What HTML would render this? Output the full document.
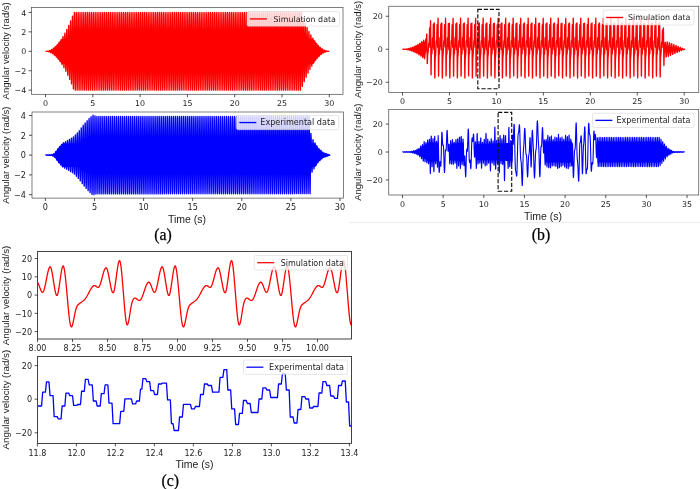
<!DOCTYPE html>
<html><head><meta charset="utf-8"><title>Figure</title>
<style>html,body{margin:0;padding:0;background:#fff}body{width:700px;height:489px;overflow:hidden}</style></head>
<body>
<svg width="700" height="489" viewBox="0 0 700 489" style="display:block">
<rect width="700" height="489" fill="#fff"/>
<line x1="349.5" x2="700" y1="222.6" y2="222.6" stroke="#ececec" stroke-width="1"/>
<defs>
<clipPath id="cp0"><rect x="31.6" y="7.4" width="311.4" height="86.89999999999999"/></clipPath>
<clipPath id="cp1"><rect x="32" y="112.0" width="311.5" height="86.1"/></clipPath>
<clipPath id="cp2"><rect x="388.75" y="6.25" width="310.0" height="86.25"/></clipPath>
<clipPath id="cp3"><rect x="388.75" y="109.5" width="310.0" height="85.5"/></clipPath>
<clipPath id="cp4"><rect x="37.6" y="251.4" width="313.9" height="87.6"/></clipPath>
<clipPath id="cp5"><rect x="37.6" y="356.5" width="313.9" height="86.89999999999998"/></clipPath>
</defs>
<path clip-path="url(#cp0)" d="M45.5,51.3L46.45,51.26L47.39,51.13L48.34,50.91L49.28,50.61L50.23,50.22L51.18,49.74L52.12,49.18L53.07,48.54L54.01,47.8L54.96,46.98L55.91,46.07L56.85,45.08L57.8,44L58.74,42.83L59.69,41.58L60.64,40.24L61.58,38.82L62.53,38.66L63.47,38.66L64.42,38.66L65.37,38.66L66.31,38.66L67.26,38.66L68.2,38.66L69.15,38.66L70.1,38.66L71.04,38.66L71.99,38.66L72.93,38.66L73.88,38.66L74.83,38.66L75.77,38.66L76.72,38.66L77.66,38.66L78.61,38.66L79.56,38.66L80.5,38.66L81.45,38.66L82.39,38.66L83.34,38.66L84.29,38.66L85.23,38.66L86.18,38.66L87.12,38.66L88.07,38.66L89.02,38.66L89.96,38.66L90.91,38.66L91.85,38.66L92.8,38.66L93.75,38.66L94.69,38.66L95.64,38.66L96.58,38.66L97.53,38.66L98.48,38.66L99.42,38.66L100.37,38.66L101.31,38.66L102.26,38.66L103.21,38.66L104.15,38.66L105.1,38.66L106.04,38.66L106.99,38.66L107.94,38.66L108.88,38.66L109.83,38.66L110.77,38.66L111.72,38.66L112.67,38.66L113.61,38.66L114.56,38.66L115.5,38.66L116.45,38.66L117.4,38.66L118.34,38.66L119.29,38.66L120.23,38.66L121.18,38.66L122.13,38.66L123.07,38.66L124.02,38.66L124.96,38.66L125.91,38.66L126.86,38.66L127.8,38.66L128.75,38.66L129.69,38.66L130.64,38.66L131.59,38.66L132.53,38.66L133.48,38.66L134.42,38.66L135.37,38.66L136.32,38.66L137.26,38.66L138.21,38.66L139.15,38.66L140.1,38.66L141.05,38.66L141.99,38.66L142.94,38.66L143.88,38.66L144.83,38.66L145.78,38.66L146.72,38.66L147.67,38.66L148.61,38.66L149.56,38.66L150.51,38.66L151.45,38.66L152.4,38.66L153.34,38.66L154.29,38.66L155.24,38.66L156.18,38.66L157.13,38.66L158.07,38.66L159.02,38.66L159.97,38.66L160.91,38.66L161.86,38.66L162.8,38.66L163.75,38.66L164.7,38.66L165.64,38.66L166.59,38.66L167.53,38.66L168.48,38.66L169.43,38.66L170.37,38.66L171.32,38.66L172.26,38.66L173.21,38.66L174.16,38.66L175.1,38.66L176.05,38.66L176.99,38.66L177.94,38.66L178.89,38.66L179.83,38.66L180.78,38.66L181.72,38.66L182.67,38.66L183.62,38.66L184.56,38.66L185.51,38.66L186.45,38.66L187.4,38.66L188.35,38.66L189.29,38.66L190.24,38.66L191.18,38.66L192.13,38.66L193.08,38.66L194.02,38.66L194.97,38.66L195.91,38.66L196.86,38.66L197.81,38.66L198.75,38.66L199.7,38.66L200.64,38.66L201.59,38.66L202.54,38.66L203.48,38.66L204.43,38.66L205.37,38.66L206.32,38.66L207.27,38.66L208.21,38.66L209.16,38.66L210.1,38.66L211.05,38.66L212,38.66L212.94,38.66L213.89,38.66L214.83,38.66L215.78,38.66L216.73,38.66L217.67,38.66L218.62,38.66L219.56,38.66L220.51,38.66L221.46,38.66L222.4,38.66L223.35,38.66L224.29,38.66L225.24,38.66L226.19,38.66L227.13,38.66L228.08,38.66L229.02,38.66L229.97,38.66L230.92,38.66L231.86,38.66L232.81,38.66L233.75,38.66L234.7,38.66L235.65,38.66L236.59,38.66L237.54,38.66L238.48,38.66L239.43,38.66L240.38,38.66L241.32,38.66L242.27,38.66L243.21,38.66L244.16,38.66L245.11,38.66L246.05,38.66L247,38.66L247.94,38.66L248.89,38.66L249.84,38.66L250.78,38.66L251.73,38.66L252.67,38.66L253.62,38.66L254.57,38.66L255.51,38.66L256.46,38.66L257.4,38.66L258.35,38.66L259.3,38.66L260.24,38.66L261.19,38.66L262.13,38.66L263.08,38.66L264.03,38.66L264.97,38.66L265.92,38.66L266.86,38.66L267.81,38.66L268.76,38.66L269.7,38.66L270.65,38.66L271.59,38.66L272.54,38.66L273.49,38.66L274.43,38.66L275.38,38.66L276.32,38.66L277.27,38.66L278.22,38.66L279.16,38.66L280.11,38.66L281.05,38.66L282,38.66L282.95,38.66L283.89,38.66L284.84,38.66L285.78,38.66L286.73,38.66L287.68,38.66L288.62,38.66L289.57,38.66L290.51,38.66L291.46,38.66L292.41,38.66L293.35,38.66L294.3,38.66L295.24,38.66L296.19,38.66L297.14,38.66L298.08,38.66L299.03,38.66L299.97,38.66L300.92,38.66L301.87,38.66L302.81,38.66L303.76,38.66L304.7,38.66L305.65,38.66L306.6,38.66L307.54,38.66L308.49,38.66L309.43,38.66L310.38,38.66L311.33,38.66L312.27,38.66L313.22,38.82L314.16,40.24L315.11,41.58L316.06,42.83L317,44L317.95,45.08L318.89,46.07L319.84,46.98L320.79,47.8L321.73,48.54L322.68,49.18L323.62,49.74L324.57,50.22L325.52,50.61L326.46,50.91L327.41,51.13L328.35,51.26L329.3,51.3L329.3,51.3L328.35,51.34L327.41,51.47L326.46,51.69L325.52,51.99L324.57,52.38L323.62,52.86L322.68,53.42L321.73,54.06L320.79,54.8L319.84,55.62L318.89,56.53L317.95,57.52L317,58.6L316.06,59.77L315.11,61.02L314.16,62.36L313.22,63.78L312.27,63.94L311.33,63.94L310.38,63.94L309.43,63.94L308.49,63.94L307.54,63.94L306.6,63.94L305.65,63.94L304.7,63.94L303.76,63.94L302.81,63.94L301.87,63.94L300.92,63.94L299.97,63.94L299.03,63.94L298.08,63.94L297.14,63.94L296.19,63.94L295.24,63.94L294.3,63.94L293.35,63.94L292.41,63.94L291.46,63.94L290.51,63.94L289.57,63.94L288.62,63.94L287.68,63.94L286.73,63.94L285.78,63.94L284.84,63.94L283.89,63.94L282.95,63.94L282,63.94L281.05,63.94L280.11,63.94L279.16,63.94L278.22,63.94L277.27,63.94L276.32,63.94L275.38,63.94L274.43,63.94L273.49,63.94L272.54,63.94L271.59,63.94L270.65,63.94L269.7,63.94L268.76,63.94L267.81,63.94L266.86,63.94L265.92,63.94L264.97,63.94L264.03,63.94L263.08,63.94L262.13,63.94L261.19,63.94L260.24,63.94L259.3,63.94L258.35,63.94L257.4,63.94L256.46,63.94L255.51,63.94L254.57,63.94L253.62,63.94L252.67,63.94L251.73,63.94L250.78,63.94L249.84,63.94L248.89,63.94L247.94,63.94L247,63.94L246.05,63.94L245.11,63.94L244.16,63.94L243.21,63.94L242.27,63.94L241.32,63.94L240.38,63.94L239.43,63.94L238.48,63.94L237.54,63.94L236.59,63.94L235.65,63.94L234.7,63.94L233.75,63.94L232.81,63.94L231.86,63.94L230.92,63.94L229.97,63.94L229.02,63.94L228.08,63.94L227.13,63.94L226.19,63.94L225.24,63.94L224.29,63.94L223.35,63.94L222.4,63.94L221.46,63.94L220.51,63.94L219.56,63.94L218.62,63.94L217.67,63.94L216.73,63.94L215.78,63.94L214.83,63.94L213.89,63.94L212.94,63.94L212,63.94L211.05,63.94L210.1,63.94L209.16,63.94L208.21,63.94L207.27,63.94L206.32,63.94L205.37,63.94L204.43,63.94L203.48,63.94L202.54,63.94L201.59,63.94L200.64,63.94L199.7,63.94L198.75,63.94L197.81,63.94L196.86,63.94L195.91,63.94L194.97,63.94L194.02,63.94L193.08,63.94L192.13,63.94L191.18,63.94L190.24,63.94L189.29,63.94L188.35,63.94L187.4,63.94L186.45,63.94L185.51,63.94L184.56,63.94L183.62,63.94L182.67,63.94L181.72,63.94L180.78,63.94L179.83,63.94L178.89,63.94L177.94,63.94L176.99,63.94L176.05,63.94L175.1,63.94L174.16,63.94L173.21,63.94L172.26,63.94L171.32,63.94L170.37,63.94L169.43,63.94L168.48,63.94L167.53,63.94L166.59,63.94L165.64,63.94L164.7,63.94L163.75,63.94L162.8,63.94L161.86,63.94L160.91,63.94L159.97,63.94L159.02,63.94L158.07,63.94L157.13,63.94L156.18,63.94L155.24,63.94L154.29,63.94L153.34,63.94L152.4,63.94L151.45,63.94L150.51,63.94L149.56,63.94L148.61,63.94L147.67,63.94L146.72,63.94L145.78,63.94L144.83,63.94L143.88,63.94L142.94,63.94L141.99,63.94L141.05,63.94L140.1,63.94L139.15,63.94L138.21,63.94L137.26,63.94L136.32,63.94L135.37,63.94L134.42,63.94L133.48,63.94L132.53,63.94L131.59,63.94L130.64,63.94L129.69,63.94L128.75,63.94L127.8,63.94L126.86,63.94L125.91,63.94L124.96,63.94L124.02,63.94L123.07,63.94L122.13,63.94L121.18,63.94L120.23,63.94L119.29,63.94L118.34,63.94L117.4,63.94L116.45,63.94L115.5,63.94L114.56,63.94L113.61,63.94L112.67,63.94L111.72,63.94L110.77,63.94L109.83,63.94L108.88,63.94L107.94,63.94L106.99,63.94L106.04,63.94L105.1,63.94L104.15,63.94L103.21,63.94L102.26,63.94L101.31,63.94L100.37,63.94L99.42,63.94L98.48,63.94L97.53,63.94L96.58,63.94L95.64,63.94L94.69,63.94L93.75,63.94L92.8,63.94L91.85,63.94L90.91,63.94L89.96,63.94L89.02,63.94L88.07,63.94L87.12,63.94L86.18,63.94L85.23,63.94L84.29,63.94L83.34,63.94L82.39,63.94L81.45,63.94L80.5,63.94L79.56,63.94L78.61,63.94L77.66,63.94L76.72,63.94L75.77,63.94L74.83,63.94L73.88,63.94L72.93,63.94L71.99,63.94L71.04,63.94L70.1,63.94L69.15,63.94L68.2,63.94L67.26,63.94L66.31,63.94L65.37,63.94L64.42,63.94L63.47,63.94L62.53,63.94L61.58,63.78L60.64,62.36L59.69,61.02L58.74,59.77L57.8,58.6L56.85,57.52L55.91,56.53L54.96,55.62L54.01,54.8L53.07,54.06L52.12,53.42L51.18,52.86L50.23,52.38L49.28,51.99L48.34,51.69L47.39,51.47L46.45,51.34L45.5,51.3Z" fill="#ff0000" fill-opacity="1" stroke="none"/>
<path clip-path="url(#cp0)" d="M45.5,51.3L45.59,51.3L45.69,51.3L45.78,51.3L45.88,51.29L45.97,51.29L46.07,51.29L46.16,51.28L46.26,51.28L46.35,51.29L46.45,51.3L46.54,51.32L46.64,51.34L46.73,51.36L46.82,51.38L46.92,51.4L47.01,51.41L47.11,51.4L47.2,51.38L47.3,51.35L47.39,51.3L47.49,51.24L47.58,51.18L47.68,51.12L47.77,51.06L47.87,51.03L47.96,51.02L48.05,51.05L48.15,51.1L48.24,51.19L48.34,51.3L48.43,51.43L48.53,51.56L48.62,51.68L48.72,51.77L48.81,51.83L48.91,51.83L49,51.78L49.09,51.67L49.19,51.5L49.28,51.3L49.38,51.08L49.47,50.85L49.57,50.65L49.66,50.5L49.76,50.43L49.85,50.43L49.95,50.53L50.04,50.71L50.14,50.98L50.23,51.3L50.32,51.65L50.42,51.99L50.51,52.28L50.61,52.5L50.7,52.61L50.8,52.59L50.89,52.44L50.99,52.15L51.08,51.76L51.18,51.3L51.27,50.8L51.37,50.32L51.46,49.91L51.55,49.62L51.65,49.47L51.74,49.51L51.84,49.73L51.93,50.13L52.03,50.66L52.12,51.3L52.22,51.97L52.31,52.62L52.41,53.16L52.5,53.55L52.59,53.73L52.69,53.67L52.78,53.37L52.88,52.84L52.97,52.13L53.07,51.3L53.16,50.42L53.26,49.59L53.35,48.89L53.45,48.4L53.54,48.18L53.64,48.26L53.73,48.65L53.82,49.33L53.92,50.24L54.01,51.3L54.11,52.41L54.2,53.45L54.3,54.32L54.39,54.93L54.49,55.2L54.58,55.09L54.68,54.59L54.77,53.74L54.87,52.61L54.96,51.3L55.05,49.94L55.15,48.66L55.24,47.59L55.34,46.86L55.43,46.54L55.53,46.68L55.62,47.3L55.72,48.34L55.81,49.71L55.91,51.3L56,52.94L56.1,54.49L56.19,55.76L56.28,56.64L56.38,57.01L56.47,56.83L56.57,56.08L56.66,54.84L56.76,53.19L56.85,51.3L56.95,49.35L57.04,47.52L57.14,46.01L57.23,44.98L57.33,44.55L57.42,44.78L57.51,45.66L57.61,47.14L57.7,49.08L57.8,51.3L57.89,53.59L57.99,55.72L58.08,57.48L58.18,58.68L58.27,59.17L58.37,58.9L58.46,57.86L58.55,56.14L58.65,53.88L58.74,51.3L58.84,48.65L58.93,46.18L59.03,44.15L59.12,42.78L59.22,42.22L59.31,42.54L59.41,43.75L59.5,45.74L59.6,48.34L59.69,51.3L59.78,54.34L59.88,57.17L59.97,59.48L60.07,61.04L60.16,61.68L60.26,61.3L60.35,59.91L60.45,57.64L60.54,54.67L60.64,51.3L60.73,47.84L60.83,44.64L60.92,42.01L61.01,40.25L61.11,39.54L61.2,39.98L61.3,41.55L61.39,44.13L61.49,47.49L61.58,51.3L61.68,55.2L61.77,58.81L61.87,61.76L61.96,63.74L62.05,64.53L62.15,64.03L62.24,62.25L62.34,59.35L62.43,55.58L62.53,51.3L62.62,46.93L62.72,42.89L62.81,39.6L62.91,37.39L63,36.51L63.1,37.09L63.19,39.08L63.28,42.33L63.38,46.53L63.47,51.3L63.57,56.17L63.66,60.66L63.76,64.32L63.85,66.76L63.95,67.73L64.04,67.08L64.14,64.86L64.23,61.25L64.33,56.59L64.42,51.3L64.51,45.91L64.61,40.94L64.7,36.9L64.8,34.2L64.89,33.15L64.99,33.86L65.08,36.32L65.18,40.31L65.27,45.47L65.37,51.3L65.46,57.24L65.56,62.71L65.65,67.16L65.74,70.12L65.84,71.27L65.93,70.47L66.03,67.76L66.12,63.37L66.22,57.7L66.31,51.3L66.41,44.78L66.5,38.79L66.6,33.92L66.69,30.68L66.78,29.43L66.88,30.32L66.97,33.29L67.07,38.1L67.16,44.3L67.26,51.3L67.35,58.42L67.45,64.97L67.54,70.27L67.64,73.8L67.73,75.16L67.83,74.18L67.92,70.93L68.01,65.68L68.11,58.93L68.2,51.3L68.3,43.55L68.39,36.43L68.49,30.66L68.58,26.84L68.68,25.37L68.77,26.44L68.87,29.98L68.96,35.68L69.06,43.02L69.15,51.3L69.24,59.71L69.34,67.43L69.43,73.67L69.53,77.81L69.62,79.39L69.72,78.23L69.81,74.38L69.91,68.2L70,60.26L70.1,51.3L70.19,42.21L70.29,33.87L70.38,27.13L70.47,22.66L70.57,20.96L70.66,22.23L70.76,26.38L70.85,33.06L70.95,41.64L71.04,51.3L71.14,61.1L71.23,70.09L71.33,77.35L71.42,82.15L71.52,83.97L71.61,82.6L71.7,78.12L71.8,70.92L71.89,61.69L71.99,51.3L72.08,40.76L72.18,31.11L72.27,23.31L72.37,18.16L72.46,16.21L72.56,17.69L72.65,22.51L72.74,30.24L72.84,40.15L72.93,51.3L73.03,62.6L73.12,72.95L73.22,81.3L73.31,86.81L73.41,88.89L73.5,87.3L73.6,82.13L73.69,73.85L73.79,63.23L73.88,51.3L73.97,39.29L74.07,28.45L74.16,19.85L74.26,14.32L74.35,12.42L74.45,14.32L74.54,19.85L74.64,28.45L74.73,39.29L74.83,51.3L74.92,63.31L75.02,74.15L75.11,82.75L75.2,88.28L75.3,90.18L75.39,88.28L75.49,82.75L75.58,74.15L75.68,63.31L75.77,51.3L75.87,39.29L75.96,28.45L76.06,19.85L76.15,14.32L76.25,12.42L76.34,14.32L76.43,19.85L76.53,28.45L76.62,39.29L76.72,51.3L76.81,63.31L76.91,74.15L77,82.75L77.1,88.28L77.19,90.18L77.29,88.28L77.38,82.75L77.47,74.15L77.57,63.31L77.66,51.3L77.76,39.29L77.85,28.45L77.95,19.85L78.04,14.32L78.14,12.42L78.23,14.32L78.33,19.85L78.42,28.45L78.52,39.29L78.61,51.3L78.7,63.31L78.8,74.15L78.89,82.75L78.99,88.28L79.08,90.18L79.18,88.28L79.27,82.75L79.37,74.15L79.46,63.31L79.56,51.3L79.65,39.29L79.75,28.45L79.84,19.85L79.93,14.32L80.03,12.42L80.12,14.32L80.22,19.85L80.31,28.45L80.41,39.29L80.5,51.3L80.6,63.31L80.69,74.15L80.79,82.75L80.88,88.28L80.97,90.18L81.07,88.28L81.16,82.75L81.26,74.15L81.35,63.31L81.45,51.3L81.54,39.29L81.64,28.45L81.73,19.85L81.83,14.32L81.92,12.42L82.02,14.32L82.11,19.85L82.2,28.45L82.3,39.29L82.39,51.3L82.49,63.31L82.58,74.15L82.68,82.75L82.77,88.28L82.87,90.18L82.96,88.28L83.06,82.75L83.15,74.15L83.25,63.31L83.34,51.3L83.43,39.29L83.53,28.45L83.62,19.85L83.72,14.32L83.81,12.42L83.91,14.32L84,19.85L84.1,28.45L84.19,39.29L84.29,51.3L84.38,63.31L84.48,74.15L84.57,82.75L84.66,88.28L84.76,90.18L84.85,88.28L84.95,82.75L85.04,74.15L85.14,63.31L85.23,51.3L85.33,39.29L85.42,28.45L85.52,19.85L85.61,14.32L85.71,12.42L85.8,14.32L85.89,19.85L85.99,28.45L86.08,39.29L86.18,51.3L86.27,63.31L86.37,74.15L86.46,82.75L86.56,88.28L86.65,90.18L86.75,88.28L86.84,82.75L86.93,74.15L87.03,63.31L87.12,51.3L87.22,39.29L87.31,28.45L87.41,19.85L87.5,14.32L87.6,12.42L87.69,14.32L87.79,19.85L87.88,28.45L87.98,39.29L88.07,51.3L88.16,63.31L88.26,74.15L88.35,82.75L88.45,88.28L88.54,90.18L88.64,88.28L88.73,82.75L88.83,74.15L88.92,63.31L89.02,51.3L89.11,39.29L89.21,28.45L89.3,19.85L89.39,14.32L89.49,12.42L89.58,14.32L89.68,19.85L89.77,28.45L89.87,39.29L89.96,51.3L90.06,63.31L90.15,74.15L90.25,82.75L90.34,88.28L90.44,90.18L90.53,88.28L90.62,82.75L90.72,74.15L90.81,63.31L90.91,51.3L91,39.29L91.1,28.45L91.19,19.85L91.29,14.32L91.38,12.42L91.48,14.32L91.57,19.85L91.66,28.45L91.76,39.29L91.85,51.3L91.95,63.31L92.04,74.15L92.14,82.75L92.23,88.28L92.33,90.18L92.42,88.28L92.52,82.75L92.61,74.15L92.71,63.31L92.8,51.3L92.89,39.29L92.99,28.45L93.08,19.85L93.18,14.32L93.27,12.42L93.37,14.32L93.46,19.85L93.56,28.45L93.65,39.29L93.75,51.3L93.84,63.31L93.94,74.15L94.03,82.75L94.12,88.28L94.22,90.18L94.31,88.28L94.41,82.75L94.5,74.15L94.6,63.31L94.69,51.3L94.79,39.29L94.88,28.45L94.98,19.85L95.07,14.32L95.17,12.42L95.26,14.32L95.35,19.85L95.45,28.45L95.54,39.29L95.64,51.3L95.73,63.31L95.83,74.15L95.92,82.75L96.02,88.28L96.11,90.18L96.21,88.28L96.3,82.75L96.39,74.15L96.49,63.31L96.58,51.3L96.68,39.29L96.77,28.45L96.87,19.85L96.96,14.32L97.06,12.42L97.15,14.32L97.25,19.85L97.34,28.45L97.44,39.29L97.53,51.3L97.62,63.31L97.72,74.15L97.81,82.75L97.91,88.28L98,90.18L98.1,88.28L98.19,82.75L98.29,74.15L98.38,63.31L98.48,51.3L98.57,39.29L98.67,28.45L98.76,19.85L98.85,14.32L98.95,12.42L99.04,14.32L99.14,19.85L99.23,28.45L99.33,39.29L99.42,51.3L99.52,63.31L99.61,74.15L99.71,82.75L99.8,88.28L99.9,90.18L99.99,88.28L100.08,82.75L100.18,74.15L100.27,63.31L100.37,51.3L100.46,39.29L100.56,28.45L100.65,19.85L100.75,14.32L100.84,12.42L100.94,14.32L101.03,19.85L101.12,28.45L101.22,39.29L101.31,51.3L101.41,63.31L101.5,74.15L101.6,82.75L101.69,88.28L101.79,90.18L101.88,88.28L101.98,82.75L102.07,74.15L102.17,63.31L102.26,51.3L102.35,39.29L102.45,28.45L102.54,19.85L102.64,14.32L102.73,12.42L102.83,14.32L102.92,19.85L103.02,28.45L103.11,39.29L103.21,51.3L103.3,63.31L103.4,74.15L103.49,82.75L103.58,88.28L103.68,90.18L103.77,88.28L103.87,82.75L103.96,74.15L104.06,63.31L104.15,51.3L104.25,39.29L104.34,28.45L104.44,19.85L104.53,14.32L104.62,12.42L104.72,14.32L104.81,19.85L104.91,28.45L105,39.29L105.1,51.3L105.19,63.31L105.29,74.15L105.38,82.75L105.48,88.28L105.57,90.18L105.67,88.28L105.76,82.75L105.85,74.15L105.95,63.31L106.04,51.3L106.14,39.29L106.23,28.45L106.33,19.85L106.42,14.32L106.52,12.42L106.61,14.32L106.71,19.85L106.8,28.45L106.9,39.29L106.99,51.3L107.08,63.31L107.18,74.15L107.27,82.75L107.37,88.28L107.46,90.18L107.56,88.28L107.65,82.75L107.75,74.15L107.84,63.31L107.94,51.3L108.03,39.29L108.13,28.45L108.22,19.85L108.31,14.32L108.41,12.42L108.5,14.32L108.6,19.85L108.69,28.45L108.79,39.29L108.88,51.3L108.98,63.31L109.07,74.15L109.17,82.75L109.26,88.28L109.36,90.18L109.45,88.28L109.54,82.75L109.64,74.15L109.73,63.31L109.83,51.3L109.92,39.29L110.02,28.45L110.11,19.85L110.21,14.32L110.3,12.42L110.4,14.32L110.49,19.85L110.58,28.45L110.68,39.29L110.77,51.3L110.87,63.31L110.96,74.15L111.06,82.75L111.15,88.28L111.25,90.18L111.34,88.28L111.44,82.75L111.53,74.15L111.63,63.31L111.72,51.3L111.81,39.29L111.91,28.45L112,19.85L112.1,14.32L112.19,12.42L112.29,14.32L112.38,19.85L112.48,28.45L112.57,39.29L112.67,51.3L112.76,63.31L112.86,74.15L112.95,82.75L113.04,88.28L113.14,90.18L113.23,88.28L113.33,82.75L113.42,74.15L113.52,63.31L113.61,51.3L113.71,39.29L113.8,28.45L113.9,19.85L113.99,14.32L114.09,12.42L114.18,14.32L114.27,19.85L114.37,28.45L114.46,39.29L114.56,51.3L114.65,63.31L114.75,74.15L114.84,82.75L114.94,88.28L115.03,90.18L115.13,88.28L115.22,82.75L115.31,74.15L115.41,63.31L115.5,51.3L115.6,39.29L115.69,28.45L115.79,19.85L115.88,14.32L115.98,12.42L116.07,14.32L116.17,19.85L116.26,28.45L116.36,39.29L116.45,51.3L116.54,63.31L116.64,74.15L116.73,82.75L116.83,88.28L116.92,90.18L117.02,88.28L117.11,82.75L117.21,74.15L117.3,63.31L117.4,51.3L117.49,39.29L117.59,28.45L117.68,19.85L117.77,14.32L117.87,12.42L117.96,14.32L118.06,19.85L118.15,28.45L118.25,39.29L118.34,51.3L118.44,63.31L118.53,74.15L118.63,82.75L118.72,88.28L118.82,90.18L118.91,88.28L119,82.75L119.1,74.15L119.19,63.31L119.29,51.3L119.38,39.29L119.48,28.45L119.57,19.85L119.67,14.32L119.76,12.42L119.86,14.32L119.95,19.85L120.04,28.45L120.14,39.29L120.23,51.3L120.33,63.31L120.42,74.15L120.52,82.75L120.61,88.28L120.71,90.18L120.8,88.28L120.9,82.75L120.99,74.15L121.09,63.31L121.18,51.3L121.27,39.29L121.37,28.45L121.46,19.85L121.56,14.32L121.65,12.42L121.75,14.32L121.84,19.85L121.94,28.45L122.03,39.29L122.13,51.3L122.22,63.31L122.32,74.15L122.41,82.75L122.5,88.28L122.6,90.18L122.69,88.28L122.79,82.75L122.88,74.15L122.98,63.31L123.07,51.3L123.17,39.29L123.26,28.45L123.36,19.85L123.45,14.32L123.55,12.42L123.64,14.32L123.73,19.85L123.83,28.45L123.92,39.29L124.02,51.3L124.11,63.31L124.21,74.15L124.3,82.75L124.4,88.28L124.49,90.18L124.59,88.28L124.68,82.75L124.77,74.15L124.87,63.31L124.96,51.3L125.06,39.29L125.15,28.45L125.25,19.85L125.34,14.32L125.44,12.42L125.53,14.32L125.63,19.85L125.72,28.45L125.82,39.29L125.91,51.3L126,63.31L126.1,74.15L126.19,82.75L126.29,88.28L126.38,90.18L126.48,88.28L126.57,82.75L126.67,74.15L126.76,63.31L126.86,51.3L126.95,39.29L127.05,28.45L127.14,19.85L127.23,14.32L127.33,12.42L127.42,14.32L127.52,19.85L127.61,28.45L127.71,39.29L127.8,51.3L127.9,63.31L127.99,74.15L128.09,82.75L128.18,88.28L128.28,90.18L128.37,88.28L128.46,82.75L128.56,74.15L128.65,63.31L128.75,51.3L128.84,39.29L128.94,28.45L129.03,19.85L129.13,14.32L129.22,12.42L129.32,14.32L129.41,19.85L129.5,28.45L129.6,39.29L129.69,51.3L129.79,63.31L129.88,74.15L129.98,82.75L130.07,88.28L130.17,90.18L130.26,88.28L130.36,82.75L130.45,74.15L130.55,63.31L130.64,51.3L130.73,39.29L130.83,28.45L130.92,19.85L131.02,14.32L131.11,12.42L131.21,14.32L131.3,19.85L131.4,28.45L131.49,39.29L131.59,51.3L131.68,63.31L131.78,74.15L131.87,82.75L131.96,88.28L132.06,90.18L132.15,88.28L132.25,82.75L132.34,74.15L132.44,63.31L132.53,51.3L132.63,39.29L132.72,28.45L132.82,19.85L132.91,14.32L133,12.42L133.1,14.32L133.19,19.85L133.29,28.45L133.38,39.29L133.48,51.3L133.57,63.31L133.67,74.15L133.76,82.75L133.86,88.28L133.95,90.18L134.05,88.28L134.14,82.75L134.23,74.15L134.33,63.31L134.42,51.3L134.52,39.29L134.61,28.45L134.71,19.85L134.8,14.32L134.9,12.42L134.99,14.32L135.09,19.85L135.18,28.45L135.28,39.29L135.37,51.3L135.46,63.31L135.56,74.15L135.65,82.75L135.75,88.28L135.84,90.18L135.94,88.28L136.03,82.75L136.13,74.15L136.22,63.31L136.32,51.3L136.41,39.29L136.51,28.45L136.6,19.85L136.69,14.32L136.79,12.42L136.88,14.32L136.98,19.85L137.07,28.45L137.17,39.29L137.26,51.3L137.36,63.31L137.45,74.15L137.55,82.75L137.64,88.28L137.74,90.18L137.83,88.28L137.92,82.75L138.02,74.15L138.11,63.31L138.21,51.3L138.3,39.29L138.4,28.45L138.49,19.85L138.59,14.32L138.68,12.42L138.78,14.32L138.87,19.85L138.96,28.45L139.06,39.29L139.15,51.3L139.25,63.31L139.34,74.15L139.44,82.75L139.53,88.28L139.63,90.18L139.72,88.28L139.82,82.75L139.91,74.15L140.01,63.31L140.1,51.3L140.19,39.29L140.29,28.45L140.38,19.85L140.48,14.32L140.57,12.42L140.67,14.32L140.76,19.85L140.86,28.45L140.95,39.29L141.05,51.3L141.14,63.31L141.24,74.15L141.33,82.75L141.42,88.28L141.52,90.18L141.61,88.28L141.71,82.75L141.8,74.15L141.9,63.31L141.99,51.3L142.09,39.29L142.18,28.45L142.28,19.85L142.37,14.32L142.47,12.42L142.56,14.32L142.65,19.85L142.75,28.45L142.84,39.29L142.94,51.3L143.03,63.31L143.13,74.15L143.22,82.75L143.32,88.28L143.41,90.18L143.51,88.28L143.6,82.75L143.69,74.15L143.79,63.31L143.88,51.3L143.98,39.29L144.07,28.45L144.17,19.85L144.26,14.32L144.36,12.42L144.45,14.32L144.55,19.85L144.64,28.45L144.74,39.29L144.83,51.3L144.92,63.31L145.02,74.15L145.11,82.75L145.21,88.28L145.3,90.18L145.4,88.28L145.49,82.75L145.59,74.15L145.68,63.31L145.78,51.3L145.87,39.29L145.97,28.45L146.06,19.85L146.15,14.32L146.25,12.42L146.34,14.32L146.44,19.85L146.53,28.45L146.63,39.29L146.72,51.3L146.82,63.31L146.91,74.15L147.01,82.75L147.1,88.28L147.19,90.18L147.29,88.28L147.38,82.75L147.48,74.15L147.57,63.31L147.67,51.3L147.76,39.29L147.86,28.45L147.95,19.85L148.05,14.32L148.14,12.42L148.24,14.32L148.33,19.85L148.42,28.45L148.52,39.29L148.61,51.3L148.71,63.31L148.8,74.15L148.9,82.75L148.99,88.28L149.09,90.18L149.18,88.28L149.28,82.75L149.37,74.15L149.47,63.31L149.56,51.3L149.65,39.29L149.75,28.45L149.84,19.85L149.94,14.32L150.03,12.42L150.13,14.32L150.22,19.85L150.32,28.45L150.41,39.29L150.51,51.3L150.6,63.31L150.7,74.15L150.79,82.75L150.88,88.28L150.98,90.18L151.07,88.28L151.17,82.75L151.26,74.15L151.36,63.31L151.45,51.3L151.55,39.29L151.64,28.45L151.74,19.85L151.83,14.32L151.93,12.42L152.02,14.32L152.11,19.85L152.21,28.45L152.3,39.29L152.4,51.3L152.49,63.31L152.59,74.15L152.68,82.75L152.78,88.28L152.87,90.18L152.97,88.28L153.06,82.75L153.15,74.15L153.25,63.31L153.34,51.3L153.44,39.29L153.53,28.45L153.63,19.85L153.72,14.32L153.82,12.42L153.91,14.32L154.01,19.85L154.1,28.45L154.2,39.29L154.29,51.3L154.38,63.31L154.48,74.15L154.57,82.75L154.67,88.28L154.76,90.18L154.86,88.28L154.95,82.75L155.05,74.15L155.14,63.31L155.24,51.3L155.33,39.29L155.43,28.45L155.52,19.85L155.61,14.32L155.71,12.42L155.8,14.32L155.9,19.85L155.99,28.45L156.09,39.29L156.18,51.3L156.28,63.31L156.37,74.15L156.47,82.75L156.56,88.28L156.66,90.18L156.75,88.28L156.84,82.75L156.94,74.15L157.03,63.31L157.13,51.3L157.22,39.29L157.32,28.45L157.41,19.85L157.51,14.32L157.6,12.42L157.7,14.32L157.79,19.85L157.88,28.45L157.98,39.29L158.07,51.3L158.17,63.31L158.26,74.15L158.36,82.75L158.45,88.28L158.55,90.18L158.64,88.28L158.74,82.75L158.83,74.15L158.93,63.31L159.02,51.3L159.11,39.29L159.21,28.45L159.3,19.85L159.4,14.32L159.49,12.42L159.59,14.32L159.68,19.85L159.78,28.45L159.87,39.29L159.97,51.3L160.06,63.31L160.16,74.15L160.25,82.75L160.34,88.28L160.44,90.18L160.53,88.28L160.63,82.75L160.72,74.15L160.82,63.31L160.91,51.3L161.01,39.29L161.1,28.45L161.2,19.85L161.29,14.32L161.38,12.42L161.48,14.32L161.57,19.85L161.67,28.45L161.76,39.29L161.86,51.3L161.95,63.31L162.05,74.15L162.14,82.75L162.24,88.28L162.33,90.18L162.43,88.28L162.52,82.75L162.61,74.15L162.71,63.31L162.8,51.3L162.9,39.29L162.99,28.45L163.09,19.85L163.18,14.32L163.28,12.42L163.37,14.32L163.47,19.85L163.56,28.45L163.66,39.29L163.75,51.3L163.84,63.31L163.94,74.15L164.03,82.75L164.13,88.28L164.22,90.18L164.32,88.28L164.41,82.75L164.51,74.15L164.6,63.31L164.7,51.3L164.79,39.29L164.89,28.45L164.98,19.85L165.07,14.32L165.17,12.42L165.26,14.32L165.36,19.85L165.45,28.45L165.55,39.29L165.64,51.3L165.74,63.31L165.83,74.15L165.93,82.75L166.02,88.28L166.12,90.18L166.21,88.28L166.3,82.75L166.4,74.15L166.49,63.31L166.59,51.3L166.68,39.29L166.78,28.45L166.87,19.85L166.97,14.32L167.06,12.42L167.16,14.32L167.25,19.85L167.34,28.45L167.44,39.29L167.53,51.3L167.63,63.31L167.72,74.15L167.82,82.75L167.91,88.28L168.01,90.18L168.1,88.28L168.2,82.75L168.29,74.15L168.39,63.31L168.48,51.3L168.57,39.29L168.67,28.45L168.76,19.85L168.86,14.32L168.95,12.42L169.05,14.32L169.14,19.85L169.24,28.45L169.33,39.29L169.43,51.3L169.52,63.31L169.62,74.15L169.71,82.75L169.8,88.28L169.9,90.18L169.99,88.28L170.09,82.75L170.18,74.15L170.28,63.31L170.37,51.3L170.47,39.29L170.56,28.45L170.66,19.85L170.75,14.32L170.85,12.42L170.94,14.32L171.03,19.85L171.13,28.45L171.22,39.29L171.32,51.3L171.41,63.31L171.51,74.15L171.6,82.75L171.7,88.28L171.79,90.18L171.89,88.28L171.98,82.75L172.07,74.15L172.17,63.31L172.26,51.3L172.36,39.29L172.45,28.45L172.55,19.85L172.64,14.32L172.74,12.42L172.83,14.32L172.93,19.85L173.02,28.45L173.12,39.29L173.21,51.3L173.3,63.31L173.4,74.15L173.49,82.75L173.59,88.28L173.68,90.18L173.78,88.28L173.87,82.75L173.97,74.15L174.06,63.31L174.16,51.3L174.25,39.29L174.35,28.45L174.44,19.85L174.53,14.32L174.63,12.42L174.72,14.32L174.82,19.85L174.91,28.45L175.01,39.29L175.1,51.3L175.2,63.31L175.29,74.15L175.39,82.75L175.48,88.28L175.58,90.18L175.67,88.28L175.76,82.75L175.86,74.15L175.95,63.31L176.05,51.3L176.14,39.29L176.24,28.45L176.33,19.85L176.43,14.32L176.52,12.42L176.62,14.32L176.71,19.85L176.8,28.45L176.9,39.29L176.99,51.3L177.09,63.31L177.18,74.15L177.28,82.75L177.37,88.28L177.47,90.18L177.56,88.28L177.66,82.75L177.75,74.15L177.85,63.31L177.94,51.3L178.03,39.29L178.13,28.45L178.22,19.85L178.32,14.32L178.41,12.42L178.51,14.32L178.6,19.85L178.7,28.45L178.79,39.29L178.89,51.3L178.98,63.31L179.08,74.15L179.17,82.75L179.26,88.28L179.36,90.18L179.45,88.28L179.55,82.75L179.64,74.15L179.74,63.31L179.83,51.3L179.93,39.29L180.02,28.45L180.12,19.85L180.21,14.32L180.31,12.42L180.4,14.32L180.49,19.85L180.59,28.45L180.68,39.29L180.78,51.3L180.87,63.31L180.97,74.15L181.06,82.75L181.16,88.28L181.25,90.18L181.35,88.28L181.44,82.75L181.53,74.15L181.63,63.31L181.72,51.3L181.82,39.29L181.91,28.45L182.01,19.85L182.1,14.32L182.2,12.42L182.29,14.32L182.39,19.85L182.48,28.45L182.58,39.29L182.67,51.3L182.76,63.31L182.86,74.15L182.95,82.75L183.05,88.28L183.14,90.18L183.24,88.28L183.33,82.75L183.43,74.15L183.52,63.31L183.62,51.3L183.71,39.29L183.81,28.45L183.9,19.85L183.99,14.32L184.09,12.42L184.18,14.32L184.28,19.85L184.37,28.45L184.47,39.29L184.56,51.3L184.66,63.31L184.75,74.15L184.85,82.75L184.94,88.28L185.04,90.18L185.13,88.28L185.22,82.75L185.32,74.15L185.41,63.31L185.51,51.3L185.6,39.29L185.7,28.45L185.79,19.85L185.89,14.32L185.98,12.42L186.08,14.32L186.17,19.85L186.26,28.45L186.36,39.29L186.45,51.3L186.55,63.31L186.64,74.15L186.74,82.75L186.83,88.28L186.93,90.18L187.02,88.28L187.12,82.75L187.21,74.15L187.31,63.31L187.4,51.3L187.49,39.29L187.59,28.45L187.68,19.85L187.78,14.32L187.87,12.42L187.97,14.32L188.06,19.85L188.16,28.45L188.25,39.29L188.35,51.3L188.44,63.31L188.54,74.15L188.63,82.75L188.72,88.28L188.82,90.18L188.91,88.28L189.01,82.75L189.1,74.15L189.2,63.31L189.29,51.3L189.39,39.29L189.48,28.45L189.58,19.85L189.67,14.32L189.77,12.42L189.86,14.32L189.95,19.85L190.05,28.45L190.14,39.29L190.24,51.3L190.33,63.31L190.43,74.15L190.52,82.75L190.62,88.28L190.71,90.18L190.81,88.28L190.9,82.75L190.99,74.15L191.09,63.31L191.18,51.3L191.28,39.29L191.37,28.45L191.47,19.85L191.56,14.32L191.66,12.42L191.75,14.32L191.85,19.85L191.94,28.45L192.04,39.29L192.13,51.3L192.22,63.31L192.32,74.15L192.41,82.75L192.51,88.28L192.6,90.18L192.7,88.28L192.79,82.75L192.89,74.15L192.98,63.31L193.08,51.3L193.17,39.29L193.27,28.45L193.36,19.85L193.45,14.32L193.55,12.42L193.64,14.32L193.74,19.85L193.83,28.45L193.93,39.29L194.02,51.3L194.12,63.31L194.21,74.15L194.31,82.75L194.4,88.28L194.5,90.18L194.59,88.28L194.68,82.75L194.78,74.15L194.87,63.31L194.97,51.3L195.06,39.29L195.16,28.45L195.25,19.85L195.35,14.32L195.44,12.42L195.54,14.32L195.63,19.85L195.72,28.45L195.82,39.29L195.91,51.3L196.01,63.31L196.1,74.15L196.2,82.75L196.29,88.28L196.39,90.18L196.48,88.28L196.58,82.75L196.67,74.15L196.77,63.31L196.86,51.3L196.95,39.29L197.05,28.45L197.14,19.85L197.24,14.32L197.33,12.42L197.43,14.32L197.52,19.85L197.62,28.45L197.71,39.29L197.81,51.3L197.9,63.31L198,74.15L198.09,82.75L198.18,88.28L198.28,90.18L198.37,88.28L198.47,82.75L198.56,74.15L198.66,63.31L198.75,51.3L198.85,39.29L198.94,28.45L199.04,19.85L199.13,14.32L199.23,12.42L199.32,14.32L199.41,19.85L199.51,28.45L199.6,39.29L199.7,51.3L199.79,63.31L199.89,74.15L199.98,82.75L200.08,88.28L200.17,90.18L200.27,88.28L200.36,82.75L200.45,74.15L200.55,63.31L200.64,51.3L200.74,39.29L200.83,28.45L200.93,19.85L201.02,14.32L201.12,12.42L201.21,14.32L201.31,19.85L201.4,28.45L201.5,39.29L201.59,51.3L201.68,63.31L201.78,74.15L201.87,82.75L201.97,88.28L202.06,90.18L202.16,88.28L202.25,82.75L202.35,74.15L202.44,63.31L202.54,51.3L202.63,39.29L202.73,28.45L202.82,19.85L202.91,14.32L203.01,12.42L203.1,14.32L203.2,19.85L203.29,28.45L203.39,39.29L203.48,51.3L203.58,63.31L203.67,74.15L203.77,82.75L203.86,88.28L203.96,90.18L204.05,88.28L204.14,82.75L204.24,74.15L204.33,63.31L204.43,51.3L204.52,39.29L204.62,28.45L204.71,19.85L204.81,14.32L204.9,12.42L205,14.32L205.09,19.85L205.18,28.45L205.28,39.29L205.37,51.3L205.47,63.31L205.56,74.15L205.66,82.75L205.75,88.28L205.85,90.18L205.94,88.28L206.04,82.75L206.13,74.15L206.23,63.31L206.32,51.3L206.41,39.29L206.51,28.45L206.6,19.85L206.7,14.32L206.79,12.42L206.89,14.32L206.98,19.85L207.08,28.45L207.17,39.29L207.27,51.3L207.36,63.31L207.46,74.15L207.55,82.75L207.64,88.28L207.74,90.18L207.83,88.28L207.93,82.75L208.02,74.15L208.12,63.31L208.21,51.3L208.31,39.29L208.4,28.45L208.5,19.85L208.59,14.32L208.69,12.42L208.78,14.32L208.87,19.85L208.97,28.45L209.06,39.29L209.16,51.3L209.25,63.31L209.35,74.15L209.44,82.75L209.54,88.28L209.63,90.18L209.73,88.28L209.82,82.75L209.91,74.15L210.01,63.31L210.1,51.3L210.2,39.29L210.29,28.45L210.39,19.85L210.48,14.32L210.58,12.42L210.67,14.32L210.77,19.85L210.86,28.45L210.96,39.29L211.05,51.3L211.14,63.31L211.24,74.15L211.33,82.75L211.43,88.28L211.52,90.18L211.62,88.28L211.71,82.75L211.81,74.15L211.9,63.31L212,51.3L212.09,39.29L212.19,28.45L212.28,19.85L212.37,14.32L212.47,12.42L212.56,14.32L212.66,19.85L212.75,28.45L212.85,39.29L212.94,51.3L213.04,63.31L213.13,74.15L213.23,82.75L213.32,88.28L213.42,90.18L213.51,88.28L213.6,82.75L213.7,74.15L213.79,63.31L213.89,51.3L213.98,39.29L214.08,28.45L214.17,19.85L214.27,14.32L214.36,12.42L214.46,14.32L214.55,19.85L214.64,28.45L214.74,39.29L214.83,51.3L214.93,63.31L215.02,74.15L215.12,82.75L215.21,88.28L215.31,90.18L215.4,88.28L215.5,82.75L215.59,74.15L215.69,63.31L215.78,51.3L215.87,39.29L215.97,28.45L216.06,19.85L216.16,14.32L216.25,12.42L216.35,14.32L216.44,19.85L216.54,28.45L216.63,39.29L216.73,51.3L216.82,63.31L216.92,74.15L217.01,82.75L217.1,88.28L217.2,90.18L217.29,88.28L217.39,82.75L217.48,74.15L217.58,63.31L217.67,51.3L217.77,39.29L217.86,28.45L217.96,19.85L218.05,14.32L218.15,12.42L218.24,14.32L218.33,19.85L218.43,28.45L218.52,39.29L218.62,51.3L218.71,63.31L218.81,74.15L218.9,82.75L219,88.28L219.09,90.18L219.19,88.28L219.28,82.75L219.37,74.15L219.47,63.31L219.56,51.3L219.66,39.29L219.75,28.45L219.85,19.85L219.94,14.32L220.04,12.42L220.13,14.32L220.23,19.85L220.32,28.45L220.42,39.29L220.51,51.3L220.6,63.31L220.7,74.15L220.79,82.75L220.89,88.28L220.98,90.18L221.08,88.28L221.17,82.75L221.27,74.15L221.36,63.31L221.46,51.3L221.55,39.29L221.65,28.45L221.74,19.85L221.83,14.32L221.93,12.42L222.02,14.32L222.12,19.85L222.21,28.45L222.31,39.29L222.4,51.3L222.5,63.31L222.59,74.15L222.69,82.75L222.78,88.28L222.88,90.18L222.97,88.28L223.06,82.75L223.16,74.15L223.25,63.31L223.35,51.3L223.44,39.29L223.54,28.45L223.63,19.85L223.73,14.32L223.82,12.42L223.92,14.32L224.01,19.85L224.1,28.45L224.2,39.29L224.29,51.3L224.39,63.31L224.48,74.15L224.58,82.75L224.67,88.28L224.77,90.18L224.86,88.28L224.96,82.75L225.05,74.15L225.15,63.31L225.24,51.3L225.33,39.29L225.43,28.45L225.52,19.85L225.62,14.32L225.71,12.42L225.81,14.32L225.9,19.85L226,28.45L226.09,39.29L226.19,51.3L226.28,63.31L226.38,74.15L226.47,82.75L226.56,88.28L226.66,90.18L226.75,88.28L226.85,82.75L226.94,74.15L227.04,63.31L227.13,51.3L227.23,39.29L227.32,28.45L227.42,19.85L227.51,14.32L227.61,12.42L227.7,14.32L227.79,19.85L227.89,28.45L227.98,39.29L228.08,51.3L228.17,63.31L228.27,74.15L228.36,82.75L228.46,88.28L228.55,90.18L228.65,88.28L228.74,82.75L228.83,74.15L228.93,63.31L229.02,51.3L229.12,39.29L229.21,28.45L229.31,19.85L229.4,14.32L229.5,12.42L229.59,14.32L229.69,19.85L229.78,28.45L229.88,39.29L229.97,51.3L230.06,63.31L230.16,74.15L230.25,82.75L230.35,88.28L230.44,90.18L230.54,88.28L230.63,82.75L230.73,74.15L230.82,63.31L230.92,51.3L231.01,39.29L231.11,28.45L231.2,19.85L231.29,14.32L231.39,12.42L231.48,14.32L231.58,19.85L231.67,28.45L231.77,39.29L231.86,51.3L231.96,63.31L232.05,74.15L232.15,82.75L232.24,88.28L232.34,90.18L232.43,88.28L232.52,82.75L232.62,74.15L232.71,63.31L232.81,51.3L232.9,39.29L233,28.45L233.09,19.85L233.19,14.32L233.28,12.42L233.38,14.32L233.47,19.85L233.56,28.45L233.66,39.29L233.75,51.3L233.85,63.31L233.94,74.15L234.04,82.75L234.13,88.28L234.23,90.18L234.32,88.28L234.42,82.75L234.51,74.15L234.61,63.31L234.7,51.3L234.79,39.29L234.89,28.45L234.98,19.85L235.08,14.32L235.17,12.42L235.27,14.32L235.36,19.85L235.46,28.45L235.55,39.29L235.65,51.3L235.74,63.31L235.84,74.15L235.93,82.75L236.02,88.28L236.12,90.18L236.21,88.28L236.31,82.75L236.4,74.15L236.5,63.31L236.59,51.3L236.69,39.29L236.78,28.45L236.88,19.85L236.97,14.32L237.07,12.42L237.16,14.32L237.25,19.85L237.35,28.45L237.44,39.29L237.54,51.3L237.63,63.31L237.73,74.15L237.82,82.75L237.92,88.28L238.01,90.18L238.11,88.28L238.2,82.75L238.29,74.15L238.39,63.31L238.48,51.3L238.58,39.29L238.67,28.45L238.77,19.85L238.86,14.32L238.96,12.42L239.05,14.32L239.15,19.85L239.24,28.45L239.34,39.29L239.43,51.3L239.52,63.31L239.62,74.15L239.71,82.75L239.81,88.28L239.9,90.18L240,88.28L240.09,82.75L240.19,74.15L240.28,63.31L240.38,51.3L240.47,39.29L240.57,28.45L240.66,19.85L240.75,14.32L240.85,12.42L240.94,14.32L241.04,19.85L241.13,28.45L241.23,39.29L241.32,51.3L241.42,63.31L241.51,74.15L241.61,82.75L241.7,88.28L241.8,90.18L241.89,88.28L241.98,82.75L242.08,74.15L242.17,63.31L242.27,51.3L242.36,39.29L242.46,28.45L242.55,19.85L242.65,14.32L242.74,12.42L242.84,14.32L242.93,19.85L243.02,28.45L243.12,39.29L243.21,51.3L243.31,63.31L243.4,74.15L243.5,82.75L243.59,88.28L243.69,90.18L243.78,88.28L243.88,82.75L243.97,74.15L244.07,63.31L244.16,51.3L244.25,39.29L244.35,28.45L244.44,19.85L244.54,14.32L244.63,12.42L244.73,14.32L244.82,19.85L244.92,28.45L245.01,39.29L245.11,51.3L245.2,63.31L245.3,74.15L245.39,82.75L245.48,88.28L245.58,90.18L245.67,88.28L245.77,82.75L245.86,74.15L245.96,63.31L246.05,51.3L246.15,39.29L246.24,28.45L246.34,19.85L246.43,14.32L246.53,12.42L246.62,14.32L246.71,19.85L246.81,28.45L246.9,39.29L247,51.3L247.09,63.31L247.19,74.15L247.28,82.75L247.38,88.28L247.47,90.18L247.57,88.28L247.66,82.75L247.75,74.15L247.85,63.31L247.94,51.3L248.04,39.29L248.13,28.45L248.23,19.85L248.32,14.32L248.42,12.42L248.51,14.32L248.61,19.85L248.7,28.45L248.8,39.29L248.89,51.3L248.98,63.31L249.08,74.15L249.17,82.75L249.27,88.28L249.36,90.18L249.46,88.28L249.55,82.75L249.65,74.15L249.74,63.31L249.84,51.3L249.93,39.29L250.03,28.45L250.12,19.85L250.21,14.32L250.31,12.42L250.4,14.32L250.5,19.85L250.59,28.45L250.69,39.29L250.78,51.3L250.88,63.31L250.97,74.15L251.07,82.75L251.16,88.28L251.26,90.18L251.35,88.28L251.44,82.75L251.54,74.15L251.63,63.31L251.73,51.3L251.82,39.29L251.92,28.45L252.01,19.85L252.11,14.32L252.2,12.42L252.3,14.32L252.39,19.85L252.48,28.45L252.58,39.29L252.67,51.3L252.77,63.31L252.86,74.15L252.96,82.75L253.05,88.28L253.15,90.18L253.24,88.28L253.34,82.75L253.43,74.15L253.53,63.31L253.62,51.3L253.71,39.29L253.81,28.45L253.9,19.85L254,14.32L254.09,12.42L254.19,14.32L254.28,19.85L254.38,28.45L254.47,39.29L254.57,51.3L254.66,63.31L254.76,74.15L254.85,82.75L254.94,88.28L255.04,90.18L255.13,88.28L255.23,82.75L255.32,74.15L255.42,63.31L255.51,51.3L255.61,39.29L255.7,28.45L255.8,19.85L255.89,14.32L255.99,12.42L256.08,14.32L256.17,19.85L256.27,28.45L256.36,39.29L256.46,51.3L256.55,63.31L256.65,74.15L256.74,82.75L256.84,88.28L256.93,90.18L257.03,88.28L257.12,82.75L257.21,74.15L257.31,63.31L257.4,51.3L257.5,39.29L257.59,28.45L257.69,19.85L257.78,14.32L257.88,12.42L257.97,14.32L258.07,19.85L258.16,28.45L258.26,39.29L258.35,51.3L258.44,63.31L258.54,74.15L258.63,82.75L258.73,88.28L258.82,90.18L258.92,88.28L259.01,82.75L259.11,74.15L259.2,63.31L259.3,51.3L259.39,39.29L259.49,28.45L259.58,19.85L259.67,14.32L259.77,12.42L259.86,14.32L259.96,19.85L260.05,28.45L260.15,39.29L260.24,51.3L260.34,63.31L260.43,74.15L260.53,82.75L260.62,88.28L260.72,90.18L260.81,88.28L260.9,82.75L261,74.15L261.09,63.31L261.19,51.3L261.28,39.29L261.38,28.45L261.47,19.85L261.57,14.32L261.66,12.42L261.76,14.32L261.85,19.85L261.94,28.45L262.04,39.29L262.13,51.3L262.23,63.31L262.32,74.15L262.42,82.75L262.51,88.28L262.61,90.18L262.7,88.28L262.8,82.75L262.89,74.15L262.99,63.31L263.08,51.3L263.17,39.29L263.27,28.45L263.36,19.85L263.46,14.32L263.55,12.42L263.65,14.32L263.74,19.85L263.84,28.45L263.93,39.29L264.03,51.3L264.12,63.31L264.22,74.15L264.31,82.75L264.4,88.28L264.5,90.18L264.59,88.28L264.69,82.75L264.78,74.15L264.88,63.31L264.97,51.3L265.07,39.29L265.16,28.45L265.26,19.85L265.35,14.32L265.45,12.42L265.54,14.32L265.63,19.85L265.73,28.45L265.82,39.29L265.92,51.3L266.01,63.31L266.11,74.15L266.2,82.75L266.3,88.28L266.39,90.18L266.49,88.28L266.58,82.75L266.67,74.15L266.77,63.31L266.86,51.3L266.96,39.29L267.05,28.45L267.15,19.85L267.24,14.32L267.34,12.42L267.43,14.32L267.53,19.85L267.62,28.45L267.72,39.29L267.81,51.3L267.9,63.31L268,74.15L268.09,82.75L268.19,88.28L268.28,90.18L268.38,88.28L268.47,82.75L268.57,74.15L268.66,63.31L268.76,51.3L268.85,39.29L268.95,28.45L269.04,19.85L269.13,14.32L269.23,12.42L269.32,14.32L269.42,19.85L269.51,28.45L269.61,39.29L269.7,51.3L269.8,63.31L269.89,74.15L269.99,82.75L270.08,88.28L270.18,90.18L270.27,88.28L270.36,82.75L270.46,74.15L270.55,63.31L270.65,51.3L270.74,39.29L270.84,28.45L270.93,19.85L271.03,14.32L271.12,12.42L271.22,14.32L271.31,19.85L271.4,28.45L271.5,39.29L271.59,51.3L271.69,63.31L271.78,74.15L271.88,82.75L271.97,88.28L272.07,90.18L272.16,88.28L272.26,82.75L272.35,74.15L272.45,63.31L272.54,51.3L272.63,39.29L272.73,28.45L272.82,19.85L272.92,14.32L273.01,12.42L273.11,14.32L273.2,19.85L273.3,28.45L273.39,39.29L273.49,51.3L273.58,63.31L273.68,74.15L273.77,82.75L273.86,88.28L273.96,90.18L274.05,88.28L274.15,82.75L274.24,74.15L274.34,63.31L274.43,51.3L274.53,39.29L274.62,28.45L274.72,19.85L274.81,14.32L274.91,12.42L275,14.32L275.09,19.85L275.19,28.45L275.28,39.29L275.38,51.3L275.47,63.31L275.57,74.15L275.66,82.75L275.76,88.28L275.85,90.18L275.95,88.28L276.04,82.75L276.13,74.15L276.23,63.31L276.32,51.3L276.42,39.29L276.51,28.45L276.61,19.85L276.7,14.32L276.8,12.42L276.89,14.32L276.99,19.85L277.08,28.45L277.18,39.29L277.27,51.3L277.36,63.31L277.46,74.15L277.55,82.75L277.65,88.28L277.74,90.18L277.84,88.28L277.93,82.75L278.03,74.15L278.12,63.31L278.22,51.3L278.31,39.29L278.41,28.45L278.5,19.85L278.59,14.32L278.69,12.42L278.78,14.32L278.88,19.85L278.97,28.45L279.07,39.29L279.16,51.3L279.26,63.31L279.35,74.15L279.45,82.75L279.54,88.28L279.63,90.18L279.73,88.28L279.82,82.75L279.92,74.15L280.01,63.31L280.11,51.3L280.2,39.29L280.3,28.45L280.39,19.85L280.49,14.32L280.58,12.42L280.68,14.32L280.77,19.85L280.86,28.45L280.96,39.29L281.05,51.3L281.15,63.31L281.24,74.15L281.34,82.75L281.43,88.28L281.53,90.18L281.62,88.28L281.72,82.75L281.81,74.15L281.91,63.31L282,51.3L282.09,39.29L282.19,28.45L282.28,19.85L282.38,14.32L282.47,12.42L282.57,14.32L282.66,19.85L282.76,28.45L282.85,39.29L282.95,51.3L283.04,63.31L283.14,74.15L283.23,82.75L283.32,88.28L283.42,90.18L283.51,88.28L283.61,82.75L283.7,74.15L283.8,63.31L283.89,51.3L283.99,39.29L284.08,28.45L284.18,19.85L284.27,14.32L284.37,12.42L284.46,14.32L284.55,19.85L284.65,28.45L284.74,39.29L284.84,51.3L284.93,63.31L285.03,74.15L285.12,82.75L285.22,88.28L285.31,90.18L285.41,88.28L285.5,82.75L285.59,74.15L285.69,63.31L285.78,51.3L285.88,39.29L285.97,28.45L286.07,19.85L286.16,14.32L286.26,12.42L286.35,14.32L286.45,19.85L286.54,28.45L286.64,39.29L286.73,51.3L286.82,63.31L286.92,74.15L287.01,82.75L287.11,88.28L287.2,90.18L287.3,88.28L287.39,82.75L287.49,74.15L287.58,63.31L287.68,51.3L287.77,39.29L287.87,28.45L287.96,19.85L288.05,14.32L288.15,12.42L288.24,14.32L288.34,19.85L288.43,28.45L288.53,39.29L288.62,51.3L288.72,63.31L288.81,74.15L288.91,82.75L289,88.28L289.1,90.18L289.19,88.28L289.28,82.75L289.38,74.15L289.47,63.31L289.57,51.3L289.66,39.29L289.76,28.45L289.85,19.85L289.95,14.32L290.04,12.42L290.14,14.32L290.23,19.85L290.32,28.45L290.42,39.29L290.51,51.3L290.61,63.31L290.7,74.15L290.8,82.75L290.89,88.28L290.99,90.18L291.08,88.28L291.18,82.75L291.27,74.15L291.37,63.31L291.46,51.3L291.55,39.29L291.65,28.45L291.74,19.85L291.84,14.32L291.93,12.42L292.03,14.32L292.12,19.85L292.22,28.45L292.31,39.29L292.41,51.3L292.5,63.31L292.6,74.15L292.69,82.75L292.78,88.28L292.88,90.18L292.97,88.28L293.07,82.75L293.16,74.15L293.26,63.31L293.35,51.3L293.45,39.29L293.54,28.45L293.64,19.85L293.73,14.32L293.83,12.42L293.92,14.32L294.01,19.85L294.11,28.45L294.2,39.29L294.3,51.3L294.39,63.31L294.49,74.15L294.58,82.75L294.68,88.28L294.77,90.18L294.87,88.28L294.96,82.75L295.05,74.15L295.15,63.31L295.24,51.3L295.34,39.29L295.43,28.45L295.53,19.85L295.62,14.32L295.72,12.42L295.81,14.32L295.91,19.85L296,28.45L296.1,39.29L296.19,51.3L296.28,63.31L296.38,74.15L296.47,82.75L296.57,88.28L296.66,90.18L296.76,88.28L296.85,82.75L296.95,74.15L297.04,63.31L297.14,51.3L297.23,39.29L297.33,28.45L297.42,19.85L297.51,14.32L297.61,12.42L297.7,14.32L297.8,19.85L297.89,28.45L297.99,39.29L298.08,51.3L298.18,63.31L298.27,74.15L298.37,82.75L298.46,88.28L298.56,90.18L298.65,88.28L298.74,82.75L298.84,74.15L298.93,63.31L299.03,51.3L299.12,39.29L299.22,28.45L299.31,19.85L299.41,14.32L299.5,12.42L299.6,14.32L299.69,19.85L299.78,28.45L299.88,39.29L299.97,51.3L300.07,63.31L300.16,74.15L300.26,82.75L300.35,88.28L300.45,90.18L300.54,88.28L300.64,82.75L300.73,74.15L300.83,63.31L300.92,51.3L301.01,39.29L301.11,28.45L301.2,19.85L301.3,14.32L301.39,12.42L301.49,14.32L301.58,19.85L301.68,28.45L301.77,39.29L301.87,51.3L301.96,62.45L302.06,72.36L302.15,80.09L302.24,84.91L302.34,86.39L302.43,84.44L302.53,79.29L302.62,71.49L302.72,61.84L302.81,51.3L302.91,40.91L303,31.68L303.1,24.48L303.19,20L303.29,18.63L303.38,20.45L303.47,25.25L303.57,32.51L303.66,41.5L303.76,51.3L303.85,60.96L303.95,69.54L304.04,76.22L304.14,80.37L304.23,81.64L304.33,79.94L304.42,75.47L304.51,68.73L304.61,60.39L304.7,51.3L304.8,42.34L304.89,34.4L304.99,28.22L305.08,24.37L305.18,23.21L305.27,24.79L305.37,28.93L305.46,35.17L305.56,42.89L305.65,51.3L305.74,59.58L305.84,66.92L305.93,72.62L306.03,76.16L306.12,77.23L306.22,75.76L306.31,71.94L306.41,66.17L306.5,59.05L306.6,51.3L306.69,43.67L306.79,36.92L306.88,31.67L306.97,28.42L307.07,27.44L307.16,28.8L307.26,32.33L307.35,37.63L307.45,44.18L307.54,51.3L307.64,58.3L307.73,64.5L307.83,69.31L307.92,72.28L308.02,73.17L308.11,71.92L308.2,68.68L308.3,63.81L308.39,57.82L308.49,51.3L308.58,44.9L308.68,39.23L308.77,34.84L308.87,32.13L308.96,31.33L309.06,32.48L309.15,35.44L309.24,39.89L309.34,45.36L309.43,51.3L309.53,57.13L309.62,62.29L309.72,66.28L309.81,68.74L309.91,69.45L310,68.4L310.1,65.7L310.19,61.66L310.29,56.69L310.38,51.3L310.47,46.01L310.57,41.35L310.66,37.74L310.76,35.52L310.85,34.87L310.95,35.84L311.04,38.28L311.14,41.94L311.23,46.43L311.33,51.3L311.42,56.07L311.52,60.27L311.61,63.52L311.7,65.51L311.8,66.09L311.89,65.21L311.99,63L312.08,59.71L312.18,55.67L312.27,51.3L312.37,47.02L312.46,43.25L312.56,40.35L312.65,38.57L312.75,38.07L312.84,38.86L312.93,40.84L313.03,43.79L313.12,47.4L313.22,51.3L313.31,55.11L313.41,58.47L313.5,61.05L313.6,62.62L313.69,63.06L313.79,62.35L313.88,60.59L313.97,57.96L314.07,54.76L314.16,51.3L314.26,47.93L314.35,44.96L314.45,42.69L314.54,41.3L314.64,40.92L314.73,41.56L314.83,43.12L314.92,45.43L315.02,48.26L315.11,51.3L315.2,54.26L315.3,56.86L315.39,58.85L315.49,60.06L315.58,60.38L315.68,59.82L315.77,58.45L315.87,56.42L315.96,53.95L316.06,51.3L316.15,48.72L316.25,46.46L316.34,44.74L316.43,43.7L316.53,43.43L316.62,43.92L316.72,45.12L316.81,46.88L316.91,49.01L317,51.3L317.1,53.52L317.19,55.46L317.29,56.94L317.38,57.82L317.48,58.05L317.57,57.62L317.66,56.59L317.76,55.08L317.85,53.25L317.95,51.3L318.04,49.41L318.14,47.76L318.23,46.52L318.33,45.77L318.42,45.59L318.52,45.96L318.61,46.84L318.7,48.11L318.8,49.66L318.89,51.3L318.99,52.89L319.08,54.26L319.18,55.3L319.27,55.92L319.37,56.06L319.46,55.74L319.56,55.01L319.65,53.94L319.75,52.66L319.84,51.3L319.93,49.99L320.03,48.86L320.12,48.01L320.22,47.51L320.31,47.4L320.41,47.67L320.5,48.28L320.6,49.15L320.69,50.19L320.79,51.3L320.88,52.36L320.98,53.27L321.07,53.95L321.16,54.34L321.26,54.42L321.35,54.2L321.45,53.71L321.54,53.01L321.64,52.18L321.73,51.3L321.83,50.47L321.92,49.76L322.02,49.23L322.11,48.93L322.21,48.87L322.3,49.05L322.39,49.44L322.49,49.98L322.58,50.63L322.68,51.3L322.77,51.94L322.87,52.47L322.96,52.87L323.06,53.09L323.15,53.13L323.25,52.98L323.34,52.69L323.43,52.28L323.53,51.8L323.62,51.3L323.72,50.84L323.81,50.45L323.91,50.16L324,50.01L324.1,49.99L324.19,50.1L324.29,50.32L324.38,50.61L324.48,50.95L324.57,51.3L324.66,51.62L324.76,51.89L324.85,52.07L324.95,52.17L325.04,52.17L325.14,52.1L325.23,51.95L325.33,51.75L325.42,51.52L325.52,51.3L325.61,51.1L325.71,50.93L325.8,50.82L325.89,50.77L325.99,50.77L326.08,50.83L326.18,50.92L326.27,51.04L326.37,51.17L326.46,51.3L326.56,51.41L326.65,51.5L326.75,51.55L326.84,51.58L326.94,51.57L327.03,51.54L327.12,51.48L327.22,51.42L327.31,51.36L327.41,51.3L327.5,51.25L327.6,51.22L327.69,51.2L327.79,51.19L327.88,51.2L327.98,51.22L328.07,51.24L328.16,51.26L328.26,51.28L328.35,51.3L328.45,51.31L328.54,51.32L328.64,51.32L328.73,51.31L328.83,51.31L328.92,51.31L329.02,51.3L329.11,51.3L329.21,51.3L329.3,51.3" fill="none" stroke="#ff0000" stroke-width="1.3" stroke-linejoin="round" stroke-linecap="butt"/>
<rect x="31.6" y="7.4" width="311.4" height="86.89999999999999" fill="none" stroke="#4a4a4a" stroke-width="0.7"/>
<line x1="45.50" x2="45.50" y1="94.3" y2="97.3" stroke="#2a2a2a" stroke-width="0.8"/>
<text x="45.50" y="106.20" text-anchor="middle" font-size="7.9" font-family="DejaVu Sans, Liberation Sans, sans-serif" fill="#1c1c1c">0</text>
<line x1="92.80" x2="92.80" y1="94.3" y2="97.3" stroke="#2a2a2a" stroke-width="0.8"/>
<text x="92.80" y="106.20" text-anchor="middle" font-size="7.9" font-family="DejaVu Sans, Liberation Sans, sans-serif" fill="#1c1c1c">5</text>
<line x1="140.10" x2="140.10" y1="94.3" y2="97.3" stroke="#2a2a2a" stroke-width="0.8"/>
<text x="140.10" y="106.20" text-anchor="middle" font-size="7.9" font-family="DejaVu Sans, Liberation Sans, sans-serif" fill="#1c1c1c">10</text>
<line x1="187.40" x2="187.40" y1="94.3" y2="97.3" stroke="#2a2a2a" stroke-width="0.8"/>
<text x="187.40" y="106.20" text-anchor="middle" font-size="7.9" font-family="DejaVu Sans, Liberation Sans, sans-serif" fill="#1c1c1c">15</text>
<line x1="234.70" x2="234.70" y1="94.3" y2="97.3" stroke="#2a2a2a" stroke-width="0.8"/>
<text x="234.70" y="106.20" text-anchor="middle" font-size="7.9" font-family="DejaVu Sans, Liberation Sans, sans-serif" fill="#1c1c1c">20</text>
<line x1="282.00" x2="282.00" y1="94.3" y2="97.3" stroke="#2a2a2a" stroke-width="0.8"/>
<text x="282.00" y="106.20" text-anchor="middle" font-size="7.9" font-family="DejaVu Sans, Liberation Sans, sans-serif" fill="#1c1c1c">25</text>
<line x1="329.30" x2="329.30" y1="94.3" y2="97.3" stroke="#2a2a2a" stroke-width="0.8"/>
<text x="329.30" y="106.20" text-anchor="middle" font-size="7.9" font-family="DejaVu Sans, Liberation Sans, sans-serif" fill="#1c1c1c">30</text>
<line x1="28.6" x2="31.6" y1="12.42" y2="12.42" stroke="#2a2a2a" stroke-width="0.8"/>
<text x="26.20" y="15.56" text-anchor="end" font-size="7.9" font-family="DejaVu Sans, Liberation Sans, sans-serif" fill="#1c1c1c">4</text>
<line x1="28.6" x2="31.6" y1="31.86" y2="31.86" stroke="#2a2a2a" stroke-width="0.8"/>
<text x="26.20" y="35.00" text-anchor="end" font-size="7.9" font-family="DejaVu Sans, Liberation Sans, sans-serif" fill="#1c1c1c">2</text>
<line x1="28.6" x2="31.6" y1="51.30" y2="51.30" stroke="#2a2a2a" stroke-width="0.8"/>
<text x="26.20" y="54.44" text-anchor="end" font-size="7.9" font-family="DejaVu Sans, Liberation Sans, sans-serif" fill="#1c1c1c">0</text>
<line x1="28.6" x2="31.6" y1="70.74" y2="70.74" stroke="#2a2a2a" stroke-width="0.8"/>
<text x="26.20" y="73.88" text-anchor="end" font-size="7.9" font-family="DejaVu Sans, Liberation Sans, sans-serif" fill="#1c1c1c">−2</text>
<line x1="28.6" x2="31.6" y1="90.18" y2="90.18" stroke="#2a2a2a" stroke-width="0.8"/>
<text x="26.20" y="93.32" text-anchor="end" font-size="7.9" font-family="DejaVu Sans, Liberation Sans, sans-serif" fill="#1c1c1c">−4</text>
<text transform="translate(8.6,50.85) rotate(-90)" text-anchor="middle" font-size="9.5" font-family="Liberation Sans, sans-serif" fill="#1c1c1c">Angular velocity (rad/s)</text>
<rect x="247" y="11.6" width="92.5" height="14.6" rx="1.6" fill="#fff" fill-opacity="0.8" stroke="#ccc" stroke-opacity="0.8" stroke-width="0.6"/>
<line x1="249.90" x2="266.90" y1="18.90" y2="18.90" stroke="#ff0000" stroke-width="1.35"/>
<text x="335.9" y="21.74" text-anchor="end" font-size="7.9" font-family="DejaVu Sans, Liberation Sans, sans-serif" fill="#1c1c1c">Simulation data</text>
<path clip-path="url(#cp1)" d="M45.4,154.9L46.38,154.87L47.36,154.84L48.35,154.8L49.33,154.77L50.31,154.74L51.29,154.7L52.27,154.34L53.26,153.98L54.24,153.61L55.22,152.25L56.2,150.89L57.18,149.53L58.17,148.17L59.15,147.07L60.13,145.97L61.11,144.87L62.09,143.77L63.08,143.22L64.06,143.22L65.04,143.22L66.02,143.22L67,143.22L67.99,143.22L68.97,143.22L69.95,143.22L70.93,143.22L71.91,143.22L72.9,143.22L73.88,143.22L74.86,143.22L75.84,143.22L76.82,143.22L77.81,143.22L78.79,143.22L79.77,143.22L80.75,143.22L81.73,143.22L82.72,143.22L83.7,143.22L84.68,143.22L85.66,143.22L86.64,143.22L87.63,143.22L88.61,143.22L89.59,143.22L90.57,143.22L91.55,143.22L92.54,143.22L93.52,143.22L94.5,143.22L95.48,143.22L96.46,143.22L97.45,143.22L98.43,143.22L99.41,143.22L100.39,143.22L101.37,143.22L102.36,143.22L103.34,143.22L104.32,143.22L105.3,143.22L106.28,143.22L107.27,143.22L108.25,143.22L109.23,143.22L110.21,143.22L111.19,143.22L112.18,143.22L113.16,143.22L114.14,143.22L115.12,143.22L116.1,143.22L117.09,143.22L118.07,143.22L119.05,143.22L120.03,143.22L121.01,143.22L122,143.22L122.98,143.22L123.96,143.22L124.94,143.22L125.92,143.22L126.91,143.22L127.89,143.22L128.87,143.22L129.85,143.22L130.83,143.22L131.82,143.22L132.8,143.22L133.78,143.22L134.76,143.22L135.74,143.22L136.73,143.22L137.71,143.22L138.69,143.22L139.67,143.22L140.65,143.22L141.64,143.22L142.62,143.22L143.6,143.22L144.58,143.22L145.56,143.22L146.55,143.22L147.53,143.22L148.51,143.22L149.49,143.22L150.47,143.22L151.46,143.22L152.44,143.22L153.42,143.22L154.4,143.22L155.38,143.22L156.37,143.22L157.35,143.22L158.33,143.22L159.31,143.22L160.29,143.22L161.28,143.22L162.26,143.22L163.24,143.22L164.22,143.22L165.2,143.22L166.19,143.22L167.17,143.22L168.15,143.22L169.13,143.22L170.11,143.22L171.1,143.22L172.08,143.22L173.06,143.22L174.04,143.22L175.02,143.22L176.01,143.22L176.99,143.22L177.97,143.22L178.95,143.22L179.93,143.22L180.92,143.22L181.9,143.22L182.88,143.22L183.86,143.22L184.84,143.22L185.83,143.22L186.81,143.22L187.79,143.22L188.77,143.22L189.75,143.22L190.74,143.22L191.72,143.22L192.7,143.22L193.68,143.22L194.66,143.22L195.65,143.22L196.63,143.22L197.61,143.22L198.59,143.22L199.57,143.22L200.56,143.22L201.54,143.22L202.52,143.22L203.5,143.22L204.48,143.22L205.47,143.22L206.45,143.22L207.43,143.22L208.41,143.22L209.39,143.22L210.38,143.22L211.36,143.22L212.34,143.22L213.32,143.22L214.3,143.22L215.29,143.22L216.27,143.22L217.25,143.22L218.23,143.22L219.21,143.22L220.2,143.22L221.18,143.22L222.16,143.22L223.14,143.22L224.12,143.22L225.11,143.22L226.09,143.22L227.07,143.22L228.05,143.22L229.03,143.22L230.02,143.22L231,143.22L231.98,143.22L232.96,143.22L233.94,143.22L234.93,143.22L235.91,143.22L236.89,143.22L237.87,143.22L238.85,143.22L239.84,143.22L240.82,143.22L241.8,143.22L242.78,143.22L243.76,143.22L244.75,143.22L245.73,143.22L246.71,143.22L247.69,143.22L248.67,143.22L249.66,143.22L250.64,143.22L251.62,143.22L252.6,143.22L253.58,143.22L254.57,143.22L255.55,143.22L256.53,143.22L257.51,143.22L258.49,143.22L259.48,143.22L260.46,143.22L261.44,143.22L262.42,143.22L263.4,143.22L264.39,143.22L265.37,143.22L266.35,143.22L267.33,143.22L268.31,143.22L269.3,143.22L270.28,143.22L271.26,143.22L272.24,143.22L273.22,143.22L274.21,143.22L275.19,143.22L276.17,143.22L277.15,143.22L278.13,143.22L279.12,143.22L280.1,143.22L281.08,143.22L282.06,143.22L283.04,143.22L284.03,143.22L285.01,143.22L285.99,143.22L286.97,143.22L287.95,143.22L288.94,143.22L289.92,143.22L290.9,143.22L291.88,143.22L292.86,143.22L293.85,143.22L294.83,143.22L295.81,143.22L296.79,143.22L297.77,143.22L298.76,143.22L299.74,143.22L300.72,143.22L301.7,143.22L302.68,143.22L303.67,143.22L304.65,143.22L305.63,143.22L306.61,143.22L307.59,143.22L308.58,143.22L309.56,143.22L310.54,143.22L311.52,143.22L312.5,143.22L313.49,143.22L314.47,143.22L315.45,143.72L316.43,145.2L317.41,146.68L318.4,148.17L319.38,149.06L320.36,149.95L321.34,150.84L322.32,151.73L323.31,152.62L324.29,152.95L325.27,153.28L326.25,153.6L327.23,153.93L328.22,154.25L329.2,154.58L330.18,154.9L330.18,155.3L329.2,155.62L328.22,155.95L327.23,156.27L326.25,156.6L325.27,156.92L324.29,157.25L323.31,157.57L322.32,158.47L321.34,159.36L320.36,160.25L319.38,161.14L318.4,162.03L317.41,163.52L316.43,165L315.45,166.48L314.47,166.98L313.49,166.98L312.5,166.98L311.52,166.98L310.54,166.98L309.56,166.98L308.58,166.98L307.59,166.98L306.61,166.98L305.63,166.98L304.65,166.98L303.67,166.98L302.68,166.98L301.7,166.98L300.72,166.98L299.74,166.98L298.76,166.98L297.77,166.98L296.79,166.98L295.81,166.98L294.83,166.98L293.85,166.98L292.86,166.98L291.88,166.98L290.9,166.98L289.92,166.98L288.94,166.98L287.95,166.98L286.97,166.98L285.99,166.98L285.01,166.98L284.03,166.98L283.04,166.98L282.06,166.98L281.08,166.98L280.1,166.98L279.12,166.98L278.13,166.98L277.15,166.98L276.17,166.98L275.19,166.98L274.21,166.98L273.22,166.98L272.24,166.98L271.26,166.98L270.28,166.98L269.3,166.98L268.31,166.98L267.33,166.98L266.35,166.98L265.37,166.98L264.39,166.98L263.4,166.98L262.42,166.98L261.44,166.98L260.46,166.98L259.48,166.98L258.49,166.98L257.51,166.98L256.53,166.98L255.55,166.98L254.57,166.98L253.58,166.98L252.6,166.98L251.62,166.98L250.64,166.98L249.66,166.98L248.67,166.98L247.69,166.98L246.71,166.98L245.73,166.98L244.75,166.98L243.76,166.98L242.78,166.98L241.8,166.98L240.82,166.98L239.84,166.98L238.85,166.98L237.87,166.98L236.89,166.98L235.91,166.98L234.93,166.98L233.94,166.98L232.96,166.98L231.98,166.98L231,166.98L230.02,166.98L229.03,166.98L228.05,166.98L227.07,166.98L226.09,166.98L225.11,166.98L224.12,166.98L223.14,166.98L222.16,166.98L221.18,166.98L220.2,166.98L219.21,166.98L218.23,166.98L217.25,166.98L216.27,166.98L215.29,166.98L214.3,166.98L213.32,166.98L212.34,166.98L211.36,166.98L210.38,166.98L209.39,166.98L208.41,166.98L207.43,166.98L206.45,166.98L205.47,166.98L204.48,166.98L203.5,166.98L202.52,166.98L201.54,166.98L200.56,166.98L199.57,166.98L198.59,166.98L197.61,166.98L196.63,166.98L195.65,166.98L194.66,166.98L193.68,166.98L192.7,166.98L191.72,166.98L190.74,166.98L189.75,166.98L188.77,166.98L187.79,166.98L186.81,166.98L185.83,166.98L184.84,166.98L183.86,166.98L182.88,166.98L181.9,166.98L180.92,166.98L179.93,166.98L178.95,166.98L177.97,166.98L176.99,166.98L176.01,166.98L175.02,166.98L174.04,166.98L173.06,166.98L172.08,166.98L171.1,166.98L170.11,166.98L169.13,166.98L168.15,166.98L167.17,166.98L166.19,166.98L165.2,166.98L164.22,166.98L163.24,166.98L162.26,166.98L161.28,166.98L160.29,166.98L159.31,166.98L158.33,166.98L157.35,166.98L156.37,166.98L155.38,166.98L154.4,166.98L153.42,166.98L152.44,166.98L151.46,166.98L150.47,166.98L149.49,166.98L148.51,166.98L147.53,166.98L146.55,166.98L145.56,166.98L144.58,166.98L143.6,166.98L142.62,166.98L141.64,166.98L140.65,166.98L139.67,166.98L138.69,166.98L137.71,166.98L136.73,166.98L135.74,166.98L134.76,166.98L133.78,166.98L132.8,166.98L131.82,166.98L130.83,166.98L129.85,166.98L128.87,166.98L127.89,166.98L126.91,166.98L125.92,166.98L124.94,166.98L123.96,166.98L122.98,166.98L122,166.98L121.01,166.98L120.03,166.98L119.05,166.98L118.07,166.98L117.09,166.98L116.1,166.98L115.12,166.98L114.14,166.98L113.16,166.98L112.18,166.98L111.19,166.98L110.21,166.98L109.23,166.98L108.25,166.98L107.27,166.98L106.28,166.98L105.3,166.98L104.32,166.98L103.34,166.98L102.36,166.98L101.37,166.98L100.39,166.98L99.41,166.98L98.43,166.98L97.45,166.98L96.46,166.98L95.48,166.98L94.5,166.98L93.52,166.98L92.54,166.98L91.55,166.98L90.57,166.98L89.59,166.98L88.61,166.98L87.63,166.98L86.64,166.98L85.66,166.98L84.68,166.98L83.7,166.98L82.72,166.98L81.73,166.98L80.75,166.98L79.77,166.98L78.79,166.98L77.81,166.98L76.82,166.98L75.84,166.98L74.86,166.98L73.88,166.98L72.9,166.98L71.91,166.98L70.93,166.98L69.95,166.98L68.97,166.98L67.99,166.98L67,166.98L66.02,166.98L65.04,166.98L64.06,166.98L63.08,166.98L62.09,166.43L61.11,165.33L60.13,164.23L59.15,163.13L58.17,162.03L57.18,160.67L56.2,159.31L55.22,157.95L54.24,156.59L53.26,156.22L52.27,155.86L51.29,155.5L50.31,155.46L49.33,155.43L48.35,155.4L47.36,155.36L46.38,155.33L45.4,155.3Z" fill="#0000ff" fill-opacity="1" stroke="none"/>
<path clip-path="url(#cp1)" d="M45.4,155.1L45.5,155.04L45.6,154.98L45.69,154.93L45.79,154.9L45.89,154.89L45.99,154.89L46.09,154.92L46.19,154.97L46.28,155.03L46.38,155.1L46.48,155.17L46.58,155.24L46.68,155.29L46.77,155.33L46.87,155.35L46.97,155.34L47.07,155.31L47.17,155.25L47.27,155.18L47.36,155.1L47.46,155.02L47.56,154.94L47.66,154.88L47.76,154.84L47.85,154.82L47.95,154.83L48.05,154.87L48.15,154.93L48.25,155.01L48.35,155.1L48.44,155.19L48.54,155.28L48.64,155.35L48.74,155.4L48.84,155.41L48.94,155.4L49.03,155.36L49.13,155.29L49.23,155.2L49.33,155.1L49.43,155L49.52,154.9L49.62,154.83L49.72,154.77L49.82,154.75L49.92,154.77L50.02,154.81L50.11,154.89L50.21,154.99L50.31,155.1L50.41,155.21L50.51,155.32L50.6,155.4L50.7,155.46L50.8,155.48L50.9,155.46L51,155.41L51.1,155.33L51.19,155.22L51.29,155.1L51.39,154.97L51.49,154.82L51.59,154.69L51.68,154.59L51.78,154.52L51.88,154.52L51.98,154.57L52.08,154.7L52.18,154.88L52.27,155.1L52.37,155.35L52.47,155.59L52.57,155.8L52.67,155.96L52.77,156.04L52.86,156.03L52.96,155.92L53.06,155.72L53.16,155.44L53.26,155.1L53.35,154.74L53.45,154.4L53.55,154.1L53.65,153.89L53.75,153.8L53.85,153.83L53.94,153.99L54.04,154.27L54.14,154.65L54.24,155.1L54.34,155.6L54.43,156.13L54.53,156.63L54.63,157.03L54.73,157.27L54.83,157.29L54.93,157.07L55.02,156.61L55.12,155.94L55.22,155.1L55.32,154.18L55.42,153.27L55.51,152.47L55.61,151.88L55.71,151.57L55.81,151.62L55.91,152.03L56.01,152.79L56.1,153.84L56.2,155.1L56.3,156.44L56.4,157.73L56.5,158.83L56.59,159.62L56.69,159.99L56.79,159.88L56.89,159.27L56.99,158.21L57.09,156.78L57.18,155.1L57.28,153.34L57.38,151.67L57.48,150.26L57.58,149.29L57.67,148.85L57.77,149.03L57.87,149.82L57.97,151.19L58.07,153L58.17,155.1L58.26,157.28L58.36,159.3L58.46,160.97L58.56,162.11L58.66,162.58L58.76,162.32L58.85,161.33L58.95,159.69L59.05,157.55L59.15,155.1L59.25,152.58L59.34,150.25L59.44,148.34L59.54,147.04L59.64,146.52L59.74,146.84L59.84,147.98L59.93,149.86L60.03,152.31L60.13,155.1L60.23,157.96L60.33,160.6L60.42,162.75L60.52,164.2L60.62,164.78L60.72,164.41L60.82,163.11L60.92,160.98L61.01,158.23L61.11,155.1L61.21,151.9L61.31,148.96L61.41,146.56L61.5,144.95L61.6,144.32L61.7,144.74L61.8,146.2L61.9,148.57L62,151.63L62.09,155.1L62.19,158.64L62.29,161.89L62.39,164.53L62.49,166.29L62.59,166.98L62.68,166.45L62.78,164.8L62.88,162.18L62.98,158.84L63.08,155.1L63.17,151.33L63.27,147.89L63.37,145.14L63.47,143.34L63.57,142.68L63.67,143.24L63.76,144.96L63.86,147.7L63.96,151.2L64.06,155.1L64.16,159.04L64.25,162.62L64.35,165.5L64.45,167.37L64.55,168.06L64.65,167.48L64.75,165.67L64.84,162.81L64.94,159.17L65.04,155.1L65.14,151L65.24,147.26L65.33,144.27L65.43,142.31L65.53,141.6L65.63,142.21L65.73,144.09L65.83,147.07L65.92,150.86L66.02,155.1L66.12,159.37L66.22,163.26L66.32,166.37L66.41,168.4L66.51,169.14L66.61,168.5L66.71,166.55L66.81,163.45L66.91,159.51L67,155.1L67.1,150.66L67.2,146.63L67.3,143.39L67.4,141.28L67.5,140.52L67.59,141.18L67.69,143.22L67.79,146.43L67.89,150.53L67.99,155.1L68.08,159.71L68.18,163.9L68.28,167.26L68.38,169.46L68.48,170.26L68.58,169.57L68.67,167.46L68.77,164.12L68.87,159.86L68.97,155.1L69.07,150.3L69.16,145.94L69.26,142.44L69.36,140.16L69.46,139.33L69.56,140.05L69.66,142.25L69.75,145.73L69.85,150.15L69.95,155.1L70.05,160.09L70.15,164.62L70.24,168.25L70.34,170.62L70.44,171.48L70.54,170.73L70.64,168.45L70.74,164.83L70.83,160.24L70.93,155.1L71.03,149.93L71.13,145.22L71.23,141.46L71.32,139L71.42,138.11L71.52,138.89L71.62,141.26L71.72,145.01L71.82,149.78L71.91,155.1L72.01,160.46L72.11,165.34L72.21,169.24L72.31,171.78L72.41,172.7L72.5,171.89L72.6,169.44L72.7,165.55L72.8,160.61L72.9,155.1L72.99,149.55L73.09,144.51L73.19,140.47L73.29,137.84L73.39,136.89L73.49,137.73L73.58,140.27L73.68,144.29L73.78,149.4L73.88,155.1L73.98,160.85L74.07,166.11L74.17,170.33L74.27,173.11L74.37,174.14L74.47,173.31L74.57,170.67L74.66,166.48L74.76,161.11L74.86,155.1L74.96,149.02L75.06,143.48L75.15,139.02L75.25,136.1L75.35,135.01L75.45,135.9L75.55,138.68L75.65,143.11L75.74,148.76L75.84,155.1L75.94,161.5L76.04,167.34L76.14,172.03L76.23,175.1L76.33,176.24L76.43,175.3L76.53,172.37L76.63,167.71L76.73,161.76L76.82,155.1L76.92,148.37L77.02,142.24L77.12,137.32L77.22,134.1L77.31,132.91L77.41,133.9L77.51,136.98L77.61,141.87L77.71,148.11L77.81,155.1L77.9,162.15L78,168.57L78.1,173.73L78.2,177.1L78.3,178.34L78.4,177.3L78.49,174.07L78.59,168.94L78.69,162.41L78.79,155.1L78.89,147.72L78.98,140.97L79.08,135.55L79.18,131.99L79.28,130.66L79.38,131.73L79.48,135.11L79.57,140.5L79.67,147.38L79.77,155.1L79.87,162.9L79.97,170.02L80.06,175.75L80.16,179.5L80.26,180.89L80.36,179.76L80.46,176.19L80.56,170.5L80.65,163.24L80.75,155.1L80.85,146.88L80.95,139.38L81.05,133.35L81.14,129.41L81.24,127.95L81.34,129.15L81.44,132.92L81.54,138.9L81.64,146.54L81.73,155.1L81.83,163.74L81.93,171.62L82.03,177.94L82.13,182.08L82.22,183.61L82.32,182.34L82.42,178.38L82.52,172.09L82.62,164.08L82.72,155.1L82.81,146.04L82.91,137.79L83.01,131.16L83.11,126.83L83.21,125.24L83.31,126.57L83.4,130.74L83.5,137.33L83.6,145.73L83.7,155.1L83.8,164.55L83.89,173.13L83.99,180.01L84.09,184.49L84.19,186.12L84.29,184.71L84.39,180.38L84.48,173.53L84.58,164.83L84.68,155.1L84.78,145.3L84.88,136.4L84.97,129.27L85.07,124.63L85.17,122.94L85.27,124.41L85.37,128.9L85.47,136L85.56,145.02L85.66,155.1L85.76,165.25L85.86,174.47L85.96,181.85L86.05,186.66L86.15,188.39L86.25,186.87L86.35,182.22L86.45,174.87L86.55,165.53L86.64,155.1L86.74,144.6L86.84,135.06L86.94,127.43L87.04,122.46L87.13,120.67L87.23,122.25L87.33,127.06L87.43,134.66L87.53,144.32L87.63,155.1L87.72,165.95L87.82,175.81L87.92,183.69L88.02,188.82L88.12,190.67L88.22,189.03L88.31,184.06L88.41,176.21L88.51,166.23L88.61,155.1L88.71,143.91L88.8,133.75L88.9,125.64L89,120.38L89.1,118.51L89.2,120.21L89.3,125.35L89.39,133.43L89.49,143.68L89.59,155.1L89.69,166.58L89.79,176.99L89.88,185.3L89.98,190.69L90.08,192.61L90.18,190.87L90.28,185.6L90.38,177.31L90.47,166.81L90.57,155.1L90.67,143.34L90.77,132.67L90.87,124.16L90.96,118.64L91.06,116.67L91.16,118.46L91.26,123.86L91.36,132.35L91.46,143.11L91.55,155.1L91.65,167.15L91.75,178.07L91.85,186.79L91.95,192.44L92.05,194.45L92.14,192.61L92.24,187.09L92.34,178.39L92.44,167.37L92.54,155.1L92.63,142.77L92.73,131.59L92.83,122.77L92.93,117.12L93.03,115.2L93.13,117.18L93.22,122.87L93.32,131.7L93.42,142.81L93.52,155.1L93.62,167.37L93.71,178.43L93.81,187.18L93.91,192.78L94.01,194.69L94.11,192.72L94.21,187.08L94.3,178.32L94.4,167.3L94.5,155.1L94.6,142.92L94.7,131.96L94.79,123.27L94.89,117.72L94.99,115.82L95.09,117.78L95.19,123.37L95.29,132.07L95.38,143L95.48,155.1L95.58,167.18L95.68,178.06L95.78,186.67L95.87,192.19L95.97,194.06L96.07,192.13L96.17,186.57L96.27,177.95L96.37,167.1L96.46,155.1L96.56,143.11L96.66,132.29L96.76,123.7L96.86,118.19L96.95,116.29L97.05,118.19L97.15,123.7L97.25,132.29L97.35,143.11L97.45,155.1L97.54,167.09L97.64,177.91L97.74,186.5L97.84,192.01L97.94,193.91L98.04,192.01L98.13,186.5L98.23,177.91L98.33,167.09L98.43,155.1L98.53,143.11L98.62,132.29L98.72,123.71L98.82,118.19L98.92,116.29L99.02,118.19L99.12,123.71L99.21,132.29L99.31,143.11L99.41,155.1L99.51,167.09L99.61,177.91L99.7,186.49L99.8,192.01L99.9,193.9L100,192.01L100.1,186.49L100.2,177.91L100.29,167.09L100.39,155.1L100.49,143.11L100.59,132.29L100.69,123.71L100.78,118.2L100.88,116.3L100.98,118.2L101.08,123.71L101.18,132.29L101.28,143.11L101.37,155.1L101.47,167.09L101.57,177.91L101.67,186.49L101.77,192L101.87,193.9L101.96,192L102.06,186.49L102.16,177.91L102.26,167.09L102.36,155.1L102.45,143.11L102.55,132.29L102.65,123.71L102.75,118.2L102.85,116.3L102.95,118.2L103.04,123.71L103.14,132.29L103.24,143.11L103.34,155.1L103.44,167.09L103.53,177.91L103.63,186.49L103.73,192L103.83,193.9L103.93,192L104.03,186.49L104.12,177.91L104.22,167.09L104.32,155.1L104.42,143.11L104.52,132.29L104.61,123.71L104.71,118.2L104.81,116.3L104.91,118.2L105.01,123.71L105.11,132.29L105.2,143.11L105.3,155.1L105.4,167.09L105.5,177.91L105.6,186.49L105.69,192L105.79,193.9L105.89,192L105.99,186.49L106.09,177.91L106.19,167.09L106.28,155.1L106.38,143.11L106.48,132.29L106.58,123.71L106.68,118.2L106.78,116.3L106.87,118.2L106.97,123.71L107.07,132.29L107.17,143.11L107.27,155.1L107.36,167.09L107.46,177.9L107.56,186.49L107.66,192L107.76,193.9L107.86,192L107.95,186.49L108.05,177.9L108.15,167.09L108.25,155.1L108.35,143.11L108.44,132.3L108.54,123.71L108.64,118.2L108.74,116.3L108.84,118.2L108.94,123.71L109.03,132.3L109.13,143.11L109.23,155.1L109.33,167.09L109.43,177.9L109.52,186.49L109.62,192L109.72,193.9L109.82,192L109.92,186.49L110.02,177.9L110.11,167.09L110.21,155.1L110.31,143.11L110.41,132.3L110.51,123.71L110.6,118.2L110.7,116.31L110.8,118.2L110.9,123.71L111,132.3L111.1,143.11L111.19,155.1L111.29,167.09L111.39,177.9L111.49,186.49L111.59,192L111.69,193.89L111.78,192L111.88,186.48L111.98,177.9L112.08,167.09L112.18,155.1L112.27,143.11L112.37,132.3L112.47,123.72L112.57,118.21L112.67,116.31L112.77,118.21L112.86,123.72L112.96,132.3L113.06,143.11L113.16,155.1L113.26,167.09L113.35,177.9L113.45,186.48L113.55,191.99L113.65,193.89L113.75,191.99L113.85,186.48L113.94,177.9L114.04,167.09L114.14,155.1L114.24,143.11L114.34,132.3L114.43,123.72L114.53,118.21L114.63,116.31L114.73,118.21L114.83,123.72L114.93,132.3L115.02,143.11L115.12,155.1L115.22,167.09L115.32,177.9L115.42,186.48L115.51,191.99L115.61,193.89L115.71,191.99L115.81,186.48L115.91,177.9L116.01,167.09L116.1,155.1L116.2,143.11L116.3,132.3L116.4,123.72L116.5,118.21L116.59,116.31L116.69,118.21L116.79,123.72L116.89,132.3L116.99,143.11L117.09,155.1L117.18,167.09L117.28,177.9L117.38,186.48L117.48,191.99L117.58,193.89L117.68,191.99L117.77,186.48L117.87,177.9L117.97,167.09L118.07,155.1L118.17,143.11L118.26,132.3L118.36,123.72L118.46,118.21L118.56,116.31L118.66,118.21L118.76,123.72L118.85,132.3L118.95,143.11L119.05,155.1L119.15,167.09L119.25,177.9L119.34,186.48L119.44,191.99L119.54,193.89L119.64,191.99L119.74,186.48L119.84,177.9L119.93,167.09L120.03,155.1L120.13,143.11L120.23,132.3L120.33,123.72L120.42,118.21L120.52,116.31L120.62,118.21L120.72,123.72L120.82,132.3L120.92,143.11L121.01,155.1L121.11,167.09L121.21,177.9L121.31,186.48L121.41,191.99L121.5,193.88L121.6,191.99L121.7,186.48L121.8,177.9L121.9,167.09L122,155.1L122.09,143.11L122.19,132.3L122.29,123.72L122.39,118.21L122.49,116.32L122.59,118.21L122.68,123.72L122.78,132.3L122.88,143.12L122.98,155.1L123.08,167.08L123.17,177.9L123.27,186.48L123.37,191.98L123.47,193.88L123.57,191.98L123.67,186.48L123.76,177.9L123.86,167.08L123.96,155.1L124.06,143.12L124.16,132.3L124.25,123.72L124.35,118.22L124.45,116.32L124.55,118.22L124.65,123.72L124.75,132.3L124.84,143.12L124.94,155.1L125.04,167.08L125.14,177.9L125.24,186.47L125.33,191.98L125.43,193.88L125.53,191.98L125.63,186.47L125.73,177.89L125.83,167.08L125.92,155.1L126.02,143.12L126.12,132.31L126.22,123.73L126.32,118.22L126.41,116.32L126.51,118.22L126.61,123.73L126.71,132.31L126.81,143.12L126.91,155.1L127,167.08L127.1,177.89L127.2,186.47L127.3,191.98L127.4,193.88L127.5,191.98L127.59,186.47L127.69,177.89L127.79,167.08L127.89,155.1L127.99,143.12L128.08,132.31L128.18,123.73L128.28,118.22L128.38,116.32L128.48,118.22L128.58,123.73L128.67,132.31L128.77,143.12L128.87,155.1L128.97,167.08L129.07,177.89L129.16,186.47L129.26,191.98L129.36,193.88L129.46,191.98L129.56,186.47L129.66,177.89L129.75,167.08L129.85,155.1L129.95,143.12L130.05,132.31L130.15,123.73L130.24,118.22L130.34,116.32L130.44,118.22L130.54,123.73L130.64,132.31L130.74,143.12L130.83,155.1L130.93,167.08L131.03,177.89L131.13,186.47L131.23,191.98L131.32,193.88L131.42,191.98L131.52,186.47L131.62,177.89L131.72,167.08L131.82,155.1L131.91,143.12L132.01,132.31L132.11,123.73L132.21,118.22L132.31,116.33L132.41,118.22L132.5,123.73L132.6,132.31L132.7,143.12L132.8,155.1L132.9,167.08L132.99,177.89L133.09,186.47L133.19,191.98L133.29,193.87L133.39,191.98L133.49,186.47L133.58,177.89L133.68,167.08L133.78,155.1L133.88,143.12L133.98,132.31L134.07,123.73L134.17,118.22L134.27,116.33L134.37,118.22L134.47,123.73L134.57,132.31L134.66,143.12L134.76,155.1L134.86,167.08L134.96,177.89L135.06,186.47L135.15,191.97L135.25,193.87L135.35,191.97L135.45,186.47L135.55,177.89L135.65,167.08L135.74,155.1L135.84,143.12L135.94,132.31L136.04,123.73L136.14,118.23L136.24,116.33L136.33,118.23L136.43,123.73L136.53,132.31L136.63,143.12L136.73,155.1L136.82,167.08L136.92,177.89L137.02,186.47L137.12,191.97L137.22,193.87L137.32,191.97L137.41,186.47L137.51,177.89L137.61,167.08L137.71,155.1L137.81,143.12L137.9,132.31L138,123.73L138.1,118.23L138.2,116.33L138.3,118.23L138.4,123.74L138.49,132.31L138.59,143.12L138.69,155.1L138.79,167.08L138.89,177.89L138.98,186.46L139.08,191.97L139.18,193.87L139.28,191.97L139.38,186.46L139.48,177.89L139.57,167.08L139.67,155.1L139.77,143.12L139.87,132.31L139.97,123.74L140.06,118.23L140.16,116.33L140.26,118.23L140.36,123.74L140.46,132.31L140.56,143.12L140.65,155.1L140.75,167.08L140.85,177.89L140.95,186.46L141.05,191.97L141.15,193.87L141.24,191.97L141.34,186.46L141.44,177.89L141.54,167.08L141.64,155.1L141.73,143.12L141.83,132.31L141.93,123.74L142.03,118.23L142.13,116.33L142.23,118.23L142.32,123.74L142.42,132.31L142.52,143.12L142.62,155.1L142.72,167.08L142.81,177.89L142.91,186.46L143.01,191.97L143.11,193.86L143.21,191.97L143.31,186.46L143.4,177.89L143.5,167.08L143.6,155.1L143.7,143.12L143.8,132.31L143.89,123.74L143.99,118.23L144.09,116.34L144.19,118.23L144.29,123.74L144.39,132.32L144.48,143.12L144.58,155.1L144.68,167.08L144.78,177.88L144.88,186.46L144.97,191.97L145.07,193.86L145.17,191.97L145.27,186.46L145.37,177.88L145.47,167.08L145.56,155.1L145.66,143.12L145.76,132.32L145.86,123.74L145.96,118.23L146.06,116.34L146.15,118.24L146.25,123.74L146.35,132.32L146.45,143.12L146.55,155.1L146.64,167.08L146.74,177.88L146.84,186.46L146.94,191.96L147.04,193.86L147.14,191.96L147.23,186.46L147.33,177.88L147.43,167.08L147.53,155.1L147.63,143.12L147.72,132.32L147.82,123.74L147.92,118.24L148.02,116.34L148.12,118.24L148.22,123.74L148.31,132.32L148.41,143.12L148.51,155.1L148.61,167.08L148.71,177.88L148.8,186.46L148.9,191.96L149,193.86L149.1,191.96L149.2,186.46L149.3,177.88L149.39,167.08L149.49,155.1L149.59,143.12L149.69,132.32L149.79,123.74L149.88,118.24L149.98,116.34L150.08,118.24L150.18,123.74L150.28,132.32L150.38,143.12L150.47,155.1L150.57,167.08L150.67,177.88L150.77,186.46L150.87,191.96L150.97,193.86L151.06,191.96L151.16,186.46L151.26,177.88L151.36,167.08L151.46,155.1L151.55,143.12L151.65,132.32L151.75,123.75L151.85,118.24L151.95,116.34L152.05,118.24L152.14,123.75L152.24,132.32L152.34,143.12L152.44,155.1L152.54,167.08L152.63,177.88L152.73,186.45L152.83,191.96L152.93,193.86L153.03,191.96L153.13,186.45L153.22,177.88L153.32,167.08L153.42,155.1L153.52,143.12L153.62,132.32L153.71,123.75L153.81,118.24L153.91,116.35L154.01,118.24L154.11,123.75L154.21,132.32L154.3,143.12L154.4,155.1L154.5,167.08L154.6,177.88L154.7,186.45L154.79,191.96L154.89,193.85L154.99,191.96L155.09,186.45L155.19,177.88L155.29,167.08L155.38,155.1L155.48,143.12L155.58,132.32L155.68,123.75L155.78,118.24L155.88,116.35L155.97,118.24L156.07,123.75L156.17,132.32L156.27,143.12L156.37,155.1L156.46,167.08L156.56,177.88L156.66,186.45L156.76,191.96L156.86,193.85L156.96,191.96L157.05,186.45L157.15,177.88L157.25,167.07L157.35,155.1L157.45,143.13L157.54,132.32L157.64,123.75L157.74,118.25L157.84,116.35L157.94,118.25L158.04,123.75L158.13,132.32L158.23,143.13L158.33,155.1L158.43,167.07L158.53,177.88L158.62,186.45L158.72,191.95L158.82,193.85L158.92,191.95L159.02,186.45L159.12,177.88L159.21,167.07L159.31,155.1L159.41,143.13L159.51,132.32L159.61,123.75L159.7,118.25L159.8,116.35L159.9,118.25L160,123.75L160.1,132.32L160.2,143.13L160.29,155.1L160.39,167.07L160.49,177.88L160.59,186.45L160.69,191.95L160.78,193.85L160.88,191.95L160.98,186.45L161.08,177.88L161.18,167.07L161.28,155.1L161.37,143.13L161.47,132.32L161.57,123.75L161.67,118.25L161.77,116.35L161.87,118.25L161.96,123.75L162.06,132.32L162.16,143.13L162.26,155.1L162.36,167.07L162.45,177.87L162.55,186.45L162.65,191.95L162.75,193.85L162.85,191.95L162.95,186.45L163.04,177.87L163.14,167.07L163.24,155.1L163.34,143.13L163.44,132.33L163.53,123.75L163.63,118.25L163.73,116.35L163.83,118.25L163.93,123.75L164.03,132.33L164.12,143.13L164.22,155.1L164.32,167.07L164.42,177.87L164.52,186.45L164.61,191.95L164.71,193.84L164.81,191.95L164.91,186.45L165.01,177.87L165.11,167.07L165.2,155.1L165.3,143.13L165.4,132.33L165.5,123.76L165.6,118.25L165.69,116.36L165.79,118.25L165.89,123.76L165.99,132.33L166.09,143.13L166.19,155.1L166.28,167.07L166.38,177.87L166.48,186.44L166.58,191.95L166.68,193.84L166.78,191.95L166.87,186.44L166.97,177.87L167.07,167.07L167.17,155.1L167.27,143.13L167.36,132.33L167.46,123.76L167.56,118.25L167.66,116.36L167.76,118.25L167.86,123.76L167.95,132.33L168.05,143.13L168.15,155.1L168.25,167.07L168.35,177.87L168.44,186.44L168.54,191.95L168.64,193.84L168.74,191.95L168.84,186.44L168.94,177.87L169.03,167.07L169.13,155.1L169.23,143.13L169.33,132.33L169.43,123.76L169.52,118.26L169.62,116.36L169.72,118.26L169.82,123.76L169.92,132.33L170.02,143.13L170.11,155.1L170.21,167.07L170.31,177.87L170.41,186.44L170.51,191.94L170.6,193.84L170.7,191.94L170.8,186.44L170.9,177.87L171,167.07L171.1,155.1L171.19,143.13L171.29,132.33L171.39,123.76L171.49,118.26L171.59,116.36L171.69,118.26L171.78,123.76L171.88,132.33L171.98,143.13L172.08,155.1L172.18,167.07L172.27,177.87L172.37,186.44L172.47,191.94L172.57,193.84L172.67,191.94L172.77,186.44L172.86,177.87L172.96,167.07L173.06,155.1L173.16,143.13L173.26,132.33L173.35,123.76L173.45,118.26L173.55,116.36L173.65,118.26L173.75,123.76L173.85,132.33L173.94,143.13L174.04,155.1L174.14,167.07L174.24,177.87L174.34,186.44L174.43,191.94L174.53,193.84L174.63,191.94L174.73,186.44L174.83,177.87L174.93,167.07L175.02,155.1L175.12,143.13L175.22,132.33L175.32,123.76L175.42,118.26L175.52,116.37L175.61,118.26L175.71,123.76L175.81,132.33L175.91,143.13L176.01,155.1L176.1,167.07L176.2,177.87L176.3,186.44L176.4,191.94L176.5,193.83L176.6,191.94L176.69,186.44L176.79,177.87L176.89,167.07L176.99,155.1L177.09,143.13L177.18,132.33L177.28,123.76L177.38,118.26L177.48,116.37L177.58,118.26L177.68,123.76L177.77,132.33L177.87,143.13L177.97,155.1L178.07,167.07L178.17,177.87L178.26,186.44L178.36,191.94L178.46,193.83L178.56,191.94L178.66,186.43L178.76,177.87L178.85,167.07L178.95,155.1L179.05,143.13L179.15,132.33L179.25,123.77L179.34,118.26L179.44,116.37L179.54,118.26L179.64,123.77L179.74,132.33L179.84,143.13L179.93,155.1L180.03,167.07L180.13,177.87L180.23,186.43L180.33,191.93L180.43,193.83L180.52,191.93L180.62,186.43L180.72,177.86L180.82,167.07L180.92,155.1L181.01,143.13L181.11,132.34L181.21,123.77L181.31,118.27L181.41,116.37L181.51,118.27L181.6,123.77L181.7,132.34L181.8,143.13L181.9,155.1L182,167.07L182.09,177.86L182.19,186.43L182.29,191.93L182.39,193.83L182.49,191.93L182.59,186.43L182.68,177.86L182.78,167.07L182.88,155.1L182.98,143.13L183.08,132.34L183.17,123.77L183.27,118.27L183.37,116.37L183.47,118.27L183.57,123.77L183.67,132.34L183.76,143.13L183.86,155.1L183.96,167.07L184.06,177.86L184.16,186.43L184.25,191.93L184.35,193.83L184.45,191.93L184.55,186.43L184.65,177.86L184.75,167.07L184.84,155.1L184.94,143.13L185.04,132.34L185.14,123.77L185.24,118.27L185.34,116.37L185.43,118.27L185.53,123.77L185.63,132.34L185.73,143.13L185.83,155.1L185.92,167.07L186.02,177.86L186.12,186.43L186.22,191.93L186.32,193.82L186.42,191.93L186.51,186.43L186.61,177.86L186.71,167.07L186.81,155.1L186.91,143.13L187,132.34L187.1,123.77L187.2,118.27L187.3,116.38L187.4,118.27L187.5,123.77L187.59,132.34L187.69,143.13L187.79,155.1L187.89,167.07L187.99,177.86L188.08,186.43L188.18,191.93L188.28,193.82L188.38,191.93L188.48,186.43L188.58,177.86L188.67,167.07L188.77,155.1L188.87,143.13L188.97,132.34L189.07,123.77L189.16,118.27L189.26,116.38L189.36,118.27L189.46,123.77L189.56,132.34L189.66,143.13L189.75,155.1L189.85,167.07L189.95,177.86L190.05,186.43L190.15,191.93L190.25,193.82L190.34,191.93L190.44,186.43L190.54,177.86L190.64,167.07L190.74,155.1L190.83,143.13L190.93,132.34L191.03,123.77L191.13,118.27L191.23,116.38L191.33,118.27L191.42,123.77L191.52,132.34L191.62,143.13L191.72,155.1L191.82,167.07L191.91,177.86L192.01,186.42L192.11,191.92L192.21,193.82L192.31,191.92L192.41,186.42L192.5,177.86L192.6,167.06L192.7,155.1L192.8,143.14L192.9,132.34L192.99,123.78L193.09,118.28L193.19,116.38L193.29,118.28L193.39,123.78L193.49,132.34L193.58,143.14L193.68,155.1L193.78,167.06L193.88,177.86L193.98,186.42L194.07,191.92L194.17,193.82L194.27,191.92L194.37,186.42L194.47,177.86L194.57,167.06L194.66,155.1L194.76,143.14L194.86,132.34L194.96,123.78L195.06,118.28L195.16,116.38L195.25,118.28L195.35,123.78L195.45,132.34L195.55,143.14L195.65,155.1L195.74,167.06L195.84,177.86L195.94,186.42L196.04,191.92L196.14,193.82L196.24,191.92L196.33,186.42L196.43,177.86L196.53,167.06L196.63,155.1L196.73,143.14L196.82,132.34L196.92,123.78L197.02,118.28L197.12,116.39L197.22,118.28L197.32,123.78L197.41,132.34L197.51,143.14L197.61,155.1L197.71,167.06L197.81,177.86L197.9,186.42L198,191.92L198.1,193.81L198.2,191.92L198.3,186.42L198.4,177.86L198.49,167.06L198.59,155.1L198.69,143.14L198.79,132.34L198.89,123.78L198.98,118.28L199.08,116.39L199.18,118.28L199.28,123.78L199.38,132.35L199.48,143.14L199.57,155.1L199.67,167.06L199.77,177.85L199.87,186.42L199.97,191.92L200.06,193.81L200.16,191.92L200.26,186.42L200.36,177.85L200.46,167.06L200.56,155.1L200.65,143.14L200.75,132.35L200.85,123.78L200.95,118.28L201.05,116.39L201.15,118.28L201.24,123.78L201.34,132.35L201.44,143.14L201.54,155.1L201.64,167.06L201.73,177.85L201.83,186.42L201.93,191.92L202.03,193.81L202.13,191.92L202.23,186.42L202.32,177.85L202.42,167.06L202.52,155.1L202.62,143.14L202.72,132.35L202.81,123.78L202.91,118.29L203.01,116.39L203.11,118.29L203.21,123.78L203.31,132.35L203.4,143.14L203.5,155.1L203.6,167.06L203.7,177.85L203.8,186.42L203.89,191.91L203.99,193.81L204.09,191.91L204.19,186.42L204.29,177.85L204.39,167.06L204.48,155.1L204.58,143.14L204.68,132.35L204.78,123.78L204.88,118.29L204.98,116.39L205.07,118.29L205.17,123.79L205.27,132.35L205.37,143.14L205.47,155.1L205.56,167.06L205.66,177.85L205.76,186.41L205.86,191.91L205.96,193.81L206.06,191.91L206.15,186.41L206.25,177.85L206.35,167.06L206.45,155.1L206.55,143.14L206.64,132.35L206.74,123.79L206.84,118.29L206.94,116.39L207.04,118.29L207.14,123.79L207.23,132.35L207.33,143.14L207.43,155.1L207.53,167.06L207.63,177.85L207.72,186.41L207.82,191.91L207.92,193.8L208.02,191.91L208.12,186.41L208.22,177.85L208.31,167.06L208.41,155.1L208.51,143.14L208.61,132.35L208.71,123.79L208.8,118.29L208.9,116.4L209,118.29L209.1,123.79L209.2,132.35L209.3,143.14L209.39,155.1L209.49,167.06L209.59,177.85L209.69,186.41L209.79,191.91L209.89,193.8L209.98,191.91L210.08,186.41L210.18,177.85L210.28,167.06L210.38,155.1L210.47,143.14L210.57,132.35L210.67,123.79L210.77,118.29L210.87,116.4L210.97,118.29L211.06,123.79L211.16,132.35L211.26,143.14L211.36,155.1L211.46,167.06L211.55,177.85L211.65,186.41L211.75,191.91L211.85,193.8L211.95,191.91L212.05,186.41L212.14,177.85L212.24,167.06L212.34,155.1L212.44,143.14L212.54,132.35L212.63,123.79L212.73,118.29L212.83,116.4L212.93,118.29L213.03,123.79L213.13,132.35L213.22,143.14L213.32,155.1L213.42,167.06L213.52,177.85L213.62,186.41L213.71,191.91L213.81,193.8L213.91,191.91L214.01,186.41L214.11,177.85L214.21,167.06L214.3,155.1L214.4,143.14L214.5,132.35L214.6,123.79L214.7,118.3L214.8,116.4L214.89,118.3L214.99,123.79L215.09,132.35L215.19,143.14L215.29,155.1L215.38,167.06L215.48,177.85L215.58,186.41L215.68,191.9L215.78,193.8L215.88,191.9L215.97,186.41L216.07,177.85L216.17,167.06L216.27,155.1L216.37,143.14L216.46,132.35L216.56,123.79L216.66,118.3L216.76,116.4L216.86,118.3L216.96,123.79L217.05,132.35L217.15,143.14L217.25,155.1L217.35,167.06L217.45,177.84L217.54,186.41L217.64,191.9L217.74,193.8L217.84,191.9L217.94,186.41L218.04,177.84L218.13,167.06L218.23,155.1L218.33,143.14L218.43,132.36L218.53,123.8L218.62,118.3L218.72,116.41L218.82,118.3L218.92,123.8L219.02,132.36L219.12,143.14L219.21,155.1L219.31,167.06L219.41,177.84L219.51,186.4L219.61,191.9L219.71,193.79L219.8,191.9L219.9,186.4L220,177.84L220.1,167.06L220.2,155.1L220.29,143.14L220.39,132.36L220.49,123.8L220.59,118.3L220.69,116.41L220.79,118.3L220.88,123.8L220.98,132.36L221.08,143.14L221.18,155.1L221.28,167.06L221.37,177.84L221.47,186.4L221.57,191.9L221.67,193.79L221.77,191.9L221.87,186.4L221.96,177.84L222.06,167.06L222.16,155.1L222.26,143.14L222.36,132.36L222.45,123.8L222.55,118.3L222.65,116.41L222.75,118.3L222.85,123.8L222.95,132.36L223.04,143.14L223.14,155.1L223.24,167.06L223.34,177.84L223.44,186.4L223.53,191.9L223.63,193.79L223.73,191.9L223.83,186.4L223.93,177.84L224.03,167.06L224.12,155.1L224.22,143.14L224.32,132.36L224.42,123.8L224.52,118.3L224.62,116.41L224.71,118.3L224.81,123.8L224.91,132.36L225.01,143.14L225.11,155.1L225.2,167.06L225.3,177.84L225.4,186.4L225.5,191.9L225.6,193.79L225.7,191.89L225.79,186.4L225.89,177.84L225.99,167.06L226.09,155.1L226.19,143.14L226.28,132.36L226.38,123.8L226.48,118.31L226.58,116.41L226.68,118.31L226.78,123.8L226.87,132.36L226.97,143.14L227.07,155.1L227.17,167.05L227.27,177.84L227.36,186.4L227.46,191.89L227.56,193.79L227.66,191.89L227.76,186.4L227.86,177.84L227.95,167.05L228.05,155.1L228.15,143.15L228.25,132.36L228.35,123.8L228.44,118.31L228.54,116.41L228.64,118.31L228.74,123.8L228.84,132.36L228.94,143.15L229.03,155.1L229.13,167.05L229.23,177.84L229.33,186.4L229.43,191.89L229.53,193.78L229.62,191.89L229.72,186.4L229.82,177.84L229.92,167.05L230.02,155.1L230.11,143.15L230.21,132.36L230.31,123.8L230.41,118.31L230.51,116.42L230.61,118.31L230.7,123.8L230.8,132.36L230.9,143.15L231,155.1L231.1,167.05L231.19,177.84L231.29,186.4L231.39,191.89L231.49,193.78L231.59,191.89L231.69,186.4L231.78,177.84L231.88,167.05L231.98,155.1L232.08,143.15L232.18,132.36L232.27,123.81L232.37,118.31L232.47,116.42L232.57,118.31L232.67,123.81L232.77,132.36L232.86,143.15L232.96,155.1L233.06,167.05L233.16,177.84L233.26,186.39L233.35,191.89L233.45,193.78L233.55,191.89L233.65,186.39L233.75,177.84L233.85,167.05L233.94,155.1L234.04,143.15L234.14,132.36L234.24,123.81L234.34,118.31L234.44,116.42L234.53,118.31L234.63,123.81L234.73,132.36L234.83,143.15L234.93,155.1L235.02,167.05L235.12,177.84L235.22,186.39L235.32,191.89L235.42,193.78L235.52,191.89L235.61,186.39L235.71,177.84L235.81,167.05L235.91,155.1L236.01,143.15L236.1,132.37L236.2,123.81L236.3,118.31L236.4,116.42L236.5,118.31L236.6,123.81L236.69,132.37L236.79,143.15L236.89,155.1L236.99,167.05L237.09,177.83L237.18,186.39L237.28,191.88L237.38,193.78L237.48,191.88L237.58,186.39L237.68,177.83L237.77,167.05L237.87,155.1L237.97,143.15L238.07,132.37L238.17,123.81L238.26,118.32L238.36,116.42L238.46,118.32L238.56,123.81L238.66,132.37L238.76,143.15L238.85,155.1L238.95,167.05L239.05,177.83L239.15,186.39L239.25,191.88L239.34,193.78L239.44,191.88L239.54,186.39L239.64,177.83L239.74,167.05L239.84,155.1L239.93,143.15L240.03,132.37L240.13,123.81L240.23,118.32L240.33,116.43L240.43,118.32L240.52,123.81L240.62,132.37L240.72,143.15L240.82,155.1L240.92,167.05L241.01,177.83L241.11,186.39L241.21,191.88L241.31,193.77L241.41,191.88L241.51,186.39L241.6,177.83L241.7,167.05L241.8,155.1L241.9,143.15L242,132.37L242.09,123.81L242.19,118.32L242.29,116.43L242.39,118.32L242.49,123.81L242.59,132.37L242.68,143.15L242.78,155.1L242.88,167.05L242.98,177.83L243.08,186.39L243.17,191.88L243.27,193.77L243.37,191.88L243.47,186.39L243.57,177.83L243.67,167.05L243.76,155.1L243.86,143.15L243.96,132.37L244.06,123.81L244.16,118.32L244.26,116.43L244.35,118.32L244.45,123.81L244.55,132.37L244.65,143.15L244.75,155.1L244.84,167.05L244.94,177.83L245.04,186.39L245.14,191.88L245.24,193.77L245.34,191.88L245.43,186.38L245.53,177.83L245.63,167.05L245.73,155.1L245.83,143.15L245.92,132.37L246.02,123.82L246.12,118.32L246.22,116.43L246.32,118.32L246.42,123.82L246.51,132.37L246.61,143.15L246.71,155.1L246.81,167.05L246.91,177.83L247,186.38L247.1,191.88L247.2,193.77L247.3,191.88L247.4,186.38L247.5,177.83L247.59,167.05L247.69,155.1L247.79,143.15L247.89,132.37L247.99,123.82L248.08,118.32L248.18,116.43L248.28,118.32L248.38,123.82L248.48,132.37L248.58,143.15L248.67,155.1L248.77,167.05L248.87,177.83L248.97,186.38L249.07,191.87L249.17,193.77L249.26,191.87L249.36,186.38L249.46,177.83L249.56,167.05L249.66,155.1L249.75,143.15L249.85,132.37L249.95,123.82L250.05,118.33L250.15,116.43L250.25,118.33L250.34,123.82L250.44,132.37L250.54,143.15L250.64,155.1L250.74,167.05L250.83,177.83L250.93,186.38L251.03,191.87L251.13,193.76L251.23,191.87L251.33,186.38L251.42,177.83L251.52,167.05L251.62,155.1L251.72,143.15L251.82,132.37L251.91,123.82L252.01,118.33L252.11,116.44L252.21,118.33L252.31,123.82L252.41,132.37L252.5,143.15L252.6,155.1L252.7,167.05L252.8,177.83L252.9,186.38L252.99,191.87L253.09,193.76L253.19,191.87L253.29,186.38L253.39,177.83L253.49,167.05L253.58,155.1L253.68,143.15L253.78,132.37L253.88,123.82L253.98,118.33L254.08,116.44L254.17,118.33L254.27,123.82L254.37,132.38L254.47,143.15L254.57,155.1L254.66,167.05L254.76,177.82L254.86,186.38L254.96,191.87L255.06,193.76L255.16,191.87L255.25,186.38L255.35,177.82L255.45,167.05L255.55,155.1L255.65,143.15L255.74,132.38L255.84,123.82L255.94,118.33L256.04,116.44L256.14,118.33L256.24,123.82L256.33,132.38L256.43,143.15L256.53,155.1L256.63,167.05L256.73,177.82L256.82,186.38L256.92,191.87L257.02,193.76L257.12,191.87L257.22,186.38L257.32,177.82L257.41,167.05L257.51,155.1L257.61,143.15L257.71,132.38L257.81,123.82L257.9,118.33L258,116.44L258.1,118.33L258.2,123.82L258.3,132.38L258.4,143.15L258.49,155.1L258.59,167.05L258.69,177.82L258.79,186.37L258.89,191.87L258.99,193.76L259.08,191.87L259.18,186.37L259.28,177.82L259.38,167.05L259.48,155.1L259.57,143.15L259.67,132.38L259.77,123.83L259.87,118.34L259.97,116.44L260.07,118.34L260.16,123.83L260.26,132.38L260.36,143.15L260.46,155.1L260.56,167.05L260.65,177.82L260.75,186.37L260.85,191.86L260.95,193.76L261.05,191.86L261.15,186.37L261.24,177.82L261.34,167.05L261.44,155.1L261.54,143.15L261.64,132.38L261.73,123.83L261.83,118.34L261.93,116.45L262.03,118.34L262.13,123.83L262.23,132.38L262.32,143.16L262.42,155.1L262.52,167.04L262.62,177.82L262.72,186.37L262.81,191.86L262.91,193.75L263.01,191.86L263.11,186.37L263.21,177.82L263.31,167.04L263.4,155.1L263.5,143.16L263.6,132.38L263.7,123.83L263.8,118.34L263.89,116.45L263.99,118.34L264.09,123.83L264.19,132.38L264.29,143.16L264.39,155.1L264.48,167.04L264.58,177.82L264.68,186.37L264.78,191.86L264.88,193.75L264.98,191.86L265.07,186.37L265.17,177.82L265.27,167.04L265.37,155.1L265.47,143.16L265.56,132.38L265.66,123.83L265.76,118.34L265.86,116.45L265.96,118.34L266.06,123.83L266.15,132.38L266.25,143.16L266.35,155.1L266.45,167.04L266.55,177.82L266.64,186.37L266.74,191.86L266.84,193.75L266.94,191.86L267.04,186.37L267.14,177.82L267.23,167.04L267.33,155.1L267.43,143.16L267.53,132.38L267.63,123.83L267.72,118.34L267.82,116.45L267.92,118.34L268.02,123.83L268.12,132.38L268.22,143.16L268.31,155.1L268.41,167.04L268.51,177.82L268.61,186.37L268.71,191.86L268.81,193.75L268.9,191.86L269,186.37L269.1,177.82L269.2,167.04L269.3,155.1L269.39,143.16L269.49,132.38L269.59,123.83L269.69,118.34L269.79,116.45L269.89,118.34L269.98,123.83L270.08,132.38L270.18,143.16L270.28,155.1L270.38,167.04L270.47,177.82L270.57,186.37L270.67,191.86L270.77,193.75L270.87,191.86L270.97,186.37L271.06,177.82L271.16,167.04L271.26,155.1L271.36,143.16L271.46,132.38L271.55,123.83L271.65,118.35L271.75,116.45L271.85,118.35L271.95,123.83L272.05,132.38L272.14,143.16L272.24,155.1L272.34,167.04L272.44,177.82L272.54,186.36L272.63,191.85L272.73,193.74L272.83,191.85L272.93,186.36L273.03,177.81L273.13,167.04L273.22,155.1L273.32,143.16L273.42,132.39L273.52,123.84L273.62,118.35L273.71,116.46L273.81,118.35L273.91,123.84L274.01,132.39L274.11,143.16L274.21,155.1L274.3,167.04L274.4,177.81L274.5,186.36L274.6,191.85L274.7,193.74L274.8,191.85L274.89,186.36L274.99,177.81L275.09,167.04L275.19,155.1L275.29,143.16L275.38,132.39L275.48,123.84L275.58,118.35L275.68,116.46L275.78,118.35L275.88,123.84L275.97,132.39L276.07,143.16L276.17,155.1L276.27,167.04L276.37,177.81L276.46,186.36L276.56,191.85L276.66,193.74L276.76,191.85L276.86,186.36L276.96,177.81L277.05,167.04L277.15,155.1L277.25,143.16L277.35,132.39L277.45,123.84L277.54,118.35L277.64,116.46L277.74,118.35L277.84,123.84L277.94,132.39L278.04,143.16L278.13,155.1L278.23,167.04L278.33,177.81L278.43,186.36L278.53,191.85L278.62,193.74L278.72,191.85L278.82,186.36L278.92,177.81L279.02,167.04L279.12,155.1L279.21,143.16L279.31,132.39L279.41,123.84L279.51,118.35L279.61,116.46L279.71,118.35L279.8,123.84L279.9,132.39L280,143.16L280.1,155.1L280.2,167.04L280.29,177.81L280.39,186.36L280.49,191.85L280.59,193.74L280.69,191.85L280.79,186.36L280.88,177.81L280.98,167.04L281.08,155.1L281.18,143.16L281.28,132.39L281.37,123.84L281.47,118.35L281.57,116.46L281.67,118.35L281.77,123.84L281.87,132.39L281.96,143.16L282.06,155.1L282.16,167.04L282.26,177.81L282.36,186.36L282.45,191.84L282.55,193.74L282.65,191.84L282.75,186.36L282.85,177.81L282.95,167.04L283.04,155.1L283.14,143.16L283.24,132.39L283.34,123.84L283.44,118.36L283.54,116.47L283.63,118.36L283.73,123.84L283.83,132.39L283.93,143.16L284.03,155.1L284.12,167.04L284.22,177.81L284.32,186.36L284.42,191.84L284.52,193.73L284.62,191.84L284.71,186.36L284.81,177.81L284.91,167.04L285.01,155.1L285.11,143.16L285.2,132.39L285.3,123.84L285.4,118.36L285.5,116.47L285.6,118.36L285.7,123.85L285.79,132.39L285.89,143.16L285.99,155.1L286.09,167.04L286.19,177.81L286.28,186.35L286.38,191.84L286.48,193.73L286.58,191.84L286.68,186.35L286.78,177.81L286.87,167.04L286.97,155.1L287.07,143.16L287.17,132.39L287.27,123.85L287.36,118.36L287.46,116.47L287.56,118.36L287.66,123.85L287.76,132.39L287.86,143.16L287.95,155.1L288.05,167.04L288.15,177.81L288.25,186.35L288.35,191.84L288.44,193.73L288.54,191.84L288.64,186.35L288.74,177.81L288.84,167.04L288.94,155.1L289.03,143.16L289.13,132.39L289.23,123.85L289.33,118.36L289.43,116.47L289.53,118.36L289.62,123.85L289.72,132.39L289.82,143.16L289.92,155.1L290.02,167.04L290.11,177.81L290.21,186.35L290.31,191.84L290.41,193.73L290.51,191.84L290.61,186.35L290.7,177.81L290.8,167.04L290.9,155.1L291,143.16L291.1,132.4L291.19,123.85L291.29,118.36L291.39,116.47L291.49,118.36L291.59,123.85L291.69,132.4L291.78,143.16L291.88,155.1L291.98,167.04L292.08,177.8L292.18,186.35L292.27,191.84L292.37,193.73L292.47,191.84L292.57,186.35L292.67,177.8L292.77,167.04L292.86,155.1L292.96,143.16L293.06,132.4L293.16,123.85L293.26,118.36L293.36,116.47L293.45,118.36L293.55,123.85L293.65,132.4L293.75,143.16L293.85,155.1L293.94,167.04L294.04,177.8L294.14,186.35L294.24,191.83L294.34,193.72L294.44,191.83L294.53,186.35L294.63,177.8L294.73,167.04L294.83,155.1L294.93,143.16L295.02,132.4L295.12,123.85L295.22,118.37L295.32,116.48L295.42,118.37L295.52,123.85L295.61,132.4L295.71,143.16L295.81,155.1L295.91,167.04L296.01,177.8L296.1,186.35L296.2,191.83L296.3,193.72L296.4,191.83L296.5,186.35L296.6,177.8L296.69,167.04L296.79,155.1L296.89,143.16L296.99,132.4L297.09,123.85L297.18,118.37L297.28,116.48L297.38,118.37L297.48,123.85L297.58,132.4L297.68,143.17L297.77,155.1L297.87,167.03L297.97,177.8L298.07,186.35L298.17,191.83L298.26,193.72L298.36,191.83L298.46,186.35L298.56,177.8L298.66,167.03L298.76,155.1L298.85,143.17L298.95,132.4L299.05,123.86L299.15,118.37L299.25,116.48L299.35,118.37L299.44,123.86L299.54,132.4L299.64,143.17L299.74,155.1L299.84,167.03L299.93,177.8L300.03,186.34L300.13,191.83L300.23,193.72L300.33,191.83L300.43,186.34L300.52,177.8L300.62,167.03L300.72,155.1L300.82,143.17L300.92,132.4L301.01,123.86L301.11,118.37L301.21,116.48L301.31,118.37L301.41,123.86L301.51,132.4L301.6,143.17L301.7,155.1L301.8,167.03L301.9,177.8L302,186.34L302.09,191.83L302.19,193.72L302.29,191.83L302.39,186.34L302.49,177.8L302.59,167.03L302.68,155.1L302.78,143.17L302.88,132.4L302.98,123.86L303.08,118.37L303.18,116.48L303.27,118.37L303.37,123.86L303.47,132.4L303.57,143.17L303.67,155.1L303.76,167.03L303.86,177.8L303.96,186.34L304.06,191.83L304.16,193.72L304.26,191.83L304.35,186.34L304.45,177.8L304.55,167.03L304.65,155.1L304.75,143.17L304.84,132.4L304.94,123.86L305.04,118.37L305.14,116.49L305.24,118.38L305.34,123.86L305.43,132.4L305.53,143.17L305.63,155.1L305.73,167.03L305.83,177.8L305.92,186.34L306.02,191.82L306.12,193.71L306.22,191.82L306.32,186.34L306.42,177.8L306.51,167.03L306.61,155.1L306.71,143.17L306.81,132.4L306.91,123.86L307,118.38L307.1,116.49L307.2,118.38L307.3,123.86L307.4,132.4L307.5,143.17L307.59,155.1L307.69,167.03L307.79,177.8L307.89,186.34L307.99,191.82L308.08,193.71L308.18,191.82L308.28,186.34L308.38,177.8L308.48,167.03L308.58,155.1L308.67,143.17L308.77,132.4L308.87,123.86L308.97,118.38L309.07,116.49L309.17,118.38L309.26,123.86L309.36,132.4L309.46,143.17L309.56,155.1L309.66,167.03L309.75,177.79L309.85,186.34L309.95,191.82L310.05,193.71L310.15,191.82L310.25,186.34L310.34,177.79L310.44,167.03L310.54,155.1L310.64,144.39L310.74,137.06L310.83,133.47L310.93,133.44L311.03,136.29L311.13,137.37L311.23,140.16L311.33,144.34L311.42,149.5L311.52,155.1L311.62,160.6L311.72,165.46L311.82,169.22L311.91,171.54L312.01,172.21L312.11,171.21L312.21,168.67L312.31,164.86L312.41,160.18L312.5,155.1L312.6,150.13L312.7,145.74L312.8,142.35L312.9,140.28L313,139.68L313.09,140.6L313.19,142.9L313.29,146.34L313.39,150.55L313.49,155.1L313.58,159.55L313.68,163.46L313.78,166.47L313.88,168.31L313.98,168.82L314.08,167.99L314.17,165.92L314.27,162.86L314.37,159.13L314.47,155.1L314.57,151.17L314.66,147.71L314.76,145.05L314.86,143.42L314.96,142.97L315.06,143.71L315.16,145.53L315.25,148.23L315.35,151.54L315.45,155.1L315.55,158.57L315.65,161.62L315.74,163.95L315.84,165.36L315.94,165.74L316.04,165.08L316.14,163.47L316.24,161.09L316.33,158.21L316.43,155.1L316.53,152.09L316.63,149.46L316.73,147.45L316.82,146.25L316.92,145.94L317.02,146.53L317.12,147.93L317.22,149.98L317.32,152.45L317.41,155.1L317.51,157.65L317.61,159.87L317.71,161.55L317.81,162.54L317.9,162.77L318,162.26L318.1,161.07L318.2,159.35L318.3,157.29L318.4,155.1L318.49,152.99L318.59,151.13L318.69,149.71L318.79,148.85L318.89,148.62L318.99,149.02L319.08,150L319.18,151.45L319.28,153.21L319.38,155.1L319.48,156.94L319.57,158.54L319.67,159.77L319.77,160.5L319.87,160.69L319.97,160.33L320.07,159.48L320.16,158.23L320.26,156.72L320.36,155.1L320.46,153.54L320.56,152.18L320.65,151.15L320.75,150.54L320.85,150.4L320.95,150.71L321.05,151.44L321.15,152.49L321.24,153.76L321.34,155.1L321.44,156.39L321.54,157.5L321.64,158.33L321.73,158.81L321.83,158.91L321.93,158.64L322.03,158.04L322.13,157.18L322.23,156.17L322.32,155.1L322.42,154.09L322.52,153.23L322.62,152.59L322.72,152.24L322.81,152.18L322.91,152.41L323.01,152.88L323.11,153.54L323.21,154.31L323.31,155.1L323.4,155.85L323.5,156.52L323.6,157.02L323.7,157.33L323.8,157.41L323.9,157.27L323.99,156.92L324.09,156.4L324.19,155.77L324.29,155.1L324.39,154.45L324.48,153.87L324.58,153.44L324.68,153.18L324.78,153.11L324.88,153.24L324.98,153.55L325.07,153.99L325.17,154.53L325.27,155.1L325.37,155.65L325.47,156.13L325.56,156.5L325.66,156.71L325.76,156.76L325.86,156.65L325.96,156.39L326.06,156.02L326.15,155.57L326.25,155.1L326.35,154.65L326.45,154.26L326.55,153.97L326.64,153.8L326.74,153.76L326.84,153.86L326.94,154.07L327.04,154.37L327.14,154.73L327.23,155.1L327.33,155.45L327.43,155.75L327.53,155.97L327.63,156.09L327.72,156.11L327.82,156.03L327.92,155.87L328.02,155.64L328.12,155.37L328.22,155.1L328.31,154.85L328.41,154.64L328.51,154.49L328.61,154.42L328.71,154.41L328.81,154.48L328.9,154.6L329,154.75L329.1,154.93L329.2,155.1L329.3,155.25L329.39,155.37L329.49,155.44L329.59,155.47L329.69,155.46L329.79,155.41L329.89,155.34L329.98,155.25L330.08,155.17L330.18,155.1" fill="none" stroke="#0000ff" stroke-width="1.3" stroke-linejoin="round" stroke-linecap="butt"/>
<rect x="32" y="112.0" width="311.5" height="86.1" fill="none" stroke="#4a4a4a" stroke-width="0.7"/>
<line x1="45.40" x2="45.40" y1="198.1" y2="201.1" stroke="#2a2a2a" stroke-width="0.8"/>
<text x="45.40" y="210.00" text-anchor="middle" font-size="8.1" font-family="DejaVu Sans, Liberation Sans, sans-serif" fill="#1c1c1c">0</text>
<line x1="94.50" x2="94.50" y1="198.1" y2="201.1" stroke="#2a2a2a" stroke-width="0.8"/>
<text x="94.50" y="210.00" text-anchor="middle" font-size="8.1" font-family="DejaVu Sans, Liberation Sans, sans-serif" fill="#1c1c1c">5</text>
<line x1="143.60" x2="143.60" y1="198.1" y2="201.1" stroke="#2a2a2a" stroke-width="0.8"/>
<text x="143.60" y="210.00" text-anchor="middle" font-size="8.1" font-family="DejaVu Sans, Liberation Sans, sans-serif" fill="#1c1c1c">10</text>
<line x1="192.70" x2="192.70" y1="198.1" y2="201.1" stroke="#2a2a2a" stroke-width="0.8"/>
<text x="192.70" y="210.00" text-anchor="middle" font-size="8.1" font-family="DejaVu Sans, Liberation Sans, sans-serif" fill="#1c1c1c">15</text>
<line x1="241.80" x2="241.80" y1="198.1" y2="201.1" stroke="#2a2a2a" stroke-width="0.8"/>
<text x="241.80" y="210.00" text-anchor="middle" font-size="8.1" font-family="DejaVu Sans, Liberation Sans, sans-serif" fill="#1c1c1c">20</text>
<line x1="290.90" x2="290.90" y1="198.1" y2="201.1" stroke="#2a2a2a" stroke-width="0.8"/>
<text x="290.90" y="210.00" text-anchor="middle" font-size="8.1" font-family="DejaVu Sans, Liberation Sans, sans-serif" fill="#1c1c1c">25</text>
<line x1="340.00" x2="340.00" y1="198.1" y2="201.1" stroke="#2a2a2a" stroke-width="0.8"/>
<text x="340.00" y="210.00" text-anchor="middle" font-size="8.1" font-family="DejaVu Sans, Liberation Sans, sans-serif" fill="#1c1c1c">30</text>
<line x1="29.0" x2="32" y1="115.50" y2="115.50" stroke="#2a2a2a" stroke-width="0.8"/>
<text x="26.00" y="118.72" text-anchor="end" font-size="8.1" font-family="DejaVu Sans, Liberation Sans, sans-serif" fill="#1c1c1c">4</text>
<line x1="29.0" x2="32" y1="135.30" y2="135.30" stroke="#2a2a2a" stroke-width="0.8"/>
<text x="26.00" y="138.52" text-anchor="end" font-size="8.1" font-family="DejaVu Sans, Liberation Sans, sans-serif" fill="#1c1c1c">2</text>
<line x1="29.0" x2="32" y1="155.10" y2="155.10" stroke="#2a2a2a" stroke-width="0.8"/>
<text x="26.00" y="158.32" text-anchor="end" font-size="8.1" font-family="DejaVu Sans, Liberation Sans, sans-serif" fill="#1c1c1c">0</text>
<line x1="29.0" x2="32" y1="174.90" y2="174.90" stroke="#2a2a2a" stroke-width="0.8"/>
<text x="26.00" y="178.12" text-anchor="end" font-size="8.1" font-family="DejaVu Sans, Liberation Sans, sans-serif" fill="#1c1c1c">−2</text>
<line x1="29.0" x2="32" y1="194.70" y2="194.70" stroke="#2a2a2a" stroke-width="0.8"/>
<text x="26.00" y="197.92" text-anchor="end" font-size="8.1" font-family="DejaVu Sans, Liberation Sans, sans-serif" fill="#1c1c1c">−4</text>
<text transform="translate(8.6,155.05) rotate(-90)" text-anchor="middle" font-size="9.5" font-family="Liberation Sans, sans-serif" fill="#1c1c1c">Angular velocity (rad/s)</text>
<rect x="236.4" y="115.4" width="102.29999999999998" height="14.299999999999983" rx="1.6" fill="#fff" fill-opacity="0.8" stroke="#ccc" stroke-opacity="0.8" stroke-width="0.6"/>
<line x1="239.30" x2="256.30" y1="122.55" y2="122.55" stroke="#0000ff" stroke-width="1.35"/>
<text x="335.09999999999997" y="125.47" text-anchor="end" font-size="8.1" font-family="DejaVu Sans, Liberation Sans, sans-serif" fill="#1c1c1c">Experimental data</text>
<text x="187" y="223" text-anchor="middle" font-size="10.5" font-family="Liberation Sans, sans-serif" fill="#1c1c1c">Time (s)</text>
<text x="163" y="240" text-anchor="middle" font-size="15.8" font-family="Liberation Serif, serif" fill="#000" stroke="#000" stroke-width="0.25">(a)</text>
<path clip-path="url(#cp2)" d="M402.5,49.25L402.95,49.25L403.4,49.24L403.85,49.22L404.3,49.19L404.75,49.16L405.2,49.12L405.66,49.08L406.11,49.02L406.56,48.97L407.01,48.9L407.46,48.82L407.91,48.74L408.36,48.66L408.81,48.56L409.26,48.46L409.71,48.35L410.16,48.23L410.61,48.11L411.06,47.98L411.51,47.84L411.97,47.7L412.42,47.55L412.87,47.39L413.32,47.22L413.77,47.05L414.22,46.87L414.67,46.69L415.12,46.49L415.57,46.29L416.02,46.09L416.47,45.87L416.92,45.65L417.37,45.42L417.82,45.19L418.28,44.94L418.73,44.69L419.18,44.44L419.63,44.17L420.08,43.9L420.53,43.62L420.98,43.34L421.43,43.05L421.88,42.75L422.33,42.44L422.78,42.13L423.23,41.81L423.68,41.48L424.13,41.15L424.59,41.41L425.04,42.5L425.49,44.16L425.94,46.07L426.39,47.84L426.84,49.03L427.29,49.25L427.74,49.25L428.19,49.25L428.64,49.25L429.09,49.25L429.54,49.25L429.99,49.25L430.44,49.25L430.44,49.25L429.99,49.25L429.54,49.25L429.09,49.25L428.64,49.25L428.19,49.25L427.74,49.25L427.29,49.25L426.84,49.47L426.39,50.66L425.94,52.43L425.49,54.34L425.04,56L424.59,57.09L424.13,57.35L423.68,57.02L423.23,56.69L422.78,56.37L422.33,56.06L421.88,55.75L421.43,55.45L420.98,55.16L420.53,54.88L420.08,54.6L419.63,54.33L419.18,54.06L418.73,53.81L418.28,53.56L417.82,53.31L417.37,53.08L416.92,52.85L416.47,52.63L416.02,52.41L415.57,52.21L415.12,52.01L414.67,51.81L414.22,51.63L413.77,51.45L413.32,51.28L412.87,51.11L412.42,50.95L411.97,50.8L411.51,50.66L411.06,50.52L410.61,50.39L410.16,50.27L409.71,50.15L409.26,50.04L408.81,49.94L408.36,49.84L407.91,49.76L407.46,49.68L407.01,49.6L406.56,49.53L406.11,49.48L405.66,49.42L405.2,49.38L404.75,49.34L404.3,49.31L403.85,49.28L403.4,49.26L402.95,49.25L402.5,49.25Z" fill="#ff0000" fill-opacity="1" stroke="none"/>
<path clip-path="url(#cp2)" d="M402.5,49.25L402.56,49.25L402.61,49.25L402.67,49.25L402.73,49.25L402.78,49.25L402.84,49.25L402.89,49.25L402.95,49.25L403.01,49.24L403.06,49.24L403.12,49.24L403.18,49.24L403.23,49.24L403.29,49.24L403.35,49.25L403.4,49.25L403.46,49.25L403.51,49.26L403.57,49.26L403.63,49.27L403.68,49.27L403.74,49.28L403.8,49.28L403.85,49.29L403.91,49.29L403.96,49.29L404.02,49.29L404.08,49.29L404.13,49.29L404.19,49.28L404.25,49.28L404.3,49.27L404.36,49.25L404.42,49.24L404.47,49.23L404.53,49.21L404.58,49.19L404.64,49.18L404.7,49.16L404.75,49.15L404.81,49.14L404.87,49.14L404.92,49.13L404.98,49.14L405.04,49.14L405.09,49.16L405.15,49.17L405.2,49.2L405.26,49.22L405.32,49.25L405.37,49.28L405.43,49.31L405.49,49.35L405.54,49.38L405.6,49.41L405.66,49.43L405.71,49.45L405.77,49.47L405.82,49.47L405.88,49.47L405.94,49.46L405.99,49.44L406.05,49.41L406.11,49.38L406.16,49.33L406.22,49.29L406.27,49.23L406.33,49.18L406.39,49.12L406.44,49.06L406.5,49.01L406.56,48.97L406.61,48.93L406.67,48.9L406.73,48.89L406.78,48.88L406.84,48.89L406.89,48.92L406.95,48.96L407.01,49.01L407.06,49.07L407.12,49.14L407.18,49.22L407.23,49.31L407.29,49.39L407.35,49.48L407.4,49.56L407.46,49.64L407.51,49.7L407.57,49.75L407.63,49.78L407.68,49.8L407.74,49.79L407.8,49.77L407.85,49.72L407.91,49.66L407.96,49.58L408.02,49.48L408.08,49.37L408.13,49.25L408.19,49.13L408.25,49L408.3,48.88L408.36,48.77L408.42,48.67L408.47,48.59L408.53,48.53L408.58,48.5L408.64,48.49L408.7,48.51L408.75,48.55L408.81,48.63L408.87,48.72L408.92,48.85L408.98,48.99L409.04,49.14L409.09,49.31L409.15,49.47L409.2,49.64L409.26,49.8L409.32,49.94L409.37,50.06L409.43,50.16L409.49,50.23L409.54,50.26L409.6,50.26L409.66,50.22L409.71,50.14L409.77,50.03L409.82,49.89L409.88,49.72L409.94,49.53L409.99,49.32L410.05,49.1L410.11,48.89L410.16,48.67L410.22,48.48L410.27,48.3L410.33,48.16L410.39,48.05L410.44,47.98L410.5,47.95L410.56,47.97L410.61,48.04L410.67,48.15L410.73,48.31L410.78,48.5L410.84,48.73L410.89,48.98L410.95,49.25L411.01,49.53L411.06,49.8L411.12,50.06L411.18,50.3L411.23,50.51L411.29,50.67L411.35,50.79L411.4,50.86L411.46,50.87L411.51,50.82L411.57,50.72L411.63,50.56L411.68,50.34L411.74,50.09L411.8,49.79L411.85,49.47L411.91,49.14L411.97,48.8L412.02,48.46L412.08,48.15L412.13,47.87L412.19,47.64L412.25,47.45L412.3,47.33L412.36,47.27L412.42,47.28L412.47,47.37L412.53,47.52L412.58,47.74L412.64,48.02L412.7,48.35L412.75,48.72L412.81,49.11L412.87,49.52L412.92,49.93L412.98,50.33L413.04,50.69L413.09,51.01L413.15,51.27L413.2,51.47L413.26,51.59L413.32,51.63L413.37,51.58L413.43,51.45L413.49,51.24L413.54,50.95L413.6,50.59L413.66,50.18L413.71,49.73L413.77,49.25L413.82,48.76L413.88,48.28L413.94,47.82L413.99,47.41L414.05,47.05L414.11,46.77L414.16,46.57L414.22,46.46L414.28,46.45L414.33,46.54L414.39,46.73L414.44,47.01L414.5,47.38L414.56,47.82L414.61,48.33L414.67,48.87L414.73,49.44L414.78,50.01L414.84,50.57L414.89,51.09L414.95,51.55L415.01,51.94L415.06,52.24L415.12,52.44L415.18,52.52L415.23,52.49L415.29,52.35L415.35,52.09L415.4,51.72L415.46,51.26L415.51,50.72L415.57,50.12L415.63,49.47L415.68,48.81L415.74,48.15L415.8,47.52L415.85,46.94L415.91,46.43L415.97,46.02L416.02,45.71L416.08,45.53L416.13,45.47L416.19,45.55L416.25,45.77L416.3,46.11L416.36,46.57L416.42,47.14L416.47,47.79L416.53,48.5L416.58,49.25L416.64,50.01L416.7,50.76L416.75,51.47L416.81,52.1L416.87,52.65L416.92,53.08L416.98,53.38L417.04,53.54L417.09,53.55L417.15,53.4L417.2,53.11L417.26,52.67L417.32,52.1L417.37,51.42L417.43,50.65L417.49,49.82L417.54,48.96L417.6,48.1L417.66,47.26L417.71,46.48L417.77,45.79L417.82,45.21L417.88,44.77L417.94,44.48L417.99,44.36L418.05,44.41L418.11,44.64L418.16,45.03L418.22,45.58L418.28,46.27L418.33,47.08L418.39,47.97L418.44,48.93L418.5,49.9L418.56,50.87L418.61,51.8L418.67,52.64L418.73,53.38L418.78,53.98L418.84,54.42L418.89,54.68L418.95,54.75L419.01,54.62L419.06,54.3L419.12,53.8L419.18,53.13L419.23,52.3L419.29,51.36L419.35,50.33L419.4,49.25L419.46,48.15L419.51,47.08L419.57,46.07L419.63,45.16L419.68,44.39L419.74,43.77L419.8,43.35L419.85,43.13L419.91,43.13L419.97,43.34L420.02,43.77L420.08,44.4L420.13,45.21L420.19,46.18L420.25,47.27L420.3,48.44L420.36,49.66L420.42,50.88L420.47,52.05L420.53,53.14L420.59,54.1L420.64,54.91L420.7,55.52L420.75,55.91L420.81,56.08L420.87,56L420.92,55.68L420.98,55.12L421.04,54.35L421.09,53.39L421.15,52.26L421.2,51.02L421.26,49.7L421.32,48.35L421.37,47.01L421.43,45.74L421.49,44.57L421.54,43.56L421.6,42.74L421.66,42.14L421.71,41.79L421.77,41.71L421.82,41.89L421.88,42.33L421.94,43.03L421.99,43.95L422.05,45.08L422.11,46.37L422.16,47.77L422.22,49.25L422.28,50.74L422.33,52.2L422.39,53.57L422.44,54.79L422.5,55.84L422.56,56.66L422.61,57.23L422.67,57.52L422.73,57.51L422.78,57.22L422.84,56.63L422.9,55.78L422.95,54.68L423.01,53.38L423.06,51.91L423.12,50.34L423.18,48.7L423.23,47.07L423.29,45.5L423.35,44.05L423.4,42.77L423.46,41.7L423.51,40.89L423.57,40.37L423.63,40.16L423.68,40.28L423.74,40.71L423.8,41.45L423.85,42.48L423.91,43.76L423.97,45.26L424.02,46.9L424.08,48.65L424.13,50.44L424.19,52.21L424.25,53.87L424.3,55.37L424.36,56.64L424.42,57.62L424.47,58.27L424.53,58.56L424.59,58.47L424.64,58L424.7,57.17L424.75,56.01L424.81,54.6L424.87,52.99L424.92,51.28L424.98,49.56L425.04,47.93L425.09,46.49L425.15,45.3L425.21,44.37L425.26,43.69L425.32,43.21L425.37,42.85L425.43,42.49L425.49,42.04L425.54,41.49L425.6,40.88L425.66,40.23L425.71,39.61L425.77,39.11L425.82,38.85L425.88,38.96L425.94,39.64L425.99,40.98L426.05,42.84L426.11,45.01L426.16,47.24L426.22,49.23L426.28,50.68L426.33,51.22L426.39,50.51L426.44,48.58L426.5,45.78L426.56,42.51L426.61,39.19L426.67,36.33L426.73,34.41L426.78,33.97L426.84,35.41L426.9,38.5L426.95,42.97L427.01,48L427.06,52.94L427.12,57.31L427.18,60.74L427.23,62.91L427.29,63.58L427.35,63.64L427.4,62.68L427.46,61.06L427.51,59.15L427.57,57.33L427.63,55.94L427.68,54.98L427.74,54.36L427.8,53.98L427.85,53.71L427.91,53.47L427.97,53.22L428.02,52.94L428.08,52.62L428.13,52.25L428.19,51.8L428.25,51.25L428.3,50.59L428.36,49.79L428.42,48.88L428.47,47.89L428.53,46.87L428.59,45.87L428.64,44.92L428.7,44.09L428.75,43.43L428.81,42.98L428.87,42.81L428.92,42.97L428.98,43.34L429.04,43.71L429.09,43.84L429.15,43.5L429.21,42.45L429.26,40.73L429.32,38.53L429.37,36.07L429.43,33.57L429.49,31.26L429.54,29.39L429.6,28.2L429.66,27.97L429.71,28.96L429.77,31.27L429.82,34.45L429.88,38.02L429.94,41.55L429.99,44.59L430.05,46.69L430.11,47.39L430.16,46.23L430.22,43.05L430.28,38.47L430.33,33.23L430.39,28.06L430.44,23.72L430.5,20.99L430.56,20.62L430.61,23.34L430.67,28.91L430.73,36.48L430.78,45.19L430.84,54.16L430.9,62.51L430.95,69.33L431.01,73.71L431.06,74.88L431.12,73.25L431.18,69.75L431.23,65.3L431.29,60.82L431.35,57.18L431.4,54.61L431.46,52.98L431.52,52.11L431.57,51.85L431.63,52.04L431.68,52.52L431.74,53.1L431.8,53.63L431.85,53.92L431.91,53.8L431.97,53.12L432.02,51.84L432.08,50.12L432.13,48.09L432.19,45.92L432.25,43.74L432.3,41.7L432.36,39.95L432.42,38.65L432.47,37.94L432.53,37.98L432.59,38.88L432.64,40.49L432.7,42.45L432.75,44.39L432.81,45.96L432.87,46.78L432.92,46.51L432.98,44.89L433.04,42.17L433.09,38.75L433.15,34.98L433.21,31.26L433.26,27.97L433.32,25.48L433.37,24.19L433.43,24.47L433.49,26.62L433.54,30.28L433.6,34.84L433.66,39.66L433.71,44.14L433.77,47.63L433.83,49.52L433.88,49.18L433.94,46.51L433.99,42.2L434.05,37.01L434.11,31.72L434.16,27.09L434.22,23.9L434.28,22.93L434.33,24.87L434.39,29.57L434.44,36.3L434.5,44.32L434.56,52.86L434.61,61.2L434.67,68.57L434.73,74.24L434.78,77.47L434.84,77.91L434.9,76.15L434.95,72.95L435.01,69.06L435.06,65.23L435.12,62.17L435.18,60.01L435.23,58.58L435.29,57.65L435.35,57.02L435.4,56.49L435.46,55.98L435.52,55.45L435.57,54.87L435.63,54.23L435.68,53.5L435.74,52.65L435.8,51.66L435.85,50.49L435.91,49.17L435.97,47.75L436.02,46.3L436.08,44.88L436.13,43.57L436.19,42.41L436.25,41.49L436.3,40.87L436.36,40.61L436.42,40.78L436.47,41.3L436.53,41.9L436.59,42.29L436.64,42.17L436.7,41.25L436.75,39.45L436.81,37.01L436.87,34.22L436.92,31.35L436.98,28.68L437.04,26.48L437.09,25.03L437.15,24.61L437.21,25.49L437.26,27.82L437.32,31.23L437.37,35.23L437.43,39.31L437.49,42.99L437.54,45.76L437.6,47.12L437.66,46.59L437.71,43.78L437.77,39.18L437.83,33.61L437.88,27.89L437.94,22.83L437.99,19.27L438.05,18.03L438.11,19.91L438.16,25.07L438.22,32.66L438.28,41.73L438.33,51.33L438.39,60.52L438.44,68.35L438.5,73.88L438.56,76.2L438.61,75.32L438.67,72.17L438.73,67.71L438.78,62.9L438.84,58.7L438.9,55.64L438.95,53.62L439.01,52.46L439.06,52L439.12,52.06L439.18,52.47L439.23,53.06L439.29,53.64L439.35,54.04L439.4,54.08L439.46,53.58L439.52,52.44L439.57,50.79L439.63,48.78L439.68,46.56L439.74,44.29L439.8,42.13L439.85,40.21L439.91,38.71L439.97,37.77L440.02,37.54L440.08,38.18L440.14,39.64L440.19,41.58L440.25,43.62L440.3,45.4L440.36,46.55L440.42,46.69L440.47,45.49L440.53,43.05L440.59,39.76L440.64,36L440.7,32.16L440.75,28.64L440.81,25.81L440.87,24.07L440.92,23.8L440.98,25.37L441.04,28.66L441.09,33.05L441.15,37.93L441.21,42.65L441.26,46.59L441.32,49.11L441.37,49.58L441.43,47.61L441.49,43.73L441.54,38.73L441.6,33.37L441.66,28.42L441.71,24.67L441.77,22.89L441.83,23.84L441.88,27.73L441.94,33.88L441.99,41.55L442.05,50L442.11,58.49L442.16,66.26L442.22,72.59L442.28,76.71L442.33,78.04L442.39,76.93L442.45,74.13L442.5,70.39L442.56,66.46L442.61,63.08L442.67,60.64L442.73,58.99L442.78,57.91L442.84,57.21L442.9,56.67L442.95,56.15L443.01,55.63L443.06,55.07L443.12,54.46L443.18,53.76L443.23,52.95L443.29,52L443.35,50.9L443.4,49.63L443.46,48.23L443.52,46.78L443.57,45.35L443.63,43.99L443.68,42.78L443.74,41.77L443.8,41.04L443.85,40.65L443.91,40.67L443.97,41.1L444.02,41.71L444.08,42.2L444.14,42.28L444.19,41.66L444.25,40.13L444.3,37.88L444.36,35.17L444.42,32.3L444.47,29.53L444.53,27.14L444.59,25.42L444.64,24.62L444.7,25.03L444.75,26.9L444.81,30.01L444.87,33.86L444.92,37.97L444.98,41.84L445.04,44.97L445.09,46.86L445.15,47.01L445.21,44.96L445.26,40.87L445.32,35.53L445.37,29.76L445.43,24.39L445.49,20.24L445.54,18.14L445.6,18.89L445.66,23.03L445.71,29.92L445.77,38.6L445.83,48.13L445.88,57.56L445.94,65.95L445.99,72.35L446.05,75.82L446.11,75.92L446.16,73.42L446.22,69.28L446.28,64.48L446.33,59.97L446.39,56.54L446.45,54.19L446.5,52.76L446.56,52.08L446.61,51.99L446.67,52.3L446.73,52.85L446.78,53.46L446.84,53.94L446.9,54.12L446.95,53.82L447.01,52.88L447.06,51.38L447.12,49.48L447.18,47.31L447.23,45.05L447.29,42.83L447.35,40.81L447.4,39.16L447.46,38.01L447.52,37.53L447.57,37.87L447.63,39.08L447.68,40.9L447.74,42.95L447.8,44.86L447.85,46.26L447.91,46.78L447.97,46.04L448.02,43.97L448.08,40.92L448.14,37.28L448.19,33.43L448.25,29.75L448.3,26.65L448.36,24.5L448.42,23.7L448.47,24.63L448.53,27.41L448.59,31.5L448.64,36.29L448.7,41.13L448.76,45.4L448.81,48.46L448.87,49.69L448.92,48.52L448.98,45.19L449.04,40.47L449.09,35.15L449.15,29.98L449.21,25.74L449.26,23.22L449.32,23.18L449.37,26.14L449.43,31.62L449.49,38.87L449.54,47.15L449.6,55.7L449.66,63.8L449.71,70.69L449.77,75.63L449.83,77.91L449.88,77.53L449.94,75.21L449.99,71.69L450.05,67.74L450.11,64.1L450.16,61.36L450.22,59.47L450.28,58.22L450.33,57.41L450.39,56.84L450.45,56.32L450.5,55.8L450.56,55.26L450.61,54.67L450.67,54L450.73,53.23L450.78,52.34L450.84,51.29L450.9,50.07L450.95,48.71L451.01,47.27L451.07,45.82L451.12,44.43L451.18,43.16L451.23,42.08L451.29,41.25L451.35,40.74L451.4,40.61L451.46,40.92L451.52,41.51L451.57,42.07L451.63,42.32L451.68,41.96L451.74,40.73L451.8,38.69L451.85,36.11L451.91,33.26L451.97,30.43L452.02,27.88L452.08,25.9L452.14,24.76L452.19,24.74L452.25,26.12L452.3,28.86L452.36,32.52L452.42,36.61L452.47,40.61L452.53,44.04L452.59,46.39L452.64,47.18L452.7,45.9L452.76,42.41L452.81,37.39L452.87,31.68L452.92,26.09L452.98,21.44L453.04,18.56L453.09,18.27L453.15,21.3L453.21,27.38L453.26,35.56L453.32,44.91L453.38,54.48L453.43,63.32L453.49,70.49L453.54,75.05L453.6,76.22L453.66,74.48L453.71,70.78L453.77,66.1L453.83,61.38L453.88,57.55L453.94,54.86L453.99,53.15L454.05,52.24L454.11,51.97L454.16,52.16L454.22,52.65L454.28,53.26L454.33,53.8L454.39,54.1L454.45,53.98L454.5,53.26L454.56,51.94L454.61,50.15L454.67,48.05L454.73,45.8L454.78,43.55L454.84,41.45L454.9,39.66L454.95,38.33L455.01,37.61L455.07,37.65L455.12,38.59L455.18,40.25L455.23,42.27L455.29,44.27L455.35,45.87L455.4,46.72L455.46,46.45L455.52,44.79L455.57,42.03L455.63,38.54L455.68,34.71L455.74,30.93L455.8,27.6L455.85,25.09L455.91,23.79L455.97,24.1L456.02,26.3L456.08,30.03L456.14,34.66L456.19,39.55L456.25,44.08L456.3,47.62L456.36,49.52L456.42,49.18L456.47,46.49L456.53,42.15L456.59,36.94L456.64,31.63L456.7,27L456.76,23.82L456.81,22.87L456.87,24.84L456.92,29.56L456.98,36.3L457.04,44.32L457.09,52.86L457.15,61.2L457.21,68.57L457.26,74.24L457.32,77.47L457.38,77.91L457.43,76.15L457.49,72.95L457.54,69.06L457.6,65.23L457.66,62.17L457.71,60.01L457.77,58.58L457.83,57.65L457.88,57.02L457.94,56.49L457.99,55.98L458.05,55.45L458.11,54.87L458.16,54.23L458.22,53.5L458.28,52.65L458.33,51.66L458.39,50.49L458.45,49.17L458.5,47.75L458.56,46.3L458.61,44.88L458.67,43.57L458.73,42.41L458.78,41.49L458.84,40.87L458.9,40.61L458.95,40.78L459.01,41.3L459.07,41.9L459.12,42.29L459.18,42.17L459.23,41.25L459.29,39.45L459.35,37.01L459.4,34.22L459.46,31.35L459.52,28.68L459.57,26.48L459.63,25.03L459.69,24.61L459.74,25.49L459.8,27.82L459.85,31.23L459.91,35.23L459.97,39.31L460.02,42.99L460.08,45.76L460.14,47.12L460.19,46.59L460.25,43.78L460.3,39.18L460.36,33.61L460.42,27.89L460.47,22.83L460.53,19.27L460.59,18.03L460.64,19.91L460.7,25.07L460.76,32.66L460.81,41.73L460.87,51.33L460.92,60.52L460.98,68.35L461.04,73.88L461.09,76.2L461.15,75.32L461.21,72.17L461.26,67.71L461.32,62.9L461.38,58.7L461.43,55.64L461.49,53.62L461.54,52.46L461.6,52L461.66,52.05L461.71,52.47L461.77,53.06L461.83,53.64L461.88,54.04L461.94,54.08L462,53.58L462.05,52.44L462.11,50.79L462.16,48.78L462.22,46.56L462.28,44.29L462.33,42.13L462.39,40.21L462.45,38.71L462.5,37.77L462.56,37.54L462.61,38.18L462.67,39.64L462.73,41.58L462.78,43.62L462.84,45.4L462.9,46.55L462.95,46.69L463.01,45.49L463.07,43.05L463.12,39.76L463.18,36L463.23,32.16L463.29,28.64L463.35,25.81L463.4,24.07L463.46,23.8L463.52,25.37L463.57,28.66L463.63,33.05L463.69,37.93L463.74,42.65L463.8,46.59L463.85,49.11L463.91,49.58L463.97,47.61L464.02,43.73L464.08,38.73L464.14,33.37L464.19,28.42L464.25,24.67L464.3,22.89L464.36,23.84L464.42,27.73L464.47,33.88L464.53,41.55L464.59,50L464.64,58.49L464.7,66.26L464.76,72.59L464.81,76.71L464.87,78.04L464.92,76.93L464.98,74.13L465.04,70.39L465.09,66.46L465.15,63.08L465.21,60.64L465.26,58.99L465.32,57.91L465.38,57.21L465.43,56.67L465.49,56.15L465.54,55.63L465.6,55.07L465.66,54.46L465.71,53.76L465.77,52.95L465.83,52L465.88,50.9L465.94,49.63L466,48.23L466.05,46.78L466.11,45.35L466.16,43.99L466.22,42.78L466.28,41.77L466.33,41.04L466.39,40.65L466.45,40.67L466.5,41.1L466.56,41.71L466.61,42.2L466.67,42.28L466.73,41.66L466.78,40.13L466.84,37.88L466.9,35.17L466.95,32.3L467.01,29.53L467.07,27.14L467.12,25.42L467.18,24.62L467.23,25.03L467.29,26.9L467.35,30.01L467.4,33.86L467.46,37.97L467.52,41.84L467.57,44.97L467.63,46.86L467.69,47.01L467.74,44.96L467.8,40.87L467.85,35.53L467.91,29.76L467.97,24.39L468.02,20.24L468.08,18.14L468.14,18.89L468.19,23.03L468.25,29.92L468.31,38.6L468.36,48.13L468.42,57.56L468.47,65.95L468.53,72.35L468.59,75.82L468.64,75.92L468.7,73.42L468.76,69.28L468.81,64.48L468.87,59.97L468.92,56.54L468.98,54.19L469.04,52.76L469.09,52.08L469.15,51.99L469.21,52.3L469.26,52.85L469.32,53.46L469.38,53.94L469.43,54.12L469.49,53.82L469.54,52.88L469.6,51.38L469.66,49.48L469.71,47.31L469.77,45.05L469.83,42.83L469.88,40.81L469.94,39.16L470,38.01L470.05,37.53L470.11,37.87L470.16,39.08L470.22,40.9L470.28,42.95L470.33,44.86L470.39,46.26L470.45,46.78L470.5,46.04L470.56,43.97L470.62,40.92L470.67,37.28L470.73,33.43L470.78,29.75L470.84,26.65L470.9,24.5L470.95,23.7L471.01,24.63L471.07,27.41L471.12,31.5L471.18,36.29L471.23,41.13L471.29,45.4L471.35,48.46L471.4,49.69L471.46,48.52L471.52,45.19L471.57,40.47L471.63,35.15L471.69,29.98L471.74,25.74L471.8,23.22L471.85,23.18L471.91,26.14L471.97,31.62L472.02,38.87L472.08,47.15L472.14,55.7L472.19,63.8L472.25,70.69L472.31,75.63L472.36,77.91L472.42,77.53L472.47,75.21L472.53,71.69L472.59,67.74L472.64,64.1L472.7,61.36L472.76,59.47L472.81,58.22L472.87,57.41L472.93,56.84L472.98,56.32L473.04,55.8L473.09,55.26L473.15,54.67L473.21,54L473.26,53.23L473.32,52.34L473.38,51.29L473.43,50.07L473.49,48.71L473.54,47.27L473.6,45.82L473.66,44.43L473.71,43.16L473.77,42.08L473.83,41.25L473.88,40.74L473.94,40.61L474,40.92L474.05,41.51L474.11,42.07L474.16,42.32L474.22,41.96L474.28,40.73L474.33,38.69L474.39,36.11L474.45,33.26L474.5,30.43L474.56,27.88L474.62,25.9L474.67,24.76L474.73,24.74L474.78,26.12L474.84,28.86L474.9,32.52L474.95,36.61L475.01,40.61L475.07,44.04L475.12,46.39L475.18,47.18L475.23,45.9L475.29,42.41L475.35,37.39L475.4,31.68L475.46,26.09L475.52,21.44L475.57,18.56L475.63,18.27L475.69,21.3L475.74,27.38L475.8,35.56L475.85,44.91L475.91,54.48L475.97,63.32L476.02,70.49L476.08,75.05L476.14,76.22L476.19,74.48L476.25,70.78L476.31,66.1L476.36,61.38L476.42,57.55L476.47,54.86L476.53,53.15L476.59,52.24L476.64,51.97L476.7,52.16L476.76,52.65L476.81,53.26L476.87,53.8L476.93,54.1L476.98,53.98L477.04,53.26L477.09,51.94L477.15,50.15L477.21,48.05L477.26,45.8L477.32,43.55L477.38,41.45L477.43,39.66L477.49,38.33L477.54,37.61L477.6,37.65L477.66,38.59L477.71,40.25L477.77,42.27L477.83,44.27L477.88,45.87L477.94,46.72L478,46.44L478.05,44.79L478.11,42.03L478.16,38.54L478.22,34.71L478.28,30.93L478.33,27.6L478.39,25.09L478.45,23.79L478.5,24.1L478.56,26.3L478.62,30.03L478.67,34.66L478.73,39.55L478.78,44.08L478.84,47.62L478.9,49.52L478.95,49.18L479.01,46.49L479.07,42.15L479.12,36.94L479.18,31.63L479.24,27L479.29,23.82L479.35,22.87L479.4,24.84L479.46,29.56L479.52,36.3L479.57,44.32L479.63,52.86L479.69,61.2L479.74,68.57L479.8,74.24L479.85,77.47L479.91,77.91L479.97,76.15L480.02,72.95L480.08,69.06L480.14,65.23L480.19,62.17L480.25,60.01L480.31,58.58L480.36,57.65L480.42,57.02L480.47,56.49L480.53,55.98L480.59,55.45L480.64,54.87L480.7,54.23L480.76,53.5L480.81,52.65L480.87,51.66L480.93,50.49L480.98,49.17L481.04,47.75L481.09,46.3L481.15,44.88L481.21,43.57L481.26,42.41L481.32,41.49L481.38,40.87L481.43,40.61L481.49,40.78L481.55,41.3L481.6,41.9L481.66,42.29L481.71,42.17L481.77,41.25L481.83,39.45L481.88,37.01L481.94,34.22L482,31.35L482.05,28.68L482.11,26.48L482.16,25.03L482.22,24.61L482.28,25.49L482.33,27.82L482.39,31.23L482.45,35.23L482.5,39.31L482.56,42.99L482.62,45.76L482.67,47.12L482.73,46.59L482.78,43.78L482.84,39.18L482.9,33.61L482.95,27.89L483.01,22.83L483.07,19.27L483.12,18.03L483.18,19.91L483.24,25.07L483.29,32.66L483.35,41.73L483.4,51.33L483.46,60.52L483.52,68.35L483.57,73.88L483.63,76.2L483.69,75.32L483.74,72.17L483.8,67.71L483.85,62.9L483.91,58.7L483.97,55.64L484.02,53.62L484.08,52.46L484.14,52L484.19,52.06L484.25,52.47L484.31,53.06L484.36,53.64L484.42,54.04L484.47,54.08L484.53,53.58L484.59,52.44L484.64,50.79L484.7,48.78L484.76,46.56L484.81,44.29L484.87,42.13L484.93,40.21L484.98,38.71L485.04,37.77L485.09,37.54L485.15,38.18L485.21,39.64L485.26,41.58L485.32,43.62L485.38,45.4L485.43,46.55L485.49,46.69L485.55,45.49L485.6,43.05L485.66,39.76L485.71,36L485.77,32.16L485.83,28.64L485.88,25.81L485.94,24.07L486,23.8L486.05,25.37L486.11,28.66L486.16,33.05L486.22,37.93L486.28,42.65L486.33,46.59L486.39,49.11L486.45,49.58L486.5,47.61L486.56,43.73L486.62,38.73L486.67,33.37L486.73,28.42L486.78,24.67L486.84,22.89L486.9,23.84L486.95,27.73L487.01,33.88L487.07,41.55L487.12,50L487.18,58.49L487.24,66.26L487.29,72.59L487.35,76.71L487.4,78.04L487.46,76.93L487.52,74.13L487.57,70.39L487.63,66.46L487.69,63.08L487.74,60.64L487.8,58.99L487.86,57.91L487.91,57.21L487.97,56.67L488.02,56.15L488.08,55.63L488.14,55.07L488.19,54.46L488.25,53.76L488.31,52.95L488.36,52L488.42,50.9L488.47,49.63L488.53,48.23L488.59,46.78L488.64,45.35L488.7,43.99L488.76,42.78L488.81,41.77L488.87,41.04L488.93,40.65L488.98,40.67L489.04,41.1L489.09,41.71L489.15,42.2L489.21,42.28L489.26,41.66L489.32,40.13L489.38,37.88L489.43,35.17L489.49,32.3L489.55,29.53L489.6,27.14L489.66,25.42L489.71,24.62L489.77,25.03L489.83,26.9L489.88,30.01L489.94,33.86L490,37.97L490.05,41.84L490.11,44.97L490.17,46.86L490.22,47.01L490.28,44.96L490.33,40.87L490.39,35.53L490.45,29.76L490.5,24.39L490.56,20.24L490.62,18.14L490.67,18.89L490.73,23.03L490.78,29.92L490.84,38.6L490.9,48.13L490.95,57.56L491.01,65.95L491.07,72.35L491.12,75.82L491.18,75.92L491.24,73.42L491.29,69.28L491.35,64.48L491.4,59.98L491.46,56.54L491.52,54.19L491.57,52.76L491.63,52.08L491.69,51.99L491.74,52.3L491.8,52.85L491.86,53.46L491.91,53.94L491.97,54.12L492.02,53.82L492.08,52.88L492.14,51.38L492.19,49.48L492.25,47.31L492.31,45.05L492.36,42.83L492.42,40.81L492.47,39.16L492.53,38.01L492.59,37.53L492.64,37.86L492.7,39.08L492.76,40.9L492.81,42.95L492.87,44.86L492.93,46.26L492.98,46.78L493.04,46.04L493.09,43.97L493.15,40.92L493.21,37.28L493.26,33.43L493.32,29.75L493.38,26.65L493.43,24.5L493.49,23.7L493.55,24.63L493.6,27.41L493.66,31.5L493.71,36.29L493.77,41.13L493.83,45.4L493.88,48.46L493.94,49.69L494,48.52L494.05,45.19L494.11,40.47L494.17,35.15L494.22,29.98L494.28,25.74L494.33,23.22L494.39,23.18L494.45,26.14L494.5,31.62L494.56,38.87L494.62,47.15L494.67,55.7L494.73,63.8L494.78,70.69L494.84,75.63L494.9,77.91L494.95,77.53L495.01,75.21L495.07,71.69L495.12,67.74L495.18,64.1L495.24,61.36L495.29,59.47L495.35,58.22L495.4,57.41L495.46,56.84L495.52,56.32L495.57,55.8L495.63,55.26L495.69,54.67L495.74,54L495.8,53.23L495.86,52.34L495.91,51.29L495.97,50.07L496.02,48.71L496.08,47.27L496.14,45.82L496.19,44.43L496.25,43.16L496.31,42.08L496.36,41.25L496.42,40.74L496.48,40.61L496.53,40.92L496.59,41.51L496.64,42.07L496.7,42.32L496.76,41.96L496.81,40.73L496.87,38.69L496.93,36.11L496.98,33.26L497.04,30.43L497.09,27.88L497.15,25.9L497.21,24.76L497.26,24.74L497.32,26.12L497.38,28.86L497.43,32.52L497.49,36.61L497.55,40.61L497.6,44.04L497.66,46.39L497.71,47.18L497.77,45.9L497.83,42.41L497.88,37.39L497.94,31.68L498,26.09L498.05,21.44L498.11,18.56L498.17,18.27L498.22,21.3L498.28,27.38L498.33,35.56L498.39,44.91L498.45,54.48L498.5,63.32L498.56,70.49L498.62,75.05L498.67,76.22L498.73,74.48L498.79,70.78L498.84,66.1L498.9,61.38L498.95,57.55L499.01,54.86L499.07,53.15L499.12,52.24L499.18,51.97L499.24,52.16L499.29,52.65L499.35,53.26L499.4,53.8L499.46,54.1L499.52,53.98L499.57,53.26L499.63,51.94L499.69,50.15L499.74,48.05L499.8,45.8L499.86,43.55L499.91,41.45L499.97,39.66L500.02,38.33L500.08,37.61L500.14,37.65L500.19,38.59L500.25,40.25L500.31,42.27L500.36,44.27L500.42,45.87L500.48,46.72L500.53,46.45L500.59,44.79L500.64,42.03L500.7,38.54L500.76,34.71L500.81,30.93L500.87,27.6L500.93,25.09L500.98,23.79L501.04,24.1L501.1,26.3L501.15,30.03L501.21,34.66L501.26,39.55L501.32,44.08L501.38,47.62L501.43,49.52L501.49,49.18L501.55,46.49L501.6,42.15L501.66,36.94L501.71,31.63L501.77,27L501.83,23.82L501.88,22.87L501.94,24.84L502,29.56L502.05,36.3L502.11,44.32L502.17,52.86L502.22,61.2L502.28,68.57L502.33,74.24L502.39,77.47L502.45,77.91L502.5,76.15L502.56,72.95L502.62,69.06L502.67,65.23L502.73,62.17L502.79,60.01L502.84,58.58L502.9,57.65L502.95,57.02L503.01,56.49L503.07,55.98L503.12,55.45L503.18,54.87L503.24,54.23L503.29,53.5L503.35,52.65L503.4,51.66L503.46,50.49L503.52,49.17L503.57,47.75L503.63,46.3L503.69,44.88L503.74,43.57L503.8,42.41L503.86,41.49L503.91,40.87L503.97,40.61L504.02,40.78L504.08,41.3L504.14,41.9L504.19,42.29L504.25,42.17L504.31,41.25L504.36,39.45L504.42,37.01L504.48,34.22L504.53,31.35L504.59,28.68L504.64,26.48L504.7,25.03L504.76,24.61L504.81,25.49L504.87,27.82L504.93,31.23L504.98,35.23L505.04,39.31L505.1,42.99L505.15,45.76L505.21,47.12L505.26,46.59L505.32,43.78L505.38,39.18L505.43,33.61L505.49,27.89L505.55,22.83L505.6,19.27L505.66,18.03L505.71,19.91L505.77,25.07L505.83,32.66L505.88,41.73L505.94,51.33L506,60.52L506.05,68.35L506.11,73.88L506.17,76.2L506.22,75.32L506.28,72.17L506.33,67.71L506.39,62.9L506.45,58.7L506.5,55.64L506.56,53.62L506.62,52.46L506.67,52L506.73,52.05L506.79,52.47L506.84,53.06L506.9,53.64L506.95,54.04L507.01,54.08L507.07,53.58L507.12,52.44L507.18,50.79L507.24,48.78L507.29,46.56L507.35,44.29L507.41,42.13L507.46,40.21L507.52,38.71L507.57,37.77L507.63,37.54L507.69,38.18L507.74,39.64L507.8,41.58L507.86,43.62L507.91,45.4L507.97,46.55L508.02,46.69L508.08,45.49L508.14,43.05L508.19,39.76L508.25,36L508.31,32.16L508.36,28.64L508.42,25.81L508.48,24.07L508.53,23.8L508.59,25.37L508.64,28.66L508.7,33.05L508.76,37.93L508.81,42.65L508.87,46.59L508.93,49.11L508.98,49.58L509.04,47.61L509.1,43.73L509.15,38.73L509.21,33.37L509.26,28.42L509.32,24.67L509.38,22.89L509.43,23.84L509.49,27.73L509.55,33.88L509.6,41.55L509.66,50L509.72,58.49L509.77,66.26L509.83,72.59L509.88,76.71L509.94,78.04L510,76.93L510.05,74.13L510.11,70.39L510.17,66.46L510.22,63.08L510.28,60.64L510.33,58.99L510.39,57.91L510.45,57.21L510.5,56.67L510.56,56.15L510.62,55.63L510.67,55.07L510.73,54.46L510.79,53.76L510.84,52.95L510.9,52L510.95,50.9L511.01,49.63L511.07,48.23L511.12,46.78L511.18,45.35L511.24,43.99L511.29,42.78L511.35,41.77L511.41,41.04L511.46,40.65L511.52,40.67L511.57,41.1L511.63,41.71L511.69,42.2L511.74,42.28L511.8,41.66L511.86,40.13L511.91,37.88L511.97,35.17L512.02,32.3L512.08,29.53L512.14,27.14L512.19,25.42L512.25,24.62L512.31,25.03L512.36,26.9L512.42,30.01L512.48,33.86L512.53,37.97L512.59,41.84L512.64,44.97L512.7,46.86L512.76,47.01L512.81,44.96L512.87,40.87L512.93,35.53L512.98,29.76L513.04,24.39L513.1,20.24L513.15,18.14L513.21,18.89L513.26,23.03L513.32,29.92L513.38,38.6L513.43,48.13L513.49,57.56L513.55,65.95L513.6,72.35L513.66,75.82L513.72,75.92L513.77,73.42L513.83,69.28L513.88,64.48L513.94,59.97L514,56.54L514.05,54.19L514.11,52.76L514.17,52.08L514.22,51.99L514.28,52.3L514.33,52.85L514.39,53.46L514.45,53.94L514.5,54.12L514.56,53.82L514.62,52.88L514.67,51.38L514.73,49.48L514.79,47.31L514.84,45.05L514.9,42.83L514.95,40.81L515.01,39.16L515.07,38.01L515.12,37.53L515.18,37.86L515.24,39.08L515.29,40.9L515.35,42.95L515.41,44.86L515.46,46.26L515.52,46.78L515.57,46.04L515.63,43.97L515.69,40.92L515.74,37.28L515.8,33.43L515.86,29.75L515.91,26.65L515.97,24.5L516.03,23.7L516.08,24.63L516.14,27.41L516.19,31.5L516.25,36.29L516.31,41.13L516.36,45.4L516.42,48.46L516.48,49.69L516.53,48.52L516.59,45.19L516.64,40.47L516.7,35.15L516.76,29.98L516.81,25.74L516.87,23.22L516.93,23.18L516.98,26.14L517.04,31.62L517.1,38.87L517.15,47.15L517.21,55.7L517.26,63.8L517.32,70.69L517.38,75.63L517.43,77.91L517.49,77.53L517.55,75.21L517.6,71.69L517.66,67.74L517.72,64.1L517.77,61.36L517.83,59.47L517.88,58.22L517.94,57.41L518,56.84L518.05,56.32L518.11,55.8L518.17,55.26L518.22,54.67L518.28,54L518.34,53.23L518.39,52.34L518.45,51.29L518.5,50.07L518.56,48.71L518.62,47.27L518.67,45.82L518.73,44.43L518.79,43.16L518.84,42.08L518.9,41.25L518.95,40.74L519.01,40.61L519.07,40.92L519.12,41.51L519.18,42.07L519.24,42.32L519.29,41.96L519.35,40.73L519.41,38.69L519.46,36.11L519.52,33.26L519.57,30.43L519.63,27.88L519.69,25.9L519.74,24.76L519.8,24.74L519.86,26.12L519.91,28.86L519.97,32.52L520.03,36.61L520.08,40.61L520.14,44.04L520.19,46.39L520.25,47.18L520.31,45.9L520.36,42.41L520.42,37.39L520.48,31.68L520.53,26.09L520.59,21.44L520.64,18.56L520.7,18.27L520.76,21.3L520.81,27.38L520.87,35.56L520.93,44.91L520.98,54.48L521.04,63.32L521.1,70.49L521.15,75.05L521.21,76.22L521.26,74.48L521.32,70.78L521.38,66.1L521.43,61.38L521.49,57.55L521.55,54.86L521.6,53.15L521.66,52.24L521.72,51.97L521.77,52.16L521.83,52.65L521.88,53.26L521.94,53.8L522,54.1L522.05,53.98L522.11,53.26L522.17,51.94L522.22,50.15L522.28,48.05L522.34,45.8L522.39,43.55L522.45,41.45L522.5,39.66L522.56,38.33L522.62,37.61L522.67,37.65L522.73,38.59L522.79,40.25L522.84,42.27L522.9,44.27L522.95,45.87L523.01,46.72L523.07,46.45L523.12,44.79L523.18,42.03L523.24,38.54L523.29,34.71L523.35,30.93L523.41,27.6L523.46,25.09L523.52,23.79L523.57,24.1L523.63,26.3L523.69,30.03L523.74,34.66L523.8,39.55L523.86,44.08L523.91,47.62L523.97,49.52L524.03,49.18L524.08,46.49L524.14,42.15L524.19,36.94L524.25,31.63L524.31,27L524.36,23.82L524.42,22.87L524.48,24.84L524.53,29.56L524.59,36.3L524.65,44.32L524.7,52.86L524.76,61.2L524.81,68.57L524.87,74.24L524.93,77.47L524.98,77.91L525.04,76.15L525.1,72.95L525.15,69.06L525.21,65.23L525.26,62.17L525.32,60.01L525.38,58.58L525.43,57.65L525.49,57.02L525.55,56.49L525.6,55.98L525.66,55.45L525.72,54.87L525.77,54.23L525.83,53.5L525.88,52.65L525.94,51.66L526,50.49L526.05,49.17L526.11,47.75L526.17,46.3L526.22,44.88L526.28,43.57L526.34,42.41L526.39,41.49L526.45,40.87L526.5,40.61L526.56,40.78L526.62,41.3L526.67,41.9L526.73,42.29L526.79,42.17L526.84,41.25L526.9,39.45L526.96,37.01L527.01,34.22L527.07,31.35L527.12,28.68L527.18,26.48L527.24,25.03L527.29,24.61L527.35,25.49L527.41,27.82L527.46,31.23L527.52,35.23L527.57,39.31L527.63,42.99L527.69,45.76L527.74,47.12L527.8,46.59L527.86,43.78L527.91,39.18L527.97,33.61L528.03,27.89L528.08,22.83L528.14,19.27L528.19,18.03L528.25,19.91L528.31,25.07L528.36,32.66L528.42,41.73L528.48,51.33L528.53,60.52L528.59,68.35L528.65,73.88L528.7,76.2L528.76,75.32L528.81,72.17L528.87,67.71L528.93,62.9L528.98,58.7L529.04,55.64L529.1,53.62L529.15,52.46L529.21,52L529.26,52.05L529.32,52.47L529.38,53.06L529.43,53.64L529.49,54.04L529.55,54.08L529.6,53.58L529.66,52.44L529.72,50.79L529.77,48.78L529.83,46.56L529.88,44.29L529.94,42.13L530,40.21L530.05,38.71L530.11,37.77L530.17,37.54L530.22,38.18L530.28,39.64L530.34,41.58L530.39,43.62L530.45,45.4L530.5,46.55L530.56,46.69L530.62,45.49L530.67,43.05L530.73,39.76L530.79,36L530.84,32.16L530.9,28.64L530.96,25.81L531.01,24.07L531.07,23.8L531.12,25.37L531.18,28.66L531.24,33.05L531.29,37.93L531.35,42.65L531.41,46.59L531.46,49.11L531.52,49.58L531.57,47.61L531.63,43.73L531.69,38.73L531.74,33.37L531.8,28.42L531.86,24.67L531.91,22.89L531.97,23.84L532.03,27.73L532.08,33.88L532.14,41.55L532.19,50L532.25,58.49L532.31,66.26L532.36,72.59L532.42,76.71L532.48,78.04L532.53,76.93L532.59,74.13L532.65,70.39L532.7,66.46L532.76,63.08L532.81,60.64L532.87,58.99L532.93,57.91L532.98,57.21L533.04,56.67L533.1,56.15L533.15,55.63L533.21,55.07L533.27,54.46L533.32,53.76L533.38,52.95L533.43,52L533.49,50.9L533.55,49.63L533.6,48.23L533.66,46.78L533.72,45.35L533.77,43.99L533.83,42.78L533.88,41.77L533.94,41.04L534,40.65L534.05,40.67L534.11,41.1L534.17,41.71L534.22,42.2L534.28,42.28L534.34,41.66L534.39,40.13L534.45,37.88L534.5,35.17L534.56,32.3L534.62,29.53L534.67,27.14L534.73,25.42L534.79,24.62L534.84,25.03L534.9,26.9L534.96,30.01L535.01,33.86L535.07,37.97L535.12,41.84L535.18,44.97L535.24,46.86L535.29,47.01L535.35,44.96L535.41,40.87L535.46,35.53L535.52,29.76L535.58,24.39L535.63,20.24L535.69,18.14L535.74,18.89L535.8,23.03L535.86,29.92L535.91,38.6L535.97,48.13L536.03,57.56L536.08,65.95L536.14,72.35L536.19,75.82L536.25,75.92L536.31,73.42L536.36,69.28L536.42,64.48L536.48,59.97L536.53,56.54L536.59,54.19L536.65,52.76L536.7,52.08L536.76,51.99L536.81,52.3L536.87,52.85L536.93,53.46L536.98,53.94L537.04,54.12L537.1,53.82L537.15,52.88L537.21,51.38L537.27,49.48L537.32,47.31L537.38,45.05L537.43,42.83L537.49,40.81L537.55,39.16L537.6,38.01L537.66,37.53L537.72,37.87L537.77,39.08L537.83,40.9L537.89,42.95L537.94,44.86L538,46.26L538.05,46.78L538.11,46.04L538.17,43.97L538.22,40.92L538.28,37.28L538.34,33.43L538.39,29.75L538.45,26.65L538.5,24.5L538.56,23.7L538.62,24.63L538.67,27.41L538.73,31.5L538.79,36.29L538.84,41.13L538.9,45.4L538.96,48.46L539.01,49.69L539.07,48.52L539.12,45.19L539.18,40.47L539.24,35.15L539.29,29.98L539.35,25.74L539.41,23.22L539.46,23.18L539.52,26.14L539.58,31.62L539.63,38.87L539.69,47.15L539.74,55.7L539.8,63.8L539.86,70.69L539.91,75.63L539.97,77.91L540.03,77.53L540.08,75.21L540.14,71.69L540.19,67.74L540.25,64.1L540.31,61.36L540.36,59.47L540.42,58.22L540.48,57.41L540.53,56.84L540.59,56.32L540.65,55.8L540.7,55.26L540.76,54.67L540.81,54L540.87,53.23L540.93,52.34L540.98,51.29L541.04,50.07L541.1,48.71L541.15,47.27L541.21,45.82L541.27,44.43L541.32,43.16L541.38,42.08L541.43,41.25L541.49,40.74L541.55,40.61L541.6,40.92L541.66,41.51L541.72,42.07L541.77,42.32L541.83,41.96L541.89,40.73L541.94,38.69L542,36.11L542.05,33.26L542.11,30.43L542.17,27.88L542.22,25.9L542.28,24.76L542.34,24.74L542.39,26.12L542.45,28.86L542.5,32.52L542.56,36.61L542.62,40.61L542.67,44.04L542.73,46.39L542.79,47.18L542.84,45.9L542.9,42.41L542.96,37.39L543.01,31.68L543.07,26.09L543.12,21.44L543.18,18.56L543.24,18.27L543.29,21.3L543.35,27.38L543.41,35.56L543.46,44.91L543.52,54.48L543.58,63.32L543.63,70.49L543.69,75.05L543.74,76.22L543.8,74.48L543.86,70.78L543.91,66.1L543.97,61.38L544.03,57.55L544.08,54.86L544.14,53.15L544.2,52.24L544.25,51.97L544.31,52.16L544.36,52.65L544.42,53.26L544.48,53.8L544.53,54.1L544.59,53.98L544.65,53.26L544.7,51.94L544.76,50.15L544.81,48.05L544.87,45.8L544.93,43.55L544.98,41.45L545.04,39.66L545.1,38.33L545.15,37.61L545.21,37.65L545.27,38.59L545.32,40.25L545.38,42.27L545.43,44.27L545.49,45.87L545.55,46.72L545.6,46.45L545.66,44.79L545.72,42.03L545.77,38.54L545.83,34.71L545.89,30.93L545.94,27.6L546,25.09L546.05,23.79L546.11,24.1L546.17,26.3L546.22,30.03L546.28,34.66L546.34,39.55L546.39,44.08L546.45,47.62L546.51,49.52L546.56,49.18L546.62,46.49L546.67,42.15L546.73,36.94L546.79,31.63L546.84,27L546.9,23.82L546.96,22.87L547.01,24.84L547.07,29.56L547.12,36.3L547.18,44.32L547.24,52.86L547.29,61.2L547.35,68.57L547.41,74.24L547.46,77.47L547.52,77.91L547.58,76.15L547.63,72.95L547.69,69.06L547.74,65.23L547.8,62.17L547.86,60.01L547.91,58.58L547.97,57.65L548.03,57.02L548.08,56.49L548.14,55.98L548.2,55.45L548.25,54.87L548.31,54.23L548.36,53.5L548.42,52.65L548.48,51.66L548.53,50.49L548.59,49.17L548.65,47.75L548.7,46.3L548.76,44.88L548.81,43.57L548.87,42.41L548.93,41.49L548.98,40.87L549.04,40.61L549.1,40.78L549.15,41.3L549.21,41.9L549.27,42.29L549.32,42.17L549.38,41.25L549.43,39.45L549.49,37.01L549.55,34.22L549.6,31.35L549.66,28.68L549.72,26.48L549.77,25.03L549.83,24.61L549.89,25.49L549.94,27.82L550,31.23L550.05,35.23L550.11,39.31L550.17,42.99L550.22,45.76L550.28,47.12L550.34,46.59L550.39,43.78L550.45,39.18L550.51,33.61L550.56,27.89L550.62,22.83L550.67,19.27L550.73,18.03L550.79,19.91L550.84,25.07L550.9,32.66L550.96,41.73L551.01,51.33L551.07,60.52L551.12,68.35L551.18,73.88L551.24,76.2L551.29,75.32L551.35,72.17L551.41,67.71L551.46,62.9L551.52,58.7L551.58,55.64L551.63,53.62L551.69,52.46L551.74,52L551.8,52.05L551.86,52.47L551.91,53.06L551.97,53.64L552.03,54.04L552.08,54.08L552.14,53.58L552.2,52.44L552.25,50.79L552.31,48.78L552.36,46.56L552.42,44.29L552.48,42.13L552.53,40.21L552.59,38.71L552.65,37.77L552.7,37.54L552.76,38.18L552.82,39.64L552.87,41.58L552.93,43.62L552.98,45.4L553.04,46.55L553.1,46.69L553.15,45.49L553.21,43.05L553.27,39.76L553.32,36L553.38,32.16L553.43,28.64L553.49,25.81L553.55,24.07L553.6,23.8L553.66,25.37L553.72,28.66L553.77,33.05L553.83,37.93L553.89,42.65L553.94,46.59L554,49.11L554.05,49.58L554.11,47.61L554.17,43.73L554.22,38.73L554.28,33.37L554.34,28.42L554.39,24.67L554.45,22.89L554.51,23.84L554.56,27.73L554.62,33.88L554.67,41.55L554.73,50L554.79,58.49L554.84,66.26L554.9,72.59L554.96,76.71L555.01,78.04L555.07,76.93L555.13,74.13L555.18,70.39L555.24,66.46L555.29,63.08L555.35,60.64L555.41,58.99L555.46,57.91L555.52,57.21L555.58,56.67L555.63,56.15L555.69,55.63L555.74,55.07L555.8,54.46L555.86,53.76L555.91,52.95L555.97,52L556.03,50.9L556.08,49.63L556.14,48.23L556.2,46.78L556.25,45.35L556.31,43.99L556.36,42.78L556.42,41.77L556.48,41.04L556.53,40.65L556.59,40.67L556.65,41.1L556.7,41.71L556.76,42.2L556.82,42.28L556.87,41.66L556.93,40.13L556.98,37.88L557.04,35.17L557.1,32.3L557.15,29.53L557.21,27.14L557.27,25.42L557.32,24.62L557.38,25.03L557.43,26.9L557.49,30.01L557.55,33.86L557.6,37.97L557.66,41.84L557.72,44.97L557.77,46.86L557.83,47.01L557.89,44.96L557.94,40.87L558,35.53L558.05,29.76L558.11,24.39L558.17,20.24L558.22,18.14L558.28,18.89L558.34,23.03L558.39,29.92L558.45,38.6L558.51,48.13L558.56,57.56L558.62,65.95L558.67,72.35L558.73,75.82L558.79,75.92L558.84,73.42L558.9,69.28L558.96,64.48L559.01,59.98L559.07,56.54L559.13,54.19L559.18,52.76L559.24,52.08L559.29,51.99L559.35,52.3L559.41,52.85L559.46,53.46L559.52,53.94L559.58,54.12L559.63,53.82L559.69,52.88L559.74,51.38L559.8,49.48L559.86,47.31L559.91,45.05L559.97,42.83L560.03,40.81L560.08,39.16L560.14,38.01L560.2,37.53L560.25,37.87L560.31,39.08L560.36,40.9L560.42,42.95L560.48,44.86L560.53,46.26L560.59,46.78L560.65,46.04L560.7,43.97L560.76,40.92L560.82,37.28L560.87,33.43L560.93,29.75L560.98,26.65L561.04,24.5L561.1,23.7L561.15,24.63L561.21,27.41L561.27,31.5L561.32,36.29L561.38,41.13L561.44,45.4L561.49,48.46L561.55,49.69L561.6,48.52L561.66,45.19L561.72,40.47L561.77,35.15L561.83,29.98L561.89,25.74L561.94,23.22L562,23.18L562.05,26.14L562.11,31.62L562.17,38.87L562.22,47.15L562.28,55.7L562.34,63.8L562.39,70.69L562.45,75.63L562.51,77.91L562.56,77.53L562.62,75.21L562.67,71.69L562.73,67.74L562.79,64.1L562.84,61.36L562.9,59.47L562.96,58.22L563.01,57.41L563.07,56.84L563.13,56.32L563.18,55.8L563.24,55.26L563.29,54.67L563.35,54L563.41,53.23L563.46,52.34L563.52,51.29L563.58,50.07L563.63,48.71L563.69,47.27L563.75,45.82L563.8,44.43L563.86,43.16L563.91,42.08L563.97,41.25L564.03,40.74L564.08,40.61L564.14,40.92L564.2,41.51L564.25,42.07L564.31,42.32L564.36,41.96L564.42,40.73L564.48,38.69L564.53,36.11L564.59,33.26L564.65,30.43L564.7,27.88L564.76,25.9L564.82,24.76L564.87,24.74L564.93,26.12L564.98,28.86L565.04,32.52L565.1,36.61L565.15,40.61L565.21,44.04L565.27,46.39L565.32,47.18L565.38,45.9L565.44,42.41L565.49,37.39L565.55,31.68L565.6,26.09L565.66,21.44L565.72,18.56L565.77,18.27L565.83,21.3L565.89,27.38L565.94,35.56L566,44.91L566.06,54.48L566.11,63.32L566.17,70.49L566.22,75.05L566.28,76.22L566.34,74.48L566.39,70.78L566.45,66.1L566.51,61.38L566.56,57.55L566.62,54.86L566.67,53.15L566.73,52.24L566.79,51.97L566.84,52.16L566.9,52.65L566.96,53.26L567.01,53.8L567.07,54.1L567.13,53.98L567.18,53.26L567.24,51.94L567.29,50.15L567.35,48.05L567.41,45.8L567.46,43.55L567.52,41.45L567.58,39.66L567.63,38.33L567.69,37.61L567.75,37.65L567.8,38.59L567.86,40.25L567.91,42.27L567.97,44.27L568.03,45.87L568.08,46.72L568.14,46.44L568.2,44.79L568.25,42.03L568.31,38.54L568.36,34.71L568.42,30.93L568.48,27.6L568.53,25.09L568.59,23.79L568.65,24.1L568.7,26.3L568.76,30.03L568.82,34.66L568.87,39.55L568.93,44.08L568.98,47.62L569.04,49.52L569.1,49.18L569.15,46.49L569.21,42.15L569.27,36.94L569.32,31.63L569.38,27L569.44,23.82L569.49,22.87L569.55,24.84L569.6,29.56L569.66,36.3L569.72,44.32L569.77,52.86L569.83,61.2L569.89,68.57L569.94,74.24L570,77.47L570.06,77.91L570.11,76.15L570.17,72.95L570.22,69.06L570.28,65.23L570.34,62.17L570.39,60.01L570.45,58.58L570.51,57.65L570.56,57.02L570.62,56.49L570.67,55.98L570.73,55.45L570.79,54.87L570.84,54.23L570.9,53.5L570.96,52.65L571.01,51.66L571.07,50.49L571.13,49.17L571.18,47.75L571.24,46.3L571.29,44.88L571.35,43.57L571.41,42.41L571.46,41.49L571.52,40.87L571.58,40.61L571.63,40.78L571.69,41.3L571.75,41.9L571.8,42.29L571.86,42.17L571.91,41.25L571.97,39.45L572.03,37.01L572.08,34.22L572.14,31.35L572.2,28.68L572.25,26.48L572.31,25.03L572.37,24.61L572.42,25.49L572.48,27.82L572.53,31.23L572.59,35.23L572.65,39.31L572.7,42.99L572.76,45.76L572.82,47.12L572.87,46.59L572.93,43.78L572.98,39.18L573.04,33.61L573.1,27.89L573.15,22.83L573.21,19.27L573.27,18.03L573.32,19.91L573.38,25.07L573.44,32.66L573.49,41.73L573.55,51.33L573.6,60.52L573.66,68.35L573.72,73.88L573.77,76.2L573.83,75.32L573.89,72.17L573.94,67.71L574,62.9L574.06,58.7L574.11,55.64L574.17,53.62L574.22,52.46L574.28,52L574.34,52.06L574.39,52.47L574.45,53.06L574.51,53.64L574.56,54.04L574.62,54.08L574.68,53.58L574.73,52.44L574.79,50.79L574.84,48.78L574.9,46.56L574.96,44.29L575.01,42.13L575.07,40.21L575.13,38.71L575.18,37.77L575.24,37.54L575.29,38.18L575.35,39.64L575.41,41.58L575.46,43.62L575.52,45.4L575.58,46.55L575.63,46.69L575.69,45.49L575.75,43.05L575.8,39.76L575.86,36L575.91,32.16L575.97,28.64L576.03,25.81L576.08,24.07L576.14,23.8L576.2,25.37L576.25,28.66L576.31,33.05L576.37,37.93L576.42,42.65L576.48,46.59L576.53,49.11L576.59,49.58L576.65,47.61L576.7,43.73L576.76,38.73L576.82,33.37L576.87,28.42L576.93,24.67L576.98,22.89L577.04,23.84L577.1,27.73L577.15,33.88L577.21,41.55L577.27,50L577.32,58.49L577.38,66.26L577.44,72.59L577.49,76.71L577.55,78.04L577.6,76.93L577.66,74.13L577.72,70.39L577.77,66.46L577.83,63.08L577.89,60.64L577.94,58.99L578,57.91L578.06,57.21L578.11,56.67L578.17,56.15L578.22,55.63L578.28,55.07L578.34,54.46L578.39,53.76L578.45,52.95L578.51,52L578.56,50.9L578.62,49.63L578.68,48.23L578.73,46.78L578.79,45.35L578.84,43.99L578.9,42.78L578.96,41.77L579.01,41.04L579.07,40.65L579.13,40.67L579.18,41.1L579.24,41.71L579.29,42.2L579.35,42.28L579.41,41.66L579.46,40.13L579.52,37.88L579.58,35.17L579.63,32.3L579.69,29.53L579.75,27.14L579.8,25.42L579.86,24.62L579.91,25.03L579.97,26.9L580.03,30.01L580.08,33.86L580.14,37.97L580.2,41.84L580.25,44.97L580.31,46.86L580.37,47.01L580.42,44.96L580.48,40.87L580.53,35.53L580.59,29.76L580.65,24.39L580.7,20.24L580.76,18.14L580.82,18.89L580.87,23.03L580.93,29.92L580.99,38.6L581.04,48.13L581.1,57.56L581.15,65.95L581.21,72.35L581.27,75.82L581.32,75.92L581.38,73.42L581.44,69.28L581.49,64.48L581.55,59.97L581.6,56.54L581.66,54.19L581.72,52.76L581.77,52.08L581.83,51.99L581.89,52.3L581.94,52.85L582,53.46L582.06,53.94L582.11,54.12L582.17,53.82L582.22,52.88L582.28,51.38L582.34,49.48L582.39,47.31L582.45,45.05L582.51,42.83L582.56,40.81L582.62,39.16L582.68,38.01L582.73,37.53L582.79,37.86L582.84,39.08L582.9,40.9L582.96,42.95L583.01,44.86L583.07,46.26L583.13,46.78L583.18,46.04L583.24,43.97L583.3,40.92L583.35,37.28L583.41,33.43L583.46,29.75L583.52,26.65L583.58,24.5L583.63,23.7L583.69,24.63L583.75,27.41L583.8,31.5L583.86,36.29L583.91,41.13L583.97,45.4L584.03,48.46L584.08,49.69L584.14,48.52L584.2,45.19L584.25,40.47L584.31,35.15L584.37,29.98L584.42,25.74L584.48,23.22L584.53,23.18L584.59,26.14L584.65,31.62L584.7,38.87L584.76,47.15L584.82,55.7L584.87,63.8L584.93,70.69L584.99,75.63L585.04,77.91L585.1,77.53L585.15,75.21L585.21,71.69L585.27,67.74L585.32,64.1L585.38,61.36L585.44,59.47L585.49,58.22L585.55,57.41L585.61,56.84L585.66,56.32L585.72,55.8L585.77,55.26L585.83,54.67L585.89,54L585.94,53.23L586,52.34L586.06,51.29L586.11,50.07L586.17,48.71L586.22,47.27L586.28,45.82L586.34,44.43L586.39,43.16L586.45,42.08L586.51,41.25L586.56,40.74L586.62,40.61L586.68,40.92L586.73,41.51L586.79,42.07L586.84,42.32L586.9,41.96L586.96,40.73L587.01,38.69L587.07,36.11L587.13,33.26L587.18,30.43L587.24,27.88L587.3,25.9L587.35,24.76L587.41,24.74L587.46,26.12L587.52,28.86L587.58,32.52L587.63,36.61L587.69,40.61L587.75,44.04L587.8,46.39L587.86,47.18L587.91,45.9L587.97,42.41L588.03,37.39L588.08,31.68L588.14,26.09L588.2,21.44L588.25,18.56L588.31,18.27L588.37,21.3L588.42,27.38L588.48,35.56L588.53,44.91L588.59,54.48L588.65,63.32L588.7,70.49L588.76,75.05L588.82,76.22L588.87,74.48L588.93,70.78L588.99,66.1L589.04,61.38L589.1,57.55L589.15,54.86L589.21,53.15L589.27,52.24L589.32,51.97L589.38,52.16L589.44,52.65L589.49,53.26L589.55,53.8L589.61,54.1L589.66,53.98L589.72,53.26L589.77,51.94L589.83,50.15L589.89,48.05L589.94,45.8L590,43.55L590.06,41.45L590.11,39.66L590.17,38.33L590.22,37.61L590.28,37.65L590.34,38.59L590.39,40.25L590.45,42.27L590.51,44.27L590.56,45.87L590.62,46.72L590.68,46.45L590.73,44.79L590.79,42.03L590.84,38.54L590.9,34.71L590.96,30.93L591.01,27.6L591.07,25.09L591.13,23.79L591.18,24.1L591.24,26.3L591.3,30.03L591.35,34.66L591.41,39.55L591.46,44.08L591.52,47.62L591.58,49.52L591.63,49.18L591.69,46.49L591.75,42.15L591.8,36.94L591.86,31.63L591.92,27L591.97,23.82L592.03,22.87L592.08,24.84L592.14,29.56L592.2,36.3L592.25,44.32L592.31,52.86L592.37,61.2L592.42,68.57L592.48,74.24L592.53,77.47L592.59,77.91L592.65,76.15L592.7,72.95L592.76,69.06L592.82,65.23L592.87,62.17L592.93,60.01L592.99,58.58L593.04,57.65L593.1,57.02L593.15,56.49L593.21,55.98L593.27,55.45L593.32,54.87L593.38,54.23L593.44,53.5L593.49,52.65L593.55,51.66L593.61,50.49L593.66,49.17L593.72,47.75L593.77,46.3L593.83,44.88L593.89,43.57L593.94,42.41L594,41.49L594.06,40.87L594.11,40.61L594.17,40.78L594.23,41.3L594.28,41.9L594.34,42.29L594.39,42.17L594.45,41.25L594.51,39.45L594.56,37.01L594.62,34.22L594.68,31.35L594.73,28.68L594.79,26.48L594.84,25.03L594.9,24.61L594.96,25.49L595.01,27.82L595.07,31.23L595.13,35.23L595.18,39.31L595.24,42.99L595.3,45.76L595.35,47.12L595.41,46.59L595.46,43.78L595.52,39.18L595.58,33.61L595.63,27.89L595.69,22.83L595.75,19.27L595.8,18.03L595.86,19.91L595.92,25.07L595.97,32.66L596.03,41.73L596.08,51.33L596.14,60.52L596.2,68.35L596.25,73.88L596.31,76.2L596.37,75.32L596.42,72.17L596.48,67.71L596.53,62.9L596.59,58.7L596.65,55.64L596.7,53.62L596.76,52.46L596.82,52L596.87,52.05L596.93,52.47L596.99,53.06L597.04,53.64L597.1,54.04L597.15,54.08L597.21,53.58L597.27,52.44L597.32,50.79L597.38,48.78L597.44,46.56L597.49,44.29L597.55,42.13L597.61,40.21L597.66,38.71L597.72,37.77L597.77,37.54L597.83,38.18L597.89,39.64L597.94,41.58L598,43.62L598.06,45.4L598.11,46.55L598.17,46.69L598.23,45.49L598.28,43.05L598.34,39.76L598.39,36L598.45,32.16L598.51,28.64L598.56,25.81L598.62,24.07L598.68,23.8L598.73,25.37L598.79,28.66L598.84,33.05L598.9,37.93L598.96,42.65L599.01,46.59L599.07,49.11L599.13,49.58L599.18,47.61L599.24,43.73L599.3,38.73L599.35,33.37L599.41,28.42L599.46,24.67L599.52,22.89L599.58,23.84L599.63,27.73L599.69,33.88L599.75,41.55L599.8,50L599.86,58.49L599.92,66.26L599.97,72.59L600.03,76.71L600.08,78.04L600.14,76.93L600.2,74.13L600.25,70.39L600.31,66.46L600.37,63.08L600.42,60.64L600.48,58.99L600.54,57.91L600.59,57.21L600.65,56.67L600.7,56.15L600.76,55.63L600.82,55.07L600.87,54.46L600.93,53.76L600.99,52.95L601.04,52L601.1,50.9L601.15,49.63L601.21,48.23L601.27,46.78L601.32,45.35L601.38,43.99L601.44,42.78L601.49,41.77L601.55,41.04L601.61,40.65L601.66,40.67L601.72,41.1L601.77,41.71L601.83,42.2L601.89,42.28L601.94,41.66L602,40.13L602.06,37.88L602.11,35.17L602.17,32.3L602.23,29.53L602.28,27.14L602.34,25.42L602.39,24.62L602.45,25.03L602.51,26.9L602.56,30.01L602.62,33.86L602.68,37.97L602.73,41.84L602.79,44.97L602.85,46.86L602.9,47.01L602.96,44.96L603.01,40.87L603.07,35.53L603.13,29.76L603.18,24.39L603.24,20.24L603.3,18.14L603.35,18.89L603.41,23.03L603.46,29.92L603.52,38.6L603.58,48.13L603.63,57.56L603.69,65.95L603.75,72.35L603.8,75.82L603.86,75.92L603.92,73.42L603.97,69.28L604.03,64.48L604.08,59.98L604.14,56.54L604.2,54.19L604.25,52.76L604.31,52.08L604.37,51.99L604.42,52.3L604.48,52.85L604.54,53.46L604.59,53.94L604.65,54.12L604.7,53.82L604.76,52.88L604.82,51.38L604.87,49.48L604.93,47.31L604.99,45.05L605.04,42.83L605.1,40.81L605.15,39.16L605.21,38.01L605.27,37.53L605.32,37.87L605.38,39.08L605.44,40.9L605.49,42.95L605.55,44.86L605.61,46.26L605.66,46.78L605.72,46.04L605.77,43.97L605.83,40.92L605.89,37.28L605.94,33.43L606,29.75L606.06,26.65L606.11,24.5L606.17,23.7L606.23,24.63L606.28,27.41L606.34,31.5L606.39,36.29L606.45,41.13L606.51,45.4L606.56,48.46L606.62,49.69L606.68,48.52L606.73,45.19L606.79,40.47L606.85,35.15L606.9,29.98L606.96,25.74L607.01,23.22L607.07,23.18L607.13,26.14L607.18,31.62L607.24,38.87L607.3,47.15L607.35,55.7L607.41,63.8L607.46,70.69L607.52,75.63L607.58,77.91L607.63,77.53L607.69,75.21L607.75,71.69L607.8,67.74L607.86,64.1L607.92,61.36L607.97,59.47L608.03,58.22L608.08,57.41L608.14,56.84L608.2,56.32L608.25,55.8L608.31,55.26L608.37,54.67L608.42,54L608.48,53.23L608.54,52.34L608.59,51.29L608.65,50.07L608.7,48.71L608.76,47.27L608.82,45.82L608.87,44.43L608.93,43.16L608.99,42.08L609.04,41.25L609.1,40.74L609.16,40.61L609.21,40.92L609.27,41.51L609.32,42.07L609.38,42.32L609.44,41.96L609.49,40.73L609.55,38.69L609.61,36.11L609.66,33.26L609.72,30.43L609.77,27.88L609.83,25.9L609.89,24.76L609.94,24.74L610,26.12L610.06,28.86L610.11,32.52L610.17,36.61L610.23,40.61L610.28,44.04L610.34,46.39L610.39,47.18L610.45,45.9L610.51,42.41L610.56,37.39L610.62,31.68L610.68,26.09L610.73,21.44L610.79,18.56L610.85,18.27L610.9,21.3L610.96,27.38L611.01,35.56L611.07,44.91L611.13,54.48L611.18,63.32L611.24,70.49L611.3,75.05L611.35,76.22L611.41,74.48L611.47,70.78L611.52,66.1L611.58,61.38L611.63,57.55L611.69,54.86L611.75,53.15L611.8,52.24L611.86,51.97L611.92,52.16L611.97,52.65L612.03,53.26L612.08,53.8L612.14,54.1L612.2,53.98L612.25,53.26L612.31,51.94L612.37,50.15L612.42,48.05L612.48,45.8L612.54,43.55L612.59,41.45L612.65,39.66L612.7,38.33L612.76,37.61L612.82,37.65L612.87,38.59L612.93,40.25L612.99,42.27L613.04,44.27L613.1,45.87L613.16,46.72L613.21,46.44L613.27,44.79L613.32,42.03L613.38,38.54L613.44,34.71L613.49,30.93L613.55,27.6L613.61,25.09L613.66,23.79L613.72,24.1L613.77,26.3L613.83,30.03L613.89,34.66L613.94,39.55L614,44.08L614.06,47.62L614.11,49.52L614.17,49.18L614.23,46.49L614.28,42.15L614.34,36.94L614.39,31.63L614.45,27L614.51,23.82L614.56,22.87L614.62,24.84L614.68,29.56L614.73,36.3L614.79,44.32L614.85,52.86L614.9,61.2L614.96,68.57L615.01,74.24L615.07,77.47L615.13,77.91L615.18,76.15L615.24,72.95L615.3,69.06L615.35,65.23L615.41,62.17L615.47,60.01L615.52,58.58L615.58,57.65L615.63,57.02L615.69,56.49L615.75,55.98L615.8,55.45L615.86,54.87L615.92,54.23L615.97,53.5L616.03,52.65L616.08,51.66L616.14,50.49L616.2,49.17L616.25,47.75L616.31,46.3L616.37,44.88L616.42,43.57L616.48,42.41L616.54,41.49L616.59,40.87L616.65,40.61L616.7,40.78L616.76,41.3L616.82,41.9L616.87,42.29L616.93,42.17L616.99,41.25L617.04,39.45L617.1,37.01L617.16,34.22L617.21,31.35L617.27,28.68L617.32,26.48L617.38,25.03L617.44,24.61L617.49,25.49L617.55,27.82L617.61,31.23L617.66,35.23L617.72,39.31L617.78,42.99L617.83,45.76L617.89,47.12L617.94,46.59L618,43.78L618.06,39.18L618.11,33.61L618.17,27.89L618.23,22.83L618.28,19.27L618.34,18.03L618.39,19.91L618.45,25.07L618.51,32.66L618.56,41.73L618.62,51.33L618.68,60.52L618.73,68.35L618.79,73.88L618.85,76.2L618.9,75.32L618.96,72.17L619.01,67.71L619.07,62.9L619.13,58.7L619.18,55.64L619.24,53.62L619.3,52.46L619.35,52L619.41,52.06L619.47,52.47L619.52,53.06L619.58,53.64L619.63,54.04L619.69,54.08L619.75,53.58L619.8,52.44L619.86,50.79L619.92,48.78L619.97,46.56L620.03,44.29L620.09,42.13L620.14,40.21L620.2,38.71L620.25,37.77L620.31,37.54L620.37,38.18L620.42,39.64L620.48,41.58L620.54,43.62L620.59,45.4L620.65,46.55L620.7,46.69L620.76,45.49L620.82,43.05L620.87,39.76L620.93,36L620.99,32.16L621.04,28.64L621.1,25.81L621.16,24.07L621.21,23.8L621.27,25.37L621.32,28.66L621.38,33.05L621.44,37.93L621.49,42.65L621.55,46.59L621.61,49.11L621.66,49.58L621.72,47.61L621.78,43.73L621.83,38.73L621.89,33.37L621.94,28.42L622,24.67L622.06,22.89L622.11,23.84L622.17,27.73L622.23,33.88L622.28,41.55L622.34,50L622.4,58.49L622.45,66.26L622.51,72.59L622.56,76.71L622.62,78.04L622.68,76.93L622.73,74.13L622.79,70.39L622.85,66.46L622.9,63.08L622.96,60.64L623.01,58.99L623.07,57.91L623.13,57.21L623.18,56.67L623.24,56.15L623.3,55.63L623.35,55.07L623.41,54.46L623.47,53.76L623.52,52.95L623.58,52L623.63,50.9L623.69,49.63L623.75,48.23L623.8,46.78L623.86,45.35L623.92,43.99L623.97,42.78L624.03,41.77L624.09,41.04L624.14,40.65L624.2,40.67L624.25,41.1L624.31,41.71L624.37,42.2L624.42,42.28L624.48,41.66L624.54,40.13L624.59,37.88L624.65,35.17L624.7,32.3L624.76,29.53L624.82,27.14L624.87,25.42L624.93,24.62L624.99,25.03L625.04,26.9L625.1,30.01L625.16,33.86L625.21,37.97L625.27,41.84L625.32,44.97L625.38,46.86L625.44,47.01L625.49,44.96L625.55,40.87L625.61,35.53L625.66,29.76L625.72,24.39L625.78,20.24L625.83,18.14L625.89,18.89L625.94,23.03L626,29.92L626.06,38.6L626.11,48.13L626.17,57.56L626.23,65.95L626.28,72.35L626.34,75.82L626.4,75.92L626.45,73.42L626.51,69.28L626.56,64.48L626.62,59.97L626.68,56.54L626.73,54.19L626.79,52.76L626.85,52.08L626.9,51.99L626.96,52.3L627.01,52.85L627.07,53.46L627.13,53.94L627.18,54.12L627.24,53.82L627.3,52.88L627.35,51.38L627.41,49.48L627.47,47.31L627.52,45.05L627.58,42.83L627.63,40.81L627.69,39.16L627.75,38.01L627.8,37.53L627.86,37.86L627.92,39.08L627.97,40.9L628.03,42.95L628.09,44.86L628.14,46.26L628.2,46.78L628.25,46.04L628.31,43.97L628.37,40.92L628.42,37.28L628.48,33.43L628.54,29.75L628.59,26.65L628.65,24.5L628.71,23.7L628.76,24.63L628.82,27.41L628.87,31.5L628.93,36.29L628.99,41.13L629.04,45.4L629.1,48.46L629.16,49.69L629.21,48.52L629.27,45.19L629.32,40.47L629.38,35.15L629.44,29.98L629.49,25.74L629.55,23.22L629.61,23.18L629.66,26.14L629.72,31.62L629.78,38.87L629.83,47.15L629.89,55.7L629.94,63.8L630,70.69L630.06,75.63L630.11,77.91L630.17,77.53L630.23,75.21L630.28,71.69L630.34,67.74L630.4,64.1L630.45,61.36L630.51,59.47L630.56,58.22L630.62,57.41L630.68,56.84L630.73,56.32L630.79,55.8L630.85,55.26L630.9,54.67L630.96,54L631.02,53.23L631.07,52.34L631.13,51.29L631.18,50.07L631.24,48.71L631.3,47.27L631.35,45.82L631.41,44.43L631.47,43.16L631.52,42.08L631.58,41.25L631.63,40.74L631.69,40.61L631.75,40.92L631.8,41.51L631.86,42.07L631.92,42.32L631.97,41.96L632.03,40.73L632.09,38.69L632.14,36.11L632.2,33.26L632.25,30.43L632.31,27.88L632.37,25.9L632.42,24.76L632.48,24.74L632.54,26.12L632.59,28.86L632.65,32.52L632.71,36.61L632.76,40.61L632.82,44.04L632.87,46.39L632.93,47.18L632.99,45.9L633.04,42.41L633.1,37.39L633.16,31.68L633.21,26.09L633.27,21.44L633.32,18.56L633.38,18.27L633.44,21.3L633.49,27.38L633.55,35.56L633.61,44.91L633.66,54.48L633.72,63.32L633.78,70.49L633.83,75.05L633.89,76.22L633.94,74.48L634,70.78L634.06,66.1L634.11,61.38L634.17,57.55L634.23,54.86L634.28,53.15L634.34,52.24L634.4,51.97L634.45,52.16L634.51,52.65L634.56,53.26L634.62,53.8L634.68,54.1L634.73,53.98L634.79,53.26L634.85,51.94L634.9,50.15L634.96,48.05L635.02,45.8L635.07,43.55L635.13,41.45L635.18,39.66L635.24,38.33L635.3,37.61L635.35,37.65L635.41,38.59L635.47,40.25L635.52,42.27L635.58,44.27L635.63,45.87L635.69,46.72L635.75,46.45L635.8,44.79L635.86,42.03L635.92,38.54L635.97,34.71L636.03,30.93L636.09,27.6L636.14,25.09L636.2,23.79L636.25,24.1L636.31,26.3L636.37,30.03L636.42,34.66L636.48,39.55L636.54,44.08L636.59,47.62L636.65,49.52L636.71,49.18L636.76,46.49L636.82,42.15L636.87,36.94L636.93,31.63L636.99,27L637.04,23.82L637.1,22.87L637.16,24.84L637.21,29.56L637.27,36.3L637.33,44.32L637.38,52.86L637.44,61.2L637.49,68.57L637.55,74.24L637.61,77.47L637.66,77.91L637.72,76.15L637.78,72.95L637.83,69.06L637.89,65.23L637.94,62.17L638,60.01L638.06,58.58L638.11,57.65L638.17,57.02L638.23,56.49L638.28,55.98L638.34,55.45L638.4,54.87L638.45,54.23L638.51,53.5L638.56,52.65L638.62,51.66L638.68,50.49L638.73,49.17L638.79,47.75L638.85,46.3L638.9,44.88L638.96,43.57L639.02,42.41L639.07,41.49L639.13,40.87L639.18,40.61L639.24,40.78L639.3,41.3L639.35,41.9L639.41,42.29L639.47,42.17L639.52,41.25L639.58,39.45L639.64,37.01L639.69,34.22L639.75,31.35L639.8,28.68L639.86,26.48L639.92,25.03L639.97,24.61L640.03,25.49L640.09,27.82L640.14,31.23L640.2,35.23L640.25,39.31L640.31,42.99L640.37,45.76L640.42,47.12L640.48,46.59L640.54,43.78L640.59,39.18L640.65,33.61L640.71,27.89L640.76,22.83L640.82,19.27L640.87,18.03L640.93,19.91L640.99,25.07L641.04,32.66L641.1,41.73L641.16,51.33L641.21,60.52L641.27,68.35L641.33,73.88L641.38,76.2L641.44,75.32L641.49,72.17L641.55,67.71L641.61,62.9L641.66,58.7L641.72,55.64L641.78,53.62L641.83,52.46L641.89,52L641.95,52.05L642,52.47L642.06,53.06L642.11,53.64L642.17,54.04L642.23,54.08L642.28,53.58L642.34,52.44L642.4,50.79L642.45,48.78L642.51,46.56L642.56,44.29L642.62,42.13L642.68,40.21L642.73,38.71L642.79,37.77L642.85,37.54L642.9,38.18L642.96,39.64L643.02,41.58L643.07,43.62L643.13,45.4L643.18,46.55L643.24,46.69L643.3,45.49L643.35,43.05L643.41,39.76L643.47,36L643.52,32.16L643.58,28.64L643.64,25.81L643.69,24.07L643.75,23.8L643.8,25.37L643.86,28.66L643.92,33.05L643.97,37.93L644.03,42.65L644.09,46.59L644.14,49.11L644.2,49.58L644.25,47.61L644.31,43.73L644.37,38.73L644.42,33.37L644.48,28.42L644.54,24.67L644.59,22.89L644.65,23.84L644.71,27.73L644.76,33.88L644.82,41.55L644.87,50L644.93,58.49L644.99,66.26L645.04,72.59L645.1,76.71L645.16,78.04L645.21,76.93L645.27,74.13L645.33,70.39L645.38,66.46L645.44,63.08L645.49,60.64L645.55,58.99L645.61,57.91L645.66,57.21L645.72,56.67L645.78,56.15L645.83,55.63L645.89,55.07L645.95,54.46L646,53.76L646.06,52.95L646.11,52L646.17,50.9L646.23,49.63L646.28,48.23L646.34,46.78L646.4,45.35L646.45,43.99L646.51,42.78L646.56,41.77L646.62,41.04L646.68,40.65L646.73,40.67L646.79,41.1L646.85,41.71L646.9,42.2L646.96,42.28L647.02,41.66L647.07,40.13L647.13,37.88L647.18,35.17L647.24,32.3L647.3,29.53L647.35,27.14L647.41,25.42L647.47,24.62L647.52,25.03L647.58,26.9L647.64,30.01L647.69,33.86L647.75,37.97L647.8,41.84L647.86,44.97L647.92,46.86L647.97,47.01L648.03,44.96L648.09,40.87L648.14,35.53L648.2,29.76L648.26,24.39L648.31,20.24L648.37,18.14L648.42,18.89L648.48,23.03L648.54,29.92L648.59,38.6L648.65,48.13L648.71,57.56L648.76,65.95L648.82,72.35L648.87,75.82L648.93,75.92L648.99,73.42L649.04,69.28L649.1,64.48L649.16,59.98L649.21,56.54L649.27,54.19L649.33,52.76L649.38,52.08L649.44,51.99L649.49,52.3L649.55,52.85L649.61,53.46L649.66,53.94L649.72,54.12L649.78,53.82L649.83,52.88L649.89,51.38L649.95,49.48L650,47.31L650.06,45.05L650.11,42.83L650.17,40.81L650.23,39.16L650.28,38.01L650.34,37.53L650.4,37.87L650.45,39.08L650.51,40.9L650.57,42.95L650.62,44.86L650.68,46.26L650.73,46.78L650.79,46.04L650.85,43.97L650.9,40.92L650.96,37.28L651.02,33.43L651.07,29.75L651.13,26.65L651.18,24.5L651.24,23.7L651.3,24.63L651.35,27.41L651.41,31.5L651.47,36.29L651.52,41.13L651.58,45.4L651.64,48.46L651.69,49.69L651.75,48.52L651.8,45.19L651.86,40.47L651.92,35.15L651.97,29.98L652.03,25.74L652.09,23.22L652.14,23.18L652.2,26.14L652.26,31.62L652.31,38.87L652.37,47.15L652.42,55.7L652.48,63.8L652.54,70.69L652.59,75.63L652.65,77.91L652.71,77.53L652.76,75.21L652.82,71.69L652.87,67.74L652.93,64.1L652.99,61.36L653.04,59.47L653.1,58.22L653.16,57.41L653.21,56.84L653.27,56.32L653.33,55.8L653.38,55.26L653.44,54.67L653.49,54L653.55,53.23L653.61,52.34L653.66,51.29L653.72,50.07L653.78,48.71L653.83,47.27L653.89,45.82L653.95,44.43L654,43.16L654.06,42.08L654.11,41.25L654.17,40.74L654.23,40.61L654.28,40.92L654.34,41.51L654.4,42.07L654.45,42.32L654.51,41.96L654.57,40.73L654.62,38.69L654.68,36.11L654.73,33.26L654.79,30.43L654.85,27.88L654.9,25.9L654.96,24.76L655.02,24.74L655.07,26.12L655.13,28.86L655.18,32.52L655.24,36.61L655.3,40.61L655.35,44.04L655.41,46.39L655.47,47.18L655.52,45.9L655.58,42.41L655.64,37.39L655.69,31.68L655.75,26.09L655.8,21.44L655.86,18.56L655.92,18.27L655.97,21.3L656.03,27.38L656.09,35.56L656.14,44.91L656.2,54.48L656.26,63.32L656.31,70.49L656.37,75.05L656.42,76.22L656.48,74.48L656.54,70.78L656.59,66.1L656.65,61.38L656.71,57.55L656.76,54.86L656.82,53.15L656.88,52.24L656.93,51.97L656.99,52.16L657.04,52.65L657.1,53.26L657.16,53.8L657.21,54.1L657.27,53.98L657.33,53.26L657.38,51.94L657.44,50.15L657.49,48.05L657.55,45.8L657.61,43.55L657.66,41.45L657.72,39.66L657.78,38.33L657.83,37.61L657.89,37.65L657.95,38.59L658,40.25L658.06,42.27L658.11,44.27L658.17,45.87L658.23,46.72L658.28,46.44L658.34,44.79L658.4,42.03L658.45,38.54L658.51,34.71L658.57,30.93L658.62,27.6L658.68,25.09L658.73,23.79L658.79,24.1L658.85,26.3L658.9,30.03L658.96,34.66L659.02,39.55L659.07,44.08L659.13,47.62L659.19,49.52L659.24,49.18L659.3,46.49L659.35,42.15L659.41,36.94L659.47,31.63L659.52,27L659.58,23.82L659.64,22.87L659.69,24.84L659.75,29.56L659.8,36.32L659.86,44.35L659.92,52.83L659.97,61.02L660.03,68.2L660.09,73.66L660.14,76.69L660.2,76.98L660.26,75.16L660.31,71.98L660.37,68.16L660.42,64.44L660.48,61.47L660.54,59.38L660.59,57.99L660.65,57.08L660.71,56.46L660.76,55.94L660.82,55.44L660.88,54.92L660.93,54.37L660.99,53.77L661.04,53.08L661.1,52.3L661.16,51.4L661.21,50.35L661.27,49.18L661.33,47.93L661.38,46.67L661.44,45.45L661.49,44.32L661.55,43.36L661.61,42.6L661.66,42.1L661.72,41.91L661.78,42.09L661.83,42.57L661.89,43.11L661.95,43.46L662,43.39L662.06,42.67L662.11,41.23L662.17,39.29L662.23,37.09L662.28,34.84L662.34,32.78L662.4,31.12L662.45,30.08L662.51,29.85L662.57,30.65L662.62,32.57L662.68,35.33L662.73,38.49L662.79,41.68L662.85,44.52L662.9,46.63L662.96,47.67L663.02,47.28L663.07,45.24L663.13,41.92L663.19,37.96L663.24,34L663.3,30.64L663.35,28.46L663.41,27.98L663.47,29.67L663.52,33.52L663.58,38.83L663.64,44.89L663.69,51.05L663.75,56.69L663.8,61.25L663.86,64.27L663.92,65.34L663.97,64.61L664.03,62.72L664.09,60.25L664.14,57.71L664.2,55.55L664.26,53.96L664.31,52.82L664.37,52L664.42,51.39L664.48,50.9L664.54,50.45L664.59,49.97L664.65,49.41L664.71,48.75L664.76,47.97L664.82,47.06L664.88,46.07L664.93,45.06L664.99,44.13L665.04,43.34L665.1,42.74L665.16,42.38L665.21,42.28L665.27,42.46L665.33,42.91L665.38,43.62L665.44,44.57L665.5,45.71L665.55,46.96L665.61,48.27L665.66,49.57L665.72,50.84L665.78,52.03L665.83,53.13L665.89,54.12L665.95,55.01L666,55.76L666.06,56.36L666.11,56.78L666.17,57L666.23,57.01L666.28,56.78L666.34,56.33L666.4,55.67L666.45,54.84L666.51,53.87L666.57,52.79L666.62,51.62L666.68,50.4L666.73,49.15L666.79,47.92L666.85,46.73L666.9,45.61L666.96,44.59L667.02,43.7L667.07,42.96L667.13,42.4L667.19,42.01L667.24,41.82L667.3,41.82L667.35,42.02L667.41,42.4L667.47,42.96L667.52,43.68L667.58,44.55L667.64,45.53L667.69,46.6L667.75,47.73L667.81,48.9L667.86,50.06L667.92,51.2L667.97,52.28L668.03,53.27L668.09,54.15L668.14,54.9L668.2,55.49L668.26,55.92L668.31,56.17L668.37,56.24L668.42,56.12L668.48,55.82L668.54,55.36L668.59,54.74L668.65,53.97L668.71,53.1L668.76,52.12L668.82,51.08L668.88,50L668.93,48.9L668.99,47.83L669.04,46.79L669.1,45.83L669.16,44.97L669.21,44.22L669.27,43.61L669.33,43.15L669.38,42.86L669.44,42.73L669.5,42.78L669.55,43L669.61,43.37L669.66,43.9L669.72,44.56L669.78,45.34L669.83,46.22L669.89,47.17L669.95,48.17L670,49.19L670.06,50.2L670.12,51.18L670.17,52.1L670.23,52.94L670.28,53.67L670.34,54.29L670.4,54.77L670.45,55.1L670.51,55.27L670.57,55.29L670.62,55.15L670.68,54.85L670.73,54.41L670.79,53.84L670.85,53.16L670.9,52.37L670.96,51.52L671.02,50.61L671.07,49.67L671.13,48.73L671.19,47.81L671.24,46.93L671.3,46.12L671.35,45.41L671.41,44.8L671.47,44.31L671.52,43.95L671.58,43.73L671.64,43.67L671.69,43.74L671.75,43.96L671.81,44.32L671.86,44.81L671.92,45.4L671.97,46.09L672.03,46.86L672.09,47.68L672.14,48.54L672.2,49.4L672.26,50.26L672.31,51.08L672.37,51.85L672.42,52.54L672.48,53.14L672.54,53.63L672.59,54L672.65,54.25L672.71,54.36L672.76,54.34L672.82,54.18L672.88,53.9L672.93,53.5L672.99,52.99L673.04,52.39L673.1,51.71L673.16,50.97L673.21,50.2L673.27,49.41L673.33,48.62L673.38,47.86L673.44,47.14L673.5,46.48L673.55,45.91L673.61,45.42L673.66,45.04L673.72,44.78L673.78,44.63L673.83,44.61L673.89,44.7L673.95,44.92L674,45.25L674.06,45.67L674.12,46.19L674.17,46.78L674.23,47.43L674.28,48.12L674.34,48.83L674.4,49.55L674.45,50.25L674.51,50.91L674.57,51.53L674.62,52.08L674.68,52.55L674.73,52.92L674.79,53.2L674.85,53.37L674.9,53.43L674.96,53.38L675.02,53.23L675.07,52.97L675.13,52.61L675.19,52.18L675.24,51.67L675.3,51.1L675.35,50.5L675.41,49.87L675.47,49.23L675.52,48.59L675.58,47.99L675.64,47.42L675.69,46.91L675.75,46.46L675.81,46.1L675.86,45.82L675.92,45.63L675.97,45.54L676.03,45.55L676.09,45.66L676.14,45.86L676.2,46.14L676.26,46.5L676.31,46.93L676.37,47.42L676.43,47.94L676.48,48.49L676.54,49.06L676.59,49.62L676.65,50.16L676.71,50.68L676.76,51.14L676.82,51.56L676.88,51.9L676.93,52.17L676.99,52.37L677.04,52.47L677.1,52.49L677.16,52.43L677.21,52.28L677.27,52.06L677.33,51.77L677.38,51.41L677.44,51.01L677.5,50.56L677.55,50.09L677.61,49.6L677.66,49.11L677.72,48.64L677.78,48.18L677.83,47.76L677.89,47.39L677.95,47.07L678,46.82L678.06,46.63L678.12,46.51L678.17,46.47L678.23,46.5L678.28,46.6L678.34,46.77L678.4,47L678.45,47.29L678.51,47.62L678.57,47.99L678.62,48.38L678.68,48.79L678.74,49.21L678.79,49.62L678.85,50.01L678.9,50.37L678.96,50.7L679.02,50.98L679.07,51.21L679.13,51.39L679.19,51.5L679.24,51.56L679.3,51.55L679.35,51.48L679.41,51.36L679.47,51.18L679.52,50.96L679.58,50.7L679.64,50.4L679.69,50.08L679.75,49.75L679.81,49.41L679.86,49.08L679.92,48.75L679.97,48.45L680.03,48.18L680.09,47.94L680.14,47.74L680.2,47.58L680.26,47.47L680.31,47.42L680.37,47.41L680.43,47.45L680.48,47.53L680.54,47.66L680.59,47.83L680.65,48.03L680.71,48.26L680.76,48.5L680.82,48.76L680.88,49.02L680.93,49.29L680.99,49.54L681.04,49.78L681.1,50L681.16,50.19L681.21,50.35L681.27,50.47L681.33,50.56L681.38,50.61L681.44,50.63L681.5,50.61L681.55,50.55L681.61,50.46L681.66,50.34L681.72,50.2L681.78,50.04L681.83,49.86L681.89,49.67L681.95,49.48L682,49.29L682.06,49.11L682.12,48.94L682.17,48.79L682.23,48.65L682.28,48.54L682.34,48.45L682.4,48.38L682.45,48.35L682.51,48.33L682.57,48.35L682.62,48.39L682.68,48.44L682.74,48.52L682.79,48.61L682.85,48.72L682.9,48.83L682.96,48.95L683.02,49.07L683.07,49.18L683.13,49.29L683.19,49.39L683.24,49.48L683.3,49.56L683.35,49.62L683.41,49.66L683.47,49.69L683.52,49.71L683.58,49.71L683.64,49.69L683.69,49.67L683.75,49.63L683.81,49.59L683.86,49.54L683.92,49.48L683.97,49.43L684.03,49.38L684.09,49.33L684.14,49.29L684.2,49.25L684.26,49.22L684.31,49.2L684.37,49.19L684.43,49.19L684.48,49.19L684.54,49.2L684.59,49.22L684.65,49.24L684.71,49.25L684.76,49.25L684.82,49.25L684.88,49.25L684.93,49.25L684.99,49.25L685.05,49.25L685.1,49.25" fill="none" stroke="#ff0000" stroke-width="1.3" stroke-linejoin="round" stroke-linecap="butt"/>
<rect x="388.75" y="6.25" width="310.0" height="86.25" fill="none" stroke="#4a4a4a" stroke-width="0.7"/>
<line x1="402.50" x2="402.50" y1="92.5" y2="95.5" stroke="#2a2a2a" stroke-width="0.8"/>
<text x="402.50" y="104.40" text-anchor="middle" font-size="7.9" font-family="DejaVu Sans, Liberation Sans, sans-serif" fill="#1c1c1c">0</text>
<line x1="449.45" x2="449.45" y1="92.5" y2="95.5" stroke="#2a2a2a" stroke-width="0.8"/>
<text x="449.45" y="104.40" text-anchor="middle" font-size="7.9" font-family="DejaVu Sans, Liberation Sans, sans-serif" fill="#1c1c1c">5</text>
<line x1="496.40" x2="496.40" y1="92.5" y2="95.5" stroke="#2a2a2a" stroke-width="0.8"/>
<text x="496.40" y="104.40" text-anchor="middle" font-size="7.9" font-family="DejaVu Sans, Liberation Sans, sans-serif" fill="#1c1c1c">10</text>
<line x1="543.35" x2="543.35" y1="92.5" y2="95.5" stroke="#2a2a2a" stroke-width="0.8"/>
<text x="543.35" y="104.40" text-anchor="middle" font-size="7.9" font-family="DejaVu Sans, Liberation Sans, sans-serif" fill="#1c1c1c">15</text>
<line x1="590.30" x2="590.30" y1="92.5" y2="95.5" stroke="#2a2a2a" stroke-width="0.8"/>
<text x="590.30" y="104.40" text-anchor="middle" font-size="7.9" font-family="DejaVu Sans, Liberation Sans, sans-serif" fill="#1c1c1c">20</text>
<line x1="637.25" x2="637.25" y1="92.5" y2="95.5" stroke="#2a2a2a" stroke-width="0.8"/>
<text x="637.25" y="104.40" text-anchor="middle" font-size="7.9" font-family="DejaVu Sans, Liberation Sans, sans-serif" fill="#1c1c1c">25</text>
<line x1="684.20" x2="684.20" y1="92.5" y2="95.5" stroke="#2a2a2a" stroke-width="0.8"/>
<text x="684.20" y="104.40" text-anchor="middle" font-size="7.9" font-family="DejaVu Sans, Liberation Sans, sans-serif" fill="#1c1c1c">30</text>
<line x1="385.75" x2="388.75" y1="16.25" y2="16.25" stroke="#2a2a2a" stroke-width="0.8"/>
<text x="382.75" y="19.39" text-anchor="end" font-size="7.9" font-family="DejaVu Sans, Liberation Sans, sans-serif" fill="#1c1c1c">20</text>
<line x1="385.75" x2="388.75" y1="49.25" y2="49.25" stroke="#2a2a2a" stroke-width="0.8"/>
<text x="382.75" y="52.39" text-anchor="end" font-size="7.9" font-family="DejaVu Sans, Liberation Sans, sans-serif" fill="#1c1c1c">0</text>
<line x1="385.75" x2="388.75" y1="82.25" y2="82.25" stroke="#2a2a2a" stroke-width="0.8"/>
<text x="382.75" y="85.39" text-anchor="end" font-size="7.9" font-family="DejaVu Sans, Liberation Sans, sans-serif" fill="#1c1c1c">−20</text>
<text transform="translate(360.7,49.38) rotate(-90)" text-anchor="middle" font-size="9.5" font-family="Liberation Sans, sans-serif" fill="#1c1c1c">Angular velocity (rad/s)</text>
<rect x="603.25" y="10" width="90.75" height="15" rx="1.6" fill="#fff" fill-opacity="0.8" stroke="#ccc" stroke-opacity="0.8" stroke-width="0.6"/>
<line x1="606.15" x2="623.15" y1="17.50" y2="17.50" stroke="#ff0000" stroke-width="1.35"/>
<text x="690.4" y="20.34" text-anchor="end" font-size="7.9" font-family="DejaVu Sans, Liberation Sans, sans-serif" fill="#1c1c1c">Simulation data</text>
<rect x="477.8" y="9.3" width="21.2" height="79.4" fill="none" stroke="#111" stroke-width="1.15" stroke-dasharray="4.2 1.8"/>
<path clip-path="url(#cp3)" d="M402.5,151.85L402.89,151.84L403.28,151.83L403.67,151.83L404.06,151.82L404.45,151.81L404.84,151.81L405.23,151.8L405.62,151.79L406.01,151.78L406.4,151.78L406.79,151.77L407.18,151.76L407.57,151.76L407.96,151.75L408.35,151.74L408.74,151.73L409.13,151.73L409.52,151.72L409.91,151.71L410.3,151.7L410.7,151.69L411.09,151.61L411.48,151.54L411.87,151.47L412.26,151.4L412.65,151.33L413.04,151.25L413.43,151.18L413.82,151.11L414.21,151.04L414.6,150.96L414.99,150.89L415.38,150.82L415.77,150.66L416.16,150.45L416.55,150.24L416.94,150.03L417.33,149.82L417.72,149.61L418.11,149.4L418.5,149.19L418.89,148.98L419.28,148.78L419.67,148.57L420.06,148.36L420.45,148.14L420.84,147.85L421.23,147.57L421.62,147.29L422.01,147L422.4,146.72L422.79,146.44L423.18,146.15L423.57,145.87L423.96,145.59L424.35,145.3L424.74,145.02L425.13,144.74L425.52,144.45L425.91,144.17L426.3,143.89L426.69,143.6L427.09,143.37L427.48,143.19L427.87,143.01L428.26,142.83L428.65,142.65L429.04,142.47L429.43,142.29L429.82,142.11L430.21,141.96L430.6,142L430.99,142.04L431.38,142.08L431.77,142.12L432.16,142.16L432.55,142.2L432.94,142.24L433.33,142.28L433.72,142.32L434.11,142.36L434.5,142.4L434.89,142.44L435.28,142.48L435.67,142.53L436.06,142.57L436.45,142.61L436.84,142.65L437.23,142.69L437.62,142.73L438.01,142.77L438.4,152L438.79,152L439.18,152L439.57,152L439.96,152L440.35,152L440.74,152L441.13,152L441.52,152L441.91,152L442.3,152L442.69,152L443.08,152L443.48,152L443.87,152L444.26,152L444.65,152L445.04,152L445.43,152L445.82,152L446.21,152L446.6,152L446.99,152L447.38,152L447.77,152L448.16,152L448.55,152L448.94,152L449.33,152L449.72,152L450.11,143.91L450.5,143.87L450.89,143.82L451.28,143.78L451.67,143.73L452.06,143.69L452.45,143.64L452.84,143.6L453.23,143.55L453.62,143.51L454.01,143.46L454.4,143.41L454.79,143.37L455.18,143.32L455.57,143.28L455.96,143.23L456.35,143.19L456.74,143.14L457.13,143.1L457.52,143.05L457.91,143.01L458.3,142.96L458.69,142.92L459.08,142.87L459.48,142.83L459.87,142.78L460.26,142.74L460.65,142.69L461.04,142.65L461.43,142.6L461.82,142.56L462.21,142.51L462.6,142.47L462.99,142.5L463.38,142.54L463.77,142.59L464.16,152L464.55,152L464.94,152L465.33,152L465.72,152L466.11,152L466.5,152L466.89,152L467.28,152L467.67,152L468.06,152L468.45,152L468.84,152L469.23,152L469.62,152L470.01,152L470.4,152L470.79,152L471.18,152L471.57,152L471.96,152L472.35,152L472.74,152L473.13,152L473.52,152L473.91,152L474.3,152L474.69,152L475.08,152L475.47,152L475.87,143.96L476.26,143.95L476.65,143.94L477.04,143.93L477.43,143.92L477.82,143.91L478.21,143.9L478.6,143.88L478.99,143.87L479.38,143.86L479.77,143.85L480.16,143.84L480.55,143.83L480.94,143.82L481.33,143.81L481.72,143.8L482.11,143.79L482.5,143.78L482.89,143.77L483.28,143.76L483.67,143.75L484.06,143.73L484.45,143.72L484.84,143.71L485.23,143.7L485.62,143.69L486.01,143.68L486.4,143.67L486.79,143.66L487.18,143.65L487.57,143.64L487.96,143.63L488.35,143.62L488.74,143.61L489.13,143.6L489.52,143.58L489.91,143.57L490.3,143.56L490.69,143.55L491.08,143.54L491.47,143.53L491.86,143.52L492.26,143.51L492.65,143.5L493.04,143.49L493.43,143.48L493.82,143.47L494.21,143.46L494.6,143.45L494.99,143.43L495.38,143.42L495.77,143.41L496.16,143.4L496.55,143.39L496.94,143.38L497.33,143.37L497.72,143.36L498.11,143.35L498.5,143.34L498.89,143.33L499.28,143.32L499.67,143.31L500.06,143.3L500.45,143.28L500.84,143.27L501.23,143.26L501.62,143.25L502.01,143.24L502.4,143.23L502.79,143.22L503.18,143.21L503.57,143.2L503.96,143.19L504.35,143.18L504.74,143.17L505.13,143.16L505.52,143.15L505.91,143.13L506.3,143.12L506.69,143.11L507.08,143.1L507.47,143.09L507.86,143.08L508.26,143.07L508.65,143.06L509.04,143.05L509.43,143.04L509.82,143.03L510.21,143.02L510.6,143.01L510.99,143L511.38,142.98L511.77,142.97L512.16,142.96L512.55,142.95L512.94,152L513.33,152L513.72,152L514.11,152L514.5,152L514.89,152L515.28,152L515.67,152L516.06,152L516.45,152L516.84,152L517.23,152L517.62,152L518.01,152L518.4,152L518.79,152L519.18,152L519.57,152L519.96,152L520.35,152L520.74,152L521.13,152L521.52,152L521.91,152L522.3,152L522.69,152L523.08,152L523.47,152L523.86,152L524.25,152L524.65,152L525.04,152L525.43,152L525.82,152L526.21,152L526.6,152L526.99,152L527.38,152L527.77,152L528.16,152L528.55,152L528.94,152L529.33,152L529.72,152L530.11,152L530.5,152L530.89,152L531.28,152L531.67,152L532.06,152L532.45,152L532.84,152L533.23,152L533.62,152L534.01,152L534.4,152L534.79,152L535.18,152L535.57,152L535.96,152L536.35,152L536.74,152L537.13,152L537.52,152L537.91,152L538.3,152L538.69,152L539.08,152L539.47,152L539.86,152L540.25,152L540.64,152L541.04,152L541.43,152L541.82,152L542.21,152L542.6,152L542.99,152L543.38,152L543.77,152L544.16,152L544.55,152L544.94,141.44L545.33,141.43L545.72,141.42L546.11,141.42L546.5,141.41L546.89,141.4L547.28,141.4L547.67,141.4L548.06,141.4L548.45,141.4L548.84,141.4L549.23,141.4L549.62,141.4L550.01,141.4L550.4,141.4L550.79,141.4L551.18,141.4L551.57,141.4L551.96,141.4L552.35,141.4L552.74,141.4L553.13,141.4L553.52,141.4L553.91,141.4L554.3,141.4L554.69,141.4L555.08,141.4L555.47,141.4L555.86,141.4L556.25,141.4L556.64,141.4L557.04,141.4L557.43,141.4L557.82,141.4L558.21,141.4L558.6,141.4L558.99,141.4L559.38,141.4L559.77,141.4L560.16,141.4L560.55,141.4L560.94,141.4L561.33,141.4L561.72,141.4L562.11,141.4L562.5,141.4L562.89,141.4L563.28,141.4L563.67,141.4L564.06,141.4L564.45,141.4L564.84,141.4L565.23,141.4L565.62,141.4L566.01,141.4L566.4,141.4L566.79,141.4L567.18,141.4L567.57,141.4L567.96,141.4L568.35,141.4L568.74,141.4L569.13,141.4L569.52,141.4L569.91,141.4L570.3,141.4L570.69,141.4L571.08,141.4L571.47,141.4L571.86,141.4L572.25,141.4L572.64,152L573.03,152L573.43,152L573.82,152L574.21,152L574.6,152L574.99,152L575.38,152L575.77,152L576.16,152L576.55,152L576.94,152L577.33,152L577.72,152L578.11,152L578.5,152L578.89,152L579.28,152L579.67,152L580.06,152L580.45,152L580.84,152L581.23,152L581.62,152L582.01,152L582.4,152L582.79,152L583.18,152L583.57,152L583.96,152L584.35,152L584.74,152L585.13,152L585.52,152L585.91,152L586.3,152L586.69,152L587.08,152L587.47,152L587.86,152L588.25,152L588.64,152L589.03,152L589.42,152L589.82,152L590.21,152L590.6,152L590.99,152L591.38,152L591.77,152L592.16,152L592.55,152L592.94,152L593.33,152L593.72,152L594.11,152L594.5,152L594.89,152L595.28,152L595.67,152L596.06,152L596.45,152L596.84,152L597.23,152L597.62,141.45L598.01,141.45L598.4,141.45L598.79,141.45L599.18,141.45L599.57,141.45L599.96,141.45L600.35,141.45L600.74,141.45L601.13,141.45L601.52,141.45L601.91,141.45L602.3,141.45L602.69,141.45L603.08,141.45L603.47,141.45L603.86,141.45L604.25,141.45L604.64,141.45L605.03,141.45L605.42,141.45L605.82,141.45L606.21,141.45L606.6,141.45L606.99,141.45L607.38,141.45L607.77,141.45L608.16,141.45L608.55,141.45L608.94,141.45L609.33,141.45L609.72,141.45L610.11,141.45L610.5,141.45L610.89,141.45L611.28,141.45L611.67,141.45L612.06,141.45L612.45,141.45L612.84,141.45L613.23,141.45L613.62,141.45L614.01,141.45L614.4,141.45L614.79,141.45L615.18,141.45L615.57,141.45L615.96,141.45L616.35,141.45L616.74,141.45L617.13,141.45L617.52,141.45L617.91,141.45L618.3,141.45L618.69,141.45L619.08,141.45L619.47,141.45L619.86,141.45L620.25,141.45L620.64,141.45L621.03,141.45L621.42,141.45L621.81,141.45L622.21,141.45L622.6,141.45L622.99,141.45L623.38,141.45L623.77,141.45L624.16,141.45L624.55,141.45L624.94,141.45L625.33,141.45L625.72,141.45L626.11,141.45L626.5,141.45L626.89,141.45L627.28,141.45L627.67,141.45L628.06,141.45L628.45,141.45L628.84,141.45L629.23,141.45L629.62,141.45L630.01,141.45L630.4,141.45L630.79,141.45L631.18,141.45L631.57,141.45L631.96,141.45L632.35,141.45L632.74,141.45L633.13,141.45L633.52,141.45L633.91,141.45L634.3,141.45L634.69,141.45L635.08,141.45L635.47,141.45L635.86,141.45L636.25,141.45L636.64,141.45L637.03,141.45L637.42,141.45L637.81,141.45L638.2,141.45L638.6,141.45L638.99,141.45L639.38,141.45L639.77,141.45L640.16,141.45L640.55,141.45L640.94,141.45L641.33,141.45L641.72,141.45L642.11,141.45L642.5,141.45L642.89,141.45L643.28,141.45L643.67,141.45L644.06,141.45L644.45,141.45L644.84,141.45L645.23,141.45L645.62,141.45L646.01,141.45L646.4,141.45L646.79,141.45L647.18,141.45L647.57,141.45L647.96,141.45L648.35,141.45L648.74,141.45L649.13,141.45L649.52,141.45L649.91,141.45L650.3,141.45L650.69,141.45L651.08,141.45L651.47,141.45L651.86,141.45L652.25,141.45L652.64,141.45L653.03,141.45L653.42,141.45L653.81,141.45L654.2,141.45L654.6,141.45L654.99,141.45L655.38,141.45L655.77,141.45L656.16,141.45L656.55,141.45L656.94,141.45L657.33,141.45L657.72,141.45L658.11,141.45L658.5,141.45L658.89,141.45L659.28,141.45L659.67,141.69L660.06,142.06L660.45,142.42L660.84,142.78L661.23,143.14L661.62,143.5L662.01,143.86L662.4,144.23L662.79,144.59L663.18,144.95L663.57,145.31L663.96,145.67L664.35,146.03L664.74,146.4L665.13,146.76L665.52,147.12L665.91,147.48L666.3,147.84L666.69,148.2L667.08,148.56L667.47,148.93L667.86,149.14L668.25,149.32L668.64,149.49L669.03,149.67L669.42,149.85L669.81,150.03L670.2,150.21L670.59,150.39L670.99,150.57L671.38,150.75L671.77,150.93L672.16,151.11L672.55,151.28L672.94,151.46L673.33,151.6L673.72,151.61L674.11,151.62L674.5,151.63L674.89,151.63L675.28,151.64L675.67,151.65L676.06,151.66L676.45,151.67L676.84,151.68L677.23,151.69L677.62,151.7L678.01,151.7L678.4,151.71L678.79,151.72L679.18,151.73L679.57,151.74L679.96,151.75L680.35,151.76L680.74,151.76L681.13,151.77L681.52,151.78L681.91,151.79L682.3,151.8L682.69,151.81L683.08,151.82L683.47,151.82L683.86,151.83L684.25,151.84L684.25,152.16L683.86,152.17L683.47,152.18L683.08,152.18L682.69,152.19L682.3,152.2L681.91,152.21L681.52,152.22L681.13,152.23L680.74,152.24L680.35,152.24L679.96,152.25L679.57,152.26L679.18,152.27L678.79,152.28L678.4,152.29L678.01,152.3L677.62,152.3L677.23,152.31L676.84,152.32L676.45,152.33L676.06,152.34L675.67,152.35L675.28,152.36L674.89,152.37L674.5,152.37L674.11,152.38L673.72,152.39L673.33,152.4L672.94,152.54L672.55,152.72L672.16,152.89L671.77,153.07L671.38,153.25L670.99,153.43L670.59,153.61L670.2,153.79L669.81,153.97L669.42,154.15L669.03,154.33L668.64,154.51L668.25,154.68L667.86,154.86L667.47,155.07L667.08,155.44L666.69,155.8L666.3,156.16L665.91,156.52L665.52,156.88L665.13,157.24L664.74,157.6L664.35,157.97L663.96,158.33L663.57,158.69L663.18,159.05L662.79,159.41L662.4,159.77L662.01,160.14L661.62,160.5L661.23,160.86L660.84,161.22L660.45,161.58L660.06,161.94L659.67,162.31L659.28,162.55L658.89,162.55L658.5,162.55L658.11,162.55L657.72,162.55L657.33,162.55L656.94,162.55L656.55,162.55L656.16,162.55L655.77,162.55L655.38,162.55L654.99,162.55L654.6,162.55L654.2,162.55L653.81,162.55L653.42,162.55L653.03,162.55L652.64,162.55L652.25,162.55L651.86,162.55L651.47,162.55L651.08,162.55L650.69,162.55L650.3,162.55L649.91,162.55L649.52,162.55L649.13,162.55L648.74,162.55L648.35,162.55L647.96,162.55L647.57,162.55L647.18,162.55L646.79,162.55L646.4,162.55L646.01,162.55L645.62,162.55L645.23,162.55L644.84,162.55L644.45,162.55L644.06,162.55L643.67,162.55L643.28,162.55L642.89,162.55L642.5,162.55L642.11,162.55L641.72,162.55L641.33,162.55L640.94,162.55L640.55,162.55L640.16,162.55L639.77,162.55L639.38,162.55L638.99,162.55L638.6,162.55L638.2,162.55L637.81,162.55L637.42,162.55L637.03,162.55L636.64,162.55L636.25,162.55L635.86,162.55L635.47,162.55L635.08,162.55L634.69,162.55L634.3,162.55L633.91,162.55L633.52,162.55L633.13,162.55L632.74,162.55L632.35,162.55L631.96,162.55L631.57,162.55L631.18,162.55L630.79,162.55L630.4,162.55L630.01,162.55L629.62,162.55L629.23,162.55L628.84,162.55L628.45,162.55L628.06,162.55L627.67,162.55L627.28,162.55L626.89,162.55L626.5,162.55L626.11,162.55L625.72,162.55L625.33,162.55L624.94,162.55L624.55,162.55L624.16,162.55L623.77,162.55L623.38,162.55L622.99,162.55L622.6,162.55L622.21,162.55L621.81,162.55L621.42,162.55L621.03,162.55L620.64,162.55L620.25,162.55L619.86,162.55L619.47,162.55L619.08,162.55L618.69,162.55L618.3,162.55L617.91,162.55L617.52,162.55L617.13,162.55L616.74,162.55L616.35,162.55L615.96,162.55L615.57,162.55L615.18,162.55L614.79,162.55L614.4,162.55L614.01,162.55L613.62,162.55L613.23,162.55L612.84,162.55L612.45,162.55L612.06,162.55L611.67,162.55L611.28,162.55L610.89,162.55L610.5,162.55L610.11,162.55L609.72,162.55L609.33,162.55L608.94,162.55L608.55,162.55L608.16,162.55L607.77,162.55L607.38,162.55L606.99,162.55L606.6,162.55L606.21,162.55L605.82,162.55L605.42,162.55L605.03,162.55L604.64,162.55L604.25,162.55L603.86,162.55L603.47,162.55L603.08,162.55L602.69,162.55L602.3,162.55L601.91,162.55L601.52,162.55L601.13,162.55L600.74,162.55L600.35,162.55L599.96,162.55L599.57,162.55L599.18,162.55L598.79,162.55L598.4,162.55L598.01,162.55L597.62,162.55L597.23,152L596.84,152L596.45,152L596.06,152L595.67,152L595.28,152L594.89,152L594.5,152L594.11,152L593.72,152L593.33,152L592.94,152L592.55,152L592.16,152L591.77,152L591.38,152L590.99,152L590.6,152L590.21,152L589.82,152L589.42,152L589.03,152L588.64,152L588.25,152L587.86,152L587.47,152L587.08,152L586.69,152L586.3,152L585.91,152L585.52,152L585.13,152L584.74,152L584.35,152L583.96,152L583.57,152L583.18,152L582.79,152L582.4,152L582.01,152L581.62,152L581.23,152L580.84,152L580.45,152L580.06,152L579.67,152L579.28,152L578.89,152L578.5,152L578.11,152L577.72,152L577.33,152L576.94,152L576.55,152L576.16,152L575.77,152L575.38,152L574.99,152L574.6,152L574.21,152L573.82,152L573.43,152L573.03,152L572.64,152L572.25,162.6L571.86,162.6L571.47,162.6L571.08,162.6L570.69,162.6L570.3,162.6L569.91,162.6L569.52,162.6L569.13,162.6L568.74,162.6L568.35,162.6L567.96,162.6L567.57,162.6L567.18,162.6L566.79,162.6L566.4,162.6L566.01,162.6L565.62,162.6L565.23,162.6L564.84,162.6L564.45,162.6L564.06,162.6L563.67,162.6L563.28,162.6L562.89,162.6L562.5,162.6L562.11,162.6L561.72,162.6L561.33,162.6L560.94,162.6L560.55,162.6L560.16,162.6L559.77,162.6L559.38,162.6L558.99,162.6L558.6,162.6L558.21,162.6L557.82,162.6L557.43,162.6L557.04,162.6L556.64,162.6L556.25,162.6L555.86,162.6L555.47,162.6L555.08,162.6L554.69,162.6L554.3,162.6L553.91,162.6L553.52,162.6L553.13,162.6L552.74,162.6L552.35,162.6L551.96,162.6L551.57,162.6L551.18,162.6L550.79,162.6L550.4,162.6L550.01,162.6L549.62,162.6L549.23,162.6L548.84,162.6L548.45,162.6L548.06,162.6L547.67,162.6L547.28,162.6L546.89,162.6L546.5,162.59L546.11,162.58L545.72,162.58L545.33,162.57L544.94,162.56L544.55,152L544.16,152L543.77,152L543.38,152L542.99,152L542.6,152L542.21,152L541.82,152L541.43,152L541.04,152L540.64,152L540.25,152L539.86,152L539.47,152L539.08,152L538.69,152L538.3,152L537.91,152L537.52,152L537.13,152L536.74,152L536.35,152L535.96,152L535.57,152L535.18,152L534.79,152L534.4,152L534.01,152L533.62,152L533.23,152L532.84,152L532.45,152L532.06,152L531.67,152L531.28,152L530.89,152L530.5,152L530.11,152L529.72,152L529.33,152L528.94,152L528.55,152L528.16,152L527.77,152L527.38,152L526.99,152L526.6,152L526.21,152L525.82,152L525.43,152L525.04,152L524.65,152L524.25,152L523.86,152L523.47,152L523.08,152L522.69,152L522.3,152L521.91,152L521.52,152L521.13,152L520.74,152L520.35,152L519.96,152L519.57,152L519.18,152L518.79,152L518.4,152L518.01,152L517.62,152L517.23,152L516.84,152L516.45,152L516.06,152L515.67,152L515.28,152L514.89,152L514.5,152L514.11,152L513.72,152L513.33,152L512.94,152L512.55,161.05L512.16,161.04L511.77,161.03L511.38,161.02L510.99,161L510.6,160.99L510.21,160.98L509.82,160.97L509.43,160.96L509.04,160.95L508.65,160.94L508.26,160.93L507.86,160.92L507.47,160.91L507.08,160.9L506.69,160.89L506.3,160.88L505.91,160.87L505.52,160.85L505.13,160.84L504.74,160.83L504.35,160.82L503.96,160.81L503.57,160.8L503.18,160.79L502.79,160.78L502.4,160.77L502.01,160.76L501.62,160.75L501.23,160.74L500.84,160.73L500.45,160.72L500.06,160.7L499.67,160.69L499.28,160.68L498.89,160.67L498.5,160.66L498.11,160.65L497.72,160.64L497.33,160.63L496.94,160.62L496.55,160.61L496.16,160.6L495.77,160.59L495.38,160.58L494.99,160.57L494.6,160.55L494.21,160.54L493.82,160.53L493.43,160.52L493.04,160.51L492.65,160.5L492.26,160.49L491.86,160.48L491.47,160.47L491.08,160.46L490.69,160.45L490.3,160.44L489.91,160.43L489.52,160.42L489.13,160.4L488.74,160.39L488.35,160.38L487.96,160.37L487.57,160.36L487.18,160.35L486.79,160.34L486.4,160.33L486.01,160.32L485.62,160.31L485.23,160.3L484.84,160.29L484.45,160.28L484.06,160.27L483.67,160.25L483.28,160.24L482.89,160.23L482.5,160.22L482.11,160.21L481.72,160.2L481.33,160.19L480.94,160.18L480.55,160.17L480.16,160.16L479.77,160.15L479.38,160.14L478.99,160.13L478.6,160.12L478.21,160.1L477.82,160.09L477.43,160.08L477.04,160.07L476.65,160.06L476.26,160.05L475.87,160.04L475.47,152L475.08,152L474.69,152L474.3,152L473.91,152L473.52,152L473.13,152L472.74,152L472.35,152L471.96,152L471.57,152L471.18,152L470.79,152L470.4,152L470.01,152L469.62,152L469.23,152L468.84,152L468.45,152L468.06,152L467.67,152L467.28,152L466.89,152L466.5,152L466.11,152L465.72,152L465.33,152L464.94,152L464.55,152L464.16,152L463.77,161.41L463.38,161.46L462.99,161.5L462.6,161.53L462.21,161.49L461.82,161.44L461.43,161.4L461.04,161.35L460.65,161.31L460.26,161.26L459.87,161.22L459.48,161.17L459.08,161.13L458.69,161.08L458.3,161.04L457.91,160.99L457.52,160.95L457.13,160.9L456.74,160.86L456.35,160.81L455.96,160.77L455.57,160.72L455.18,160.68L454.79,160.63L454.4,160.59L454.01,160.54L453.62,160.49L453.23,160.45L452.84,160.4L452.45,160.36L452.06,160.31L451.67,160.27L451.28,160.22L450.89,160.18L450.5,160.13L450.11,160.09L449.72,152L449.33,152L448.94,152L448.55,152L448.16,152L447.77,152L447.38,152L446.99,152L446.6,152L446.21,152L445.82,152L445.43,152L445.04,152L444.65,152L444.26,152L443.87,152L443.48,152L443.08,152L442.69,152L442.3,152L441.91,152L441.52,152L441.13,152L440.74,152L440.35,152L439.96,152L439.57,152L439.18,152L438.79,152L438.4,152L438.01,161.23L437.62,161.27L437.23,161.31L436.84,161.35L436.45,161.39L436.06,161.43L435.67,161.47L435.28,161.52L434.89,161.56L434.5,161.6L434.11,161.64L433.72,161.68L433.33,161.72L432.94,161.76L432.55,161.8L432.16,161.84L431.77,161.88L431.38,161.92L430.99,161.96L430.6,162L430.21,162.04L429.82,161.89L429.43,161.71L429.04,161.53L428.65,161.35L428.26,161.17L427.87,160.99L427.48,160.81L427.09,160.63L426.69,160.4L426.3,160.11L425.91,159.83L425.52,159.55L425.13,159.26L424.74,158.98L424.35,158.7L423.96,158.41L423.57,158.13L423.18,157.85L422.79,157.56L422.4,157.28L422.01,157L421.62,156.71L421.23,156.43L420.84,156.15L420.45,155.86L420.06,155.64L419.67,155.43L419.28,155.22L418.89,155.02L418.5,154.81L418.11,154.6L417.72,154.39L417.33,154.18L416.94,153.97L416.55,153.76L416.16,153.55L415.77,153.34L415.38,153.18L414.99,153.11L414.6,153.04L414.21,152.96L413.82,152.89L413.43,152.82L413.04,152.75L412.65,152.67L412.26,152.6L411.87,152.53L411.48,152.46L411.09,152.39L410.7,152.31L410.3,152.3L409.91,152.29L409.52,152.28L409.13,152.27L408.74,152.27L408.35,152.26L407.96,152.25L407.57,152.24L407.18,152.24L406.79,152.23L406.4,152.22L406.01,152.22L405.62,152.21L405.23,152.2L404.84,152.19L404.45,152.19L404.06,152.18L403.67,152.17L403.28,152.17L402.89,152.16L402.5,152.15Z" fill="#0000ff" fill-opacity="1" stroke="none"/>
<path clip-path="url(#cp3)" d="M402.5,152L402.57,151.95L402.63,151.9L402.7,151.85L402.76,151.81L402.83,151.78L402.89,151.76L402.96,151.76L403.02,151.76L403.09,151.78L403.15,151.81L403.22,151.86L403.28,151.91L403.35,151.97L403.41,152.02L403.48,152.08L403.54,152.14L403.61,152.18L403.67,152.22L403.74,152.25L403.8,152.26L403.87,152.26L403.93,152.24L404,152.21L404.06,152.17L404.13,152.13L404.19,152.07L404.26,152.01L404.32,151.95L404.39,151.89L404.45,151.84L404.52,151.79L404.58,151.76L404.65,151.74L404.71,151.73L404.78,151.73L404.84,151.75L404.91,151.79L404.97,151.83L405.04,151.89L405.1,151.95L405.17,152.02L405.23,152.08L405.3,152.15L405.36,152.21L405.43,152.26L405.49,152.29L405.56,152.31L405.62,152.32L405.69,152.31L405.75,152.28L405.82,152.23L405.88,152.17L405.95,152.1L406.01,152.03L406.08,151.95L406.14,151.87L406.21,151.8L406.27,151.74L406.34,151.69L406.4,151.66L406.47,151.65L406.53,151.66L406.6,151.68L406.66,151.73L406.73,151.78L406.79,151.85L406.86,151.93L406.92,152.01L406.99,152.08L407.05,152.15L407.12,152.22L407.18,152.27L407.25,152.3L407.31,152.32L407.38,152.32L407.44,152.3L407.51,152.27L407.57,152.23L407.64,152.17L407.7,152.11L407.77,152.04L407.83,151.97L407.9,151.9L407.96,151.84L408.03,151.78L408.09,151.74L408.16,151.71L408.22,151.7L408.29,151.7L408.35,151.72L408.42,151.75L408.48,151.8L408.55,151.85L408.61,151.92L408.68,151.99L408.74,152.07L408.81,152.14L408.87,152.2L408.94,152.26L409,152.31L409.07,152.34L409.13,152.35L409.2,152.34L409.26,152.32L409.33,152.27L409.39,152.21L409.46,152.14L409.52,152.06L409.59,151.97L409.65,151.89L409.72,151.8L409.78,151.73L409.85,151.67L409.91,151.63L409.98,151.6L410.04,151.6L410.11,151.62L410.17,151.66L410.24,151.72L410.3,151.8L410.37,151.88L410.43,151.97L410.5,152.07L410.56,152.16L410.63,152.24L410.7,152.32L410.76,152.38L410.83,152.43L410.89,152.46L410.96,152.46L411.02,152.44L411.09,152.39L411.15,152.31L411.22,152.22L411.28,152.11L411.35,151.98L411.41,151.85L411.48,151.72L411.54,151.6L411.61,151.49L411.67,151.41L411.74,151.35L411.8,151.32L411.87,151.33L411.93,151.38L412,151.47L412.06,151.59L412.13,151.74L412.19,151.91L412.26,152.11L412.32,152.3L412.39,152.5L412.45,152.68L412.52,152.83L412.58,152.95L412.65,153.02L412.71,153.03L412.78,152.99L412.84,152.89L412.91,152.73L412.97,152.53L413.04,152.28L413.1,152.01L413.17,151.73L413.23,151.44L413.3,151.18L413.36,150.96L413.43,150.78L413.49,150.67L413.56,150.62L413.62,150.65L413.69,150.76L413.75,150.94L413.82,151.18L413.88,151.47L413.95,151.79L414.01,152.13L414.08,152.46L414.14,152.77L414.21,153.04L414.27,153.26L414.34,153.41L414.4,153.49L414.47,153.49L414.53,153.4L414.6,153.25L414.66,153.02L414.73,152.74L414.79,152.42L414.86,152.08L414.92,151.73L414.99,151.39L415.05,151.08L415.12,150.82L415.18,150.61L415.25,150.48L415.31,150.42L415.38,150.45L415.44,150.56L415.51,150.75L415.57,150.99L415.64,151.3L415.7,151.67L415.77,152.08L415.83,152.51L415.9,152.94L415.96,153.34L416.03,153.69L416.09,153.97L416.16,154.15L416.22,154.22L416.29,154.16L416.35,153.99L416.42,153.69L416.48,153.29L416.55,152.79L416.61,152.23L416.68,151.63L416.74,151.03L416.81,150.46L416.87,149.96L416.94,149.55L417,149.27L417.07,149.13L417.13,149.15L417.2,149.32L417.26,149.64L417.33,150.1L417.39,150.67L417.46,151.32L417.52,152.02L417.59,152.71L417.65,153.38L417.72,153.98L417.78,154.47L417.85,154.83L417.91,155.05L417.98,155.1L418.04,154.99L418.11,154.71L418.17,154.3L418.24,153.76L418.3,153.12L418.37,152.41L418.43,151.68L418.5,150.95L418.56,150.26L418.63,149.65L418.69,149.15L418.76,148.79L418.83,148.59L418.89,148.56L418.96,148.71L419.02,149.04L419.09,149.55L419.15,150.2L419.22,150.99L419.28,151.86L419.35,152.78L419.41,153.71L419.48,154.58L419.54,155.36L419.61,155.98L419.67,156.42L419.74,156.64L419.8,156.61L419.87,156.32L419.93,155.78L420,155L420.06,154.03L420.13,152.9L420.19,151.68L420.26,150.43L420.32,149.22L420.39,148.13L420.45,147.21L420.52,146.52L420.58,146.11L420.65,146.01L420.71,146.25L420.78,146.8L420.84,147.66L420.91,148.77L420.97,150.08L421.04,151.52L421.1,153L421.17,154.46L421.23,155.8L421.3,156.95L421.36,157.85L421.43,158.44L421.49,158.7L421.56,158.59L421.62,158.14L421.69,157.35L421.75,156.27L421.82,154.94L421.88,153.45L421.95,151.86L422.01,150.25L422.08,148.71L422.14,147.32L422.21,146.15L422.27,145.27L422.34,144.72L422.4,144.55L422.47,144.77L422.53,145.39L422.6,146.37L422.66,147.69L422.73,149.28L422.79,151.06L422.86,152.95L422.92,154.85L422.99,156.66L423.05,158.28L423.12,159.6L423.18,160.55L423.25,161.07L423.31,161.1L423.38,160.64L423.44,159.69L423.51,158.29L423.57,156.51L423.64,154.44L423.7,152.2L423.77,149.9L423.83,147.67L423.9,145.65L423.96,143.95L424.03,142.67L424.09,141.88L424.16,141.64L424.22,141.97L424.29,142.84L424.35,144.21L424.42,145.99L424.48,148.1L424.55,150.4L424.61,152.77L424.68,155.08L424.74,157.2L424.81,159.02L424.87,160.44L424.94,161.39L425,161.83L425.07,161.74L425.13,161.14L425.2,160.06L425.26,158.58L425.33,156.77L425.39,154.73L425.46,152.57L425.52,150.4L425.59,148.32L425.65,146.45L425.72,144.87L425.78,143.66L425.85,142.88L425.91,142.57L425.98,142.75L426.04,143.42L426.11,144.55L426.17,146.08L426.24,147.95L426.3,150.08L426.37,152.35L426.43,154.66L426.5,156.88L426.56,158.89L426.63,160.59L426.69,161.88L426.76,162.66L426.82,162.89L426.89,162.53L426.96,161.57L427.02,160.07L427.09,158.1L427.15,155.76L427.22,153.17L427.28,150.47L427.35,147.81L427.41,145.34L427.48,143.2L427.54,141.52L427.61,140.39L427.67,139.89L427.74,140.04L427.8,140.84L427.87,142.24L427.93,144.17L428,146.52L428.06,149.16L428.13,151.94L428.19,154.71L428.26,157.32L428.32,159.64L428.39,161.53L428.45,162.9L428.52,163.69L428.58,163.85L428.65,163.39L428.71,162.33L428.78,160.73L428.84,158.68L428.91,156.28L428.97,153.65L429.04,150.93L429.1,148.25L429.17,145.75L429.23,143.54L429.3,141.76L429.36,140.46L429.43,139.62L429.49,139.26L429.56,139.47L429.62,140.33L429.69,141.93L429.75,144.3L429.82,147.42L429.88,151.2L429.95,155.45L430.01,159.9L430.08,164.24L430.14,168.12L430.21,171.13L430.27,173.07L430.34,173.75L430.4,173.12L430.47,171.23L430.53,168.25L430.6,164.44L430.66,160.09L430.73,155.52L430.79,151.05L430.86,146.91L430.92,143.31L430.99,140.37L431.05,138.16L431.12,136.69L431.18,135.96L431.25,135.96L431.31,136.78L431.38,138.41L431.44,140.77L431.51,143.71L431.57,147.07L431.64,150.66L431.7,154.27L431.77,157.7L431.83,160.78L431.9,163.34L431.96,165.24L432.03,166.41L432.09,166.8L432.16,166.39L432.22,165.23L432.29,163.4L432.35,161L432.42,158.17L432.48,155.07L432.55,151.86L432.61,148.7L432.68,145.76L432.74,143.18L432.81,141.09L432.87,139.58L432.94,138.74L433,138.59L433.07,139.14L433.13,140.36L433.2,142.16L433.26,144.42L433.33,147.1L433.39,150.18L433.46,153.59L433.52,157.23L433.59,160.92L433.65,164.43L433.72,167.52L433.78,169.92L433.85,171.39L433.91,171.74L433.98,170.88L434.04,168.84L434.11,165.72L434.17,161.77L434.24,157.28L434.3,152.6L434.37,148.09L434.43,144.06L434.5,140.76L434.56,138.35L434.63,136.9L434.69,136.4L434.76,136.75L434.82,137.85L434.89,139.53L434.95,141.68L435.02,144.17L435.09,146.91L435.15,149.85L435.22,152.84L435.28,155.71L435.35,158.31L435.41,160.51L435.48,162.2L435.54,163.31L435.61,163.79L435.67,163.64L435.74,162.89L435.8,161.58L435.87,159.81L435.93,157.67L436,155.29L436.06,152.77L436.13,150.26L436.19,147.87L436.26,145.72L436.32,143.91L436.39,142.53L436.45,141.64L436.52,141.28L436.58,141.48L436.65,142.23L436.71,143.5L436.78,145.22L436.84,147.33L436.91,149.72L436.97,152.28L437.04,154.9L437.1,157.52L437.17,160.08L437.23,162.48L437.3,164.57L437.36,166.19L437.43,167.15L437.49,167.29L437.56,166.48L437.62,164.66L437.69,161.89L437.75,158.3L437.82,154.12L437.88,149.66L437.95,145.32L438.01,141.48L438.08,138.43L438.14,136.4L438.21,135.51L438.27,140.33L438.34,141.09L438.4,142.69L438.47,145.06L438.53,148.01L438.6,151.37L438.66,154.92L438.73,158.46L438.79,161.79L438.86,164.78L438.92,167.31L438.99,169.32L439.05,170.8L439.12,171.77L439.18,172.28L439.25,172.39L439.31,172.16L439.38,171.67L439.44,170.96L439.51,170.07L439.57,169L439.64,167.81L439.7,166.58L439.77,165.38L439.83,164.28L439.9,163.32L439.96,162.55L440.03,162L440.09,161.68L440.16,161.62L440.22,161.8L440.29,162.2L440.35,162.78L440.42,163.47L440.48,164.22L440.55,164.94L440.61,165.56L440.68,165.99L440.74,166.17L440.81,166.01L440.87,165.47L440.94,164.51L441,163.12L441.07,161.31L441.13,159.11L441.2,156.57L441.26,153.76L441.33,150.78L441.39,147.72L441.46,144.7L441.52,141.82L441.59,139.19L441.65,136.89L441.72,134.99L441.78,133.56L441.85,132.62L441.91,132.17L441.98,132.19L442.04,132.64L442.11,133.46L442.17,134.56L442.24,135.87L442.3,137.29L442.37,138.74L442.43,140.15L442.5,141.46L442.56,142.65L442.63,143.64L442.69,144.42L442.76,144.97L442.82,145.31L442.89,145.45L442.95,145.44L443.02,145.34L443.08,145.19L443.15,145.07L443.22,145.03L443.28,145.13L443.35,145.43L443.41,145.95L443.48,146.75L443.54,147.82L443.61,149.18L443.67,150.81L443.74,152.69L443.8,154.79L443.87,157.04L443.93,159.39L444,161.77L444.06,164.09L444.13,166.28L444.19,168.25L444.26,169.94L444.32,171.25L444.39,172.14L444.45,172.55L444.52,172.49L444.58,171.99L444.65,171.08L444.71,169.79L444.78,168.16L444.84,166.28L444.91,164.22L444.97,162.06L445.04,159.89L445.1,157.79L445.17,155.85L445.23,154.12L445.3,152.65L445.36,151.48L445.43,150.62L445.49,150.06L445.56,149.77L445.62,149.71L445.69,149.82L445.75,150.05L445.82,150.31L445.88,150.54L445.95,150.66L446.01,150.63L446.08,150.38L446.14,149.89L446.21,149.14L446.27,148.13L446.34,146.86L446.4,145.36L446.47,143.68L446.53,141.87L446.6,139.99L446.66,138.1L446.73,136.28L446.79,134.59L446.86,133.1L446.92,131.88L446.99,130.96L447.05,130.41L447.12,130.24L447.18,130.47L447.25,131.08L447.31,132.05L447.38,133.36L447.44,134.95L447.51,136.76L447.57,138.73L447.64,140.77L447.7,142.82L447.77,144.78L447.83,146.59L447.9,148.17L447.96,149.46L448.03,150.43L448.09,151.04L448.16,151.3L448.22,151.22L448.29,150.82L448.35,150.17L448.42,149.34L448.48,148.38L448.55,147.4L448.61,146.48L448.68,145.68L448.74,145.04L448.81,144.55L448.87,144.26L448.94,144.21L449,144.45L449.07,145.06L449.13,146.12L449.2,147.63L449.26,149.53L449.33,151.74L449.39,154.16L449.46,156.61L449.52,158.94L449.59,160.99L449.65,162.57L449.72,163.6L449.78,163.96L449.85,163.6L449.91,162.55L449.98,160.94L450.04,158.87L450.11,156.47L450.17,153.86L450.24,151.19L450.3,148.58L450.37,146.16L450.43,144.07L450.5,142.41L450.56,141.25L450.63,140.65L450.69,140.65L450.76,141.24L450.82,142.41L450.89,144.08L450.95,146.18L451.02,148.61L451.08,151.24L451.15,153.94L451.21,156.56L451.28,158.97L451.35,161.04L451.41,162.65L451.48,163.71L451.54,164.14L451.61,163.94L451.67,163.08L451.74,161.62L451.8,159.62L451.87,157.2L451.93,154.49L452,151.62L452.06,148.77L452.13,146.1L452.19,143.74L452.26,141.84L452.32,140.49L452.39,139.74L452.45,139.64L452.52,140.18L452.58,141.34L452.65,143.07L452.71,145.27L452.78,147.85L452.84,150.67L452.91,153.58L452.97,156.42L453.04,159.02L453.1,161.23L453.17,162.91L453.23,163.98L453.3,164.36L453.36,164.04L453.43,163.07L453.49,161.51L453.56,159.49L453.62,157.15L453.69,154.64L453.75,152.11L453.82,149.69L453.88,147.5L453.95,145.63L454.01,144.13L454.08,143.05L454.14,142.4L454.21,142.21L454.27,142.53L454.34,143.34L454.4,144.61L454.47,146.28L454.53,148.28L454.6,150.52L454.66,152.88L454.73,155.24L454.79,157.49L454.86,159.5L454.92,161.16L454.99,162.36L455.05,163.04L455.12,163.13L455.18,162.63L455.25,161.53L455.31,159.89L455.38,157.78L455.44,155.3L455.51,152.6L455.57,149.82L455.64,147.11L455.7,144.62L455.77,142.51L455.83,140.88L455.9,139.85L455.96,139.47L456.03,139.77L456.09,140.73L456.16,142.25L456.22,144.26L456.29,146.71L456.35,149.53L456.42,152.62L456.48,155.86L456.55,159.09L456.61,162.13L456.68,164.77L456.74,166.81L456.81,168.08L456.87,168.45L456.94,167.85L457,166.3L457.07,163.89L457.13,160.79L457.2,157.23L457.26,153.47L457.33,149.77L457.39,146.38L457.46,143.49L457.52,141.24L457.59,139.7L457.65,138.9L457.72,138.78L457.78,139.3L457.85,140.38L457.91,141.94L457.98,143.94L458.04,146.35L458.11,149.1L458.17,152.07L458.24,155.09L458.3,158.01L458.37,160.68L458.43,162.93L458.5,164.65L458.56,165.71L458.63,166.05L458.69,165.64L458.76,164.47L458.82,162.61L458.89,160.14L458.95,157.19L459.02,153.92L459.08,150.51L459.15,147.15L459.21,144.04L459.28,141.34L459.34,139.21L459.41,137.78L459.48,137.11L459.54,137.26L459.61,138.21L459.67,139.89L459.74,142.21L459.8,145.03L459.87,148.18L459.93,151.49L460,154.81L460.06,158.02L460.13,161.02L460.19,163.7L460.26,165.92L460.32,167.52L460.39,168.36L460.45,168.33L460.52,167.35L460.58,165.42L460.65,162.62L460.71,159.1L460.78,155.1L460.84,150.9L460.91,146.8L460.97,143.09L461.04,140.04L461.1,137.83L461.17,136.57L461.23,136.27L461.3,136.87L461.36,138.25L461.43,140.24L461.49,142.67L461.56,145.37L461.62,148.21L461.69,151.07L461.75,153.89L461.82,156.6L461.88,159.11L461.95,161.27L462.01,162.96L462.08,164.09L462.14,164.58L462.21,164.41L462.27,163.56L462.34,162.08L462.4,160.04L462.47,157.54L462.53,154.73L462.6,151.74L462.66,148.74L462.73,145.92L462.79,143.43L462.86,141.41L462.92,139.96L462.99,139.17L463.05,139.08L463.12,139.68L463.18,140.95L463.25,142.79L463.31,145.09L463.38,147.74L463.44,150.57L463.51,153.43L463.57,156.26L463.64,158.9L463.7,161.24L463.77,163.15L463.83,164.57L463.9,165.44L463.96,165.7L464.03,165.37L464.09,164.53L464.16,163.31L464.22,161.86L464.29,160.33L464.35,158.87L464.42,157.61L464.48,156.64L464.55,156.04L464.61,155.83L464.68,156.02L464.74,156.6L464.81,157.51L464.87,158.71L464.94,160.13L465,161.74L465.07,163.47L465.13,165.32L465.2,167.25L465.26,169.21L465.33,171.11L465.39,172.87L465.46,174.4L465.52,175.61L465.59,176.45L465.65,176.83L465.72,176.72L465.78,176.11L465.85,175.01L465.91,173.46L465.98,171.51L466.04,169.24L466.11,166.74L466.17,164.11L466.24,161.46L466.3,158.89L466.37,156.49L466.43,154.36L466.5,152.55L466.56,151.12L466.63,150.08L466.69,149.43L466.76,149.14L466.82,149.17L466.89,149.44L466.95,149.87L467.02,150.37L467.08,150.86L467.15,151.23L467.21,151.41L467.28,151.34L467.34,150.96L467.41,150.25L467.47,149.19L467.54,147.81L467.61,146.12L467.67,144.2L467.74,142.09L467.8,139.89L467.87,137.67L467.93,135.53L468,133.56L468.06,131.84L468.13,130.45L468.19,129.45L468.26,128.94L468.32,128.96L468.39,129.51L468.45,130.58L468.52,132.14L468.58,134.13L468.65,136.48L468.71,139.11L468.78,141.94L468.84,144.88L468.91,147.81L468.97,150.65L469.04,153.31L469.1,155.71L469.17,157.78L469.23,159.48L469.3,160.79L469.36,161.7L469.43,162.24L469.49,162.42L469.56,162.33L469.62,162.01L469.69,161.56L469.75,161.05L469.82,160.57L469.88,160.18L469.95,159.95L470.01,159.92L470.08,160.11L470.14,160.53L470.21,161.14L470.27,161.93L470.34,162.9L470.4,163.99L470.47,165.13L470.53,166.23L470.6,167.22L470.66,168.01L470.73,168.54L470.79,168.76L470.86,168.62L470.92,168.1L470.99,167.19L471.05,165.9L471.12,164.28L471.18,162.35L471.25,160.18L471.31,157.83L471.38,155.37L471.44,152.87L471.51,150.4L471.57,148.04L471.64,145.83L471.7,143.84L471.77,142.1L471.83,140.65L471.9,139.51L471.96,138.67L472.03,138.15L472.09,137.91L472.16,137.93L472.22,138.16L472.29,138.57L472.35,139.09L472.42,139.66L472.48,140.23L472.55,140.74L472.61,141.14L472.68,141.38L472.74,141.44L472.81,141.3L472.87,140.96L472.94,140.41L473,139.69L473.07,138.82L473.13,137.87L473.2,136.89L473.26,135.97L473.33,135.16L473.39,134.56L473.46,134.2L473.52,134.16L473.59,134.47L473.65,135.13L473.72,136.16L473.78,137.53L473.85,139.21L473.91,141.12L473.98,143.21L474.04,145.4L474.11,147.59L474.17,149.71L474.24,151.67L474.3,153.4L474.37,154.84L474.43,155.94L474.5,156.69L474.56,157.12L474.63,157.23L474.69,156.97L474.76,156.32L474.82,155.29L474.89,153.89L474.95,152.23L475.02,150.4L475.08,148.48L475.15,146.59L475.21,144.84L475.28,143.38L475.34,142.32L475.41,141.76L475.47,141.78L475.54,142.43L475.6,143.67L475.67,145.46L475.74,147.63L475.8,150.09L475.87,152.78L475.93,155.64L476,158.55L476.06,161.39L476.13,163.98L476.19,166.14L476.26,167.68L476.32,168.41L476.39,168.2L476.45,166.98L476.52,164.76L476.58,161.62L476.65,157.74L476.71,153.38L476.78,148.83L476.84,144.41L476.91,140.45L476.97,137.21L477.04,134.91L477.1,133.69L477.17,133.57L477.23,134.52L477.3,136.39L477.36,139L477.43,142.13L477.49,145.54L477.56,149.01L477.62,152.35L477.69,155.41L477.75,158.09L477.82,160.3L477.88,162.02L477.95,163.22L478.01,163.85L478.08,163.83L478.14,163.2L478.21,161.98L478.27,160.27L478.34,158.16L478.4,155.77L478.47,153.23L478.53,150.67L478.6,148.22L478.66,146.01L478.73,144.14L478.79,142.69L478.86,141.75L478.92,141.34L478.99,141.5L479.05,142.2L479.12,143.41L479.18,145.07L479.25,147.1L479.31,149.39L479.38,151.84L479.44,154.31L479.51,156.68L479.57,158.83L479.64,160.63L479.7,161.99L479.77,162.83L479.83,163.1L479.9,162.77L479.96,161.87L480.03,160.42L480.09,158.51L480.16,156.23L480.22,153.71L480.29,151.08L480.35,148.44L480.42,145.86L480.48,143.45L480.55,141.31L480.61,139.59L480.68,138.41L480.74,137.91L480.81,138.18L480.87,139.29L480.94,141.24L481,143.95L481.07,147.29L481.13,151.06L481.2,155.01L481.26,158.84L481.33,162.3L481.39,165.13L481.46,167.13L481.52,168.18L481.59,168.24L481.65,167.35L481.72,165.63L481.78,163.26L481.85,160.45L481.91,157.42L481.98,154.38L482.04,151.52L482.11,148.96L482.17,146.8L482.24,145.07L482.3,143.78L482.37,142.91L482.43,142.46L482.5,142.4L482.56,142.78L482.63,143.66L482.69,144.99L482.76,146.71L482.82,148.76L482.89,151.02L482.95,153.4L483.02,155.77L483.08,158L483.15,159.97L483.21,161.56L483.28,162.68L483.34,163.26L483.41,163.23L483.47,162.59L483.54,161.36L483.6,159.59L483.67,157.35L483.73,154.78L483.8,152L483.87,149.17L483.93,146.45L484,143.99L484.06,141.94L484.13,140.41L484.19,139.51L484.26,139.28L484.32,139.73L484.39,140.86L484.45,142.59L484.52,144.82L484.58,147.44L484.65,150.28L484.71,153.21L484.78,156.04L484.84,158.67L484.91,161.01L484.97,162.99L485.04,164.53L485.1,165.52L485.17,165.87L485.23,165.51L485.3,164.38L485.36,162.46L485.43,159.79L485.49,156.48L485.56,152.69L485.62,148.64L485.69,144.6L485.75,140.84L485.82,137.63L485.88,135.21L485.95,133.76L486.01,133.39L486.08,134.09L486.14,135.81L486.21,138.4L486.27,141.65L486.34,145.31L486.4,149.13L486.47,152.87L486.53,156.32L486.6,159.31L486.66,161.73L486.73,163.5L486.79,164.62L486.86,165.09L486.92,164.94L486.99,164.2L487.05,162.92L487.12,161.08L487.18,158.74L487.25,156.01L487.31,153.05L487.38,150.03L487.44,147.1L487.51,144.44L487.57,142.2L487.64,140.5L487.7,139.42L487.77,139.04L487.83,139.36L487.9,140.36L487.96,141.97L488.03,144.09L488.09,146.6L488.16,149.35L488.22,152.18L488.29,154.94L488.35,157.48L488.42,159.66L488.48,161.37L488.55,162.55L488.61,163.13L488.68,163.12L488.74,162.52L488.81,161.38L488.87,159.78L488.94,157.82L489,155.6L489.07,153.24L489.13,150.87L489.2,148.6L489.26,146.54L489.33,144.79L489.39,143.39L489.46,142.31L489.52,141.6L489.59,141.31L489.65,141.52L489.72,142.3L489.78,143.7L489.85,145.75L489.91,148.42L489.98,151.63L490.04,155.21L490.11,158.95L490.17,162.59L490.24,165.86L490.3,168.47L490.37,170.21L490.43,170.89L490.5,170.44L490.56,168.87L490.63,166.3L490.69,162.92L490.76,159.01L490.82,154.86L490.89,150.78L490.95,147.04L491.02,143.86L491.08,141.4L491.15,139.73L491.21,138.88L491.28,138.77L491.34,139.34L491.41,140.46L491.47,142.03L491.54,143.96L491.6,146.17L491.67,148.63L491.73,151.25L491.8,153.89L491.86,156.4L491.93,158.66L492,160.53L492.06,161.94L492.13,162.8L492.19,163.09L492.26,162.78L492.32,161.91L492.39,160.53L492.45,158.72L492.52,156.56L492.58,154.17L492.65,151.67L492.71,149.2L492.78,146.86L492.84,144.78L492.91,143.07L492.97,141.82L493.04,141.08L493.1,140.91L493.17,141.32L493.23,142.3L493.3,143.81L493.36,145.79L493.43,148.14L493.49,150.76L493.56,153.5L493.62,156.23L493.69,158.8L493.75,161.06L493.82,162.9L493.88,164.18L493.95,164.93L494.01,165.16L494.08,164.82L494.14,163.8L494.21,162.05L494.27,159.51L494.34,156.19L494.4,152.19L494.47,147.66L494.53,142.87L494.6,138.14L494.66,133.84L494.73,130.34L494.79,127.96L494.86,126.97L494.92,127.49L494.99,129.53L495.05,132.96L495.12,137.51L495.18,142.82L495.25,148.47L495.31,154.01L495.38,159.05L495.44,163.25L495.51,166.39L495.57,168.36L495.64,169.16L495.7,168.88L495.77,167.72L495.83,165.87L495.9,163.54L495.96,160.94L496.03,158.19L496.09,155.4L496.16,152.6L496.22,149.85L496.29,147.25L496.35,144.93L496.42,143L496.48,141.56L496.55,140.68L496.61,140.39L496.68,140.71L496.74,141.61L496.81,143.07L496.87,144.99L496.94,147.28L497,149.84L497.07,152.53L497.13,155.21L497.2,157.74L497.26,159.99L497.33,161.83L497.39,163.17L497.46,163.92L497.52,164.04L497.59,163.52L497.65,162.37L497.72,160.65L497.78,158.45L497.85,155.89L497.91,153.11L497.98,150.27L498.04,147.51L498.11,145L498.17,142.87L498.24,141.25L498.3,140.21L498.37,139.82L498.43,140.09L498.5,140.91L498.56,142.18L498.63,143.92L498.69,146.15L498.76,148.88L498.82,152.07L498.89,155.64L498.95,159.44L499.02,163.23L499.08,166.75L499.15,169.7L499.21,171.81L499.28,172.82L499.34,172.59L499.41,171.06L499.47,168.28L499.54,164.46L499.6,159.86L499.67,154.86L499.73,149.84L499.8,145.19L499.86,141.23L499.93,138.21L499.99,136.29L500.06,135.49L500.13,135.73L500.19,136.88L500.26,138.72L500.32,141.04L500.39,143.63L500.45,146.33L500.52,149.01L500.58,151.61L500.65,154.12L500.71,156.52L500.78,158.76L500.84,160.7L500.91,162.23L500.97,163.24L501.04,163.68L501.1,163.48L501.17,162.66L501.23,161.23L501.3,159.27L501.36,156.86L501.43,154.13L501.49,151.24L501.56,148.33L501.62,145.57L501.69,143.13L501.75,141.14L501.82,139.73L501.88,138.97L501.95,138.91L502.01,139.56L502.08,140.89L502.14,142.82L502.21,145.25L502.27,148.03L502.34,151.01L502.4,154.03L502.47,156.92L502.53,159.52L502.6,161.7L502.66,163.35L502.73,164.37L502.79,164.73L502.86,164.41L502.92,163.43L502.99,161.87L503.05,159.86L503.12,157.5L503.18,154.78L503.25,151.72L503.31,148.35L503.38,144.93L503.44,141.72L503.51,138.89L503.57,136.67L503.64,135.29L503.7,134.96L503.77,135.86L503.83,138.06L503.9,141.52L503.96,146.1L504.03,151.49L504.09,157.32L504.16,163.15L504.22,168.66L504.29,173.46L504.35,177.2L504.42,179.64L504.48,180.64L504.55,180.19L504.61,178.41L504.68,175.5L504.74,171.74L504.81,167.42L504.87,162.83L504.94,158.24L505,153.84L505.07,149.78L505.13,146.15L505.2,143L505.26,140.26L505.33,138.04L505.39,136.5L505.46,135.69L505.52,135.63L505.59,136.29L505.65,137.61L505.72,139.46L505.78,141.74L505.85,144.27L505.91,146.9L505.98,149.46L506.04,151.82L506.11,153.83L506.17,155.41L506.24,156.47L506.3,157.05L506.37,157.17L506.43,156.83L506.5,156.08L506.56,154.97L506.63,153.59L506.69,152.03L506.76,150.4L506.82,148.81L506.89,147.35L506.95,146.13L507.02,145.22L507.08,144.67L507.15,144.52L507.21,144.78L507.28,145.44L507.34,146.46L507.41,147.78L507.47,149.4L507.54,151.26L507.6,153.25L507.67,155.33L507.73,157.52L507.8,159.82L507.86,162.15L507.93,164.38L507.99,166.31L508.06,167.71L508.12,168.35L508.19,168L508.26,166.51L508.32,163.81L508.39,159.96L508.45,155.13L508.52,149.62L508.58,143.83L508.65,138.19L508.71,133.2L508.78,129.58L508.84,127.57L508.91,127.25L508.97,128.55L509.04,131.29L509.1,135.15L509.17,139.73L509.23,144.58L509.3,149.23L509.36,153.34L509.43,157L509.49,160.12L509.56,162.63L509.62,164.5L509.69,165.78L509.75,166.53L509.82,166.81L509.88,166.57L509.95,165.71L510.01,164.27L510.08,162.34L510.14,159.99L510.21,157.34L510.27,154.52L510.34,151.66L510.4,148.9L510.47,146.36L510.53,144.18L510.6,142.47L510.66,141.3L510.73,140.69L510.79,140.66L510.86,141.24L510.92,142.39L510.99,144.07L511.05,146.21L511.12,148.71L511.18,151.45L511.25,154.28L511.31,157.07L511.38,159.66L511.44,161.9L511.51,163.67L511.57,164.85L511.64,165.36L511.7,165.16L511.77,164.23L511.83,162.61L511.9,160.38L511.96,157.65L512.03,154.56L512.09,151.28L512.16,147.96L512.22,144.69L512.29,142.1L512.35,139.63L512.42,137.6L512.48,136.11L512.55,135.24L512.61,135.01L512.68,135.4L512.74,136.4L512.81,137.89L512.87,139.61L512.94,141.34L513,142.84L513.07,143.92L513.13,144.46L513.2,144.39L513.26,143.7L513.33,142.45L513.39,140.75L513.46,138.72L513.52,136.51L513.59,134.27L513.65,132.12L513.72,130.15L513.78,128.42L513.85,126.97L513.91,125.79L513.98,124.94L514.04,124.44L514.11,124.34L514.17,124.66L514.24,125.41L514.3,126.59L514.37,128.19L514.43,130.19L514.5,132.55L514.56,135.21L514.63,138.13L514.69,141.24L514.76,144.46L514.82,147.72L514.89,150.94L514.95,154.05L515.02,156.99L515.08,159.7L515.15,162.13L515.21,164.25L515.28,166.05L515.34,167.52L515.41,168.68L515.47,169.56L515.54,170.2L515.6,170.64L515.67,170.95L515.73,171.17L515.8,171.35L515.86,171.55L515.93,171.79L515.99,172.1L516.06,172.48L516.12,172.91L516.19,173.39L516.25,173.93L516.32,174.51L516.39,175.08L516.45,175.59L516.52,175.99L516.58,176.21L516.65,176.21L516.71,175.95L516.78,175.38L516.84,174.5L516.91,173.28L516.97,171.73L517.04,169.88L517.1,167.75L517.17,165.38L517.23,162.82L517.3,160.12L517.36,157.33L517.43,154.52L517.49,151.75L517.56,149.06L517.62,146.51L517.69,144.13L517.75,141.97L517.82,140.04L517.88,138.37L517.95,136.96L518.01,135.8L518.08,134.89L518.14,134.2L518.21,133.7L518.27,133.36L518.34,133.12L518.4,132.95L518.47,132.79L518.53,132.61L518.6,132.37L518.66,132.03L518.73,131.59L518.79,131.03L518.86,130.36L518.92,129.62L518.99,128.8L519.05,127.93L519.12,127.06L519.18,126.24L519.25,125.54L519.31,125.02L519.38,124.74L519.44,124.75L519.51,125.09L519.57,125.8L519.64,126.88L519.7,128.32L519.77,130.11L519.83,132.19L519.9,134.53L519.96,137.05L520.03,139.68L520.09,142.35L520.16,144.98L520.22,147.52L520.29,149.89L520.35,152.05L520.42,153.95L520.48,155.59L520.55,156.96L520.61,158.06L520.68,158.91L520.74,159.56L520.81,160.04L520.87,160.41L520.94,160.72L521,161.03L521.07,161.39L521.13,161.85L521.2,162.47L521.26,163.26L521.33,164.27L521.39,165.49L521.46,166.94L521.52,168.58L521.59,170.4L521.65,172.36L521.72,174.39L521.78,176.45L521.85,178.45L521.91,180.33L521.98,182.02L522.04,183.44L522.11,184.54L522.17,185.26L522.24,185.57L522.3,185.4L522.37,184.68L522.43,183.44L522.5,181.71L522.56,179.58L522.63,177.12L522.69,174.42L522.76,171.56L522.82,168.66L522.89,165.79L522.95,163.04L523.02,160.48L523.08,158.15L523.15,156.09L523.21,154.31L523.28,152.82L523.34,151.57L523.41,150.55L523.47,149.69L523.54,148.93L523.6,148.23L523.67,147.51L523.73,146.73L523.8,145.84L523.86,144.8L523.93,143.62L523.99,142.27L524.06,140.79L524.12,139.2L524.19,137.54L524.25,135.87L524.32,134.27L524.38,132.78L524.45,131.51L524.52,130.42L524.58,129.51L524.65,128.82L524.71,128.39L524.78,128.25L524.84,128.42L524.91,128.91L524.97,129.72L525.04,130.83L525.1,132.23L525.17,133.86L525.23,135.7L525.3,137.69L525.36,139.76L525.43,141.87L525.49,143.95L525.56,145.93L525.62,147.77L525.69,149.43L525.75,150.86L525.82,152.05L525.88,152.98L525.95,153.66L526.01,154.12L526.08,154.39L526.14,154.51L526.21,154.54L526.27,154.54L526.34,154.57L526.4,154.7L526.47,154.98L526.53,155.46L526.6,156.17L526.66,157.13L526.73,158.34L526.79,159.78L526.86,161.43L526.92,163.24L526.99,165.16L527.05,167.12L527.12,169.06L527.18,170.9L527.25,172.59L527.31,174.05L527.38,175.25L527.44,176.14L527.51,176.7L527.57,176.91L527.64,176.78L527.7,176.32L527.77,175.52L527.83,174.39L527.9,172.98L527.96,171.36L528.03,169.6L528.09,167.75L528.16,165.88L528.22,164.05L528.29,162.32L528.35,160.71L528.42,159.28L528.48,158.04L528.55,157.01L528.61,156.18L528.68,155.55L528.74,155.09L528.81,154.76L528.87,154.53L528.94,154.35L529,154.16L529.07,153.91L529.13,153.55L529.2,153.04L529.26,152.34L529.33,151.43L529.39,150.31L529.46,148.99L529.52,147.49L529.59,145.87L529.65,144.18L529.72,142.5L529.78,140.92L529.85,139.53L529.91,138.47L529.98,137.81L530.04,137.58L530.11,137.82L530.17,138.53L530.24,139.71L530.3,141.34L530.37,143.35L530.43,145.7L530.5,148.29L530.56,151.04L530.63,153.84L530.69,156.59L530.76,159.19L530.82,161.53L530.89,163.53L530.95,165.12L531.02,166.24L531.08,166.85L531.15,166.93L531.21,166.45L531.28,165.34L531.34,163.64L531.41,161.43L531.47,158.82L531.54,155.92L531.6,152.84L531.67,149.68L531.73,146.55L531.8,143.53L531.86,140.7L531.93,138.13L531.99,135.88L532.06,133.99L532.12,132.48L532.19,131.36L532.25,130.64L532.32,130.31L532.38,130.34L532.45,130.71L532.51,131.39L532.58,132.35L532.65,133.57L532.71,134.96L532.78,136.44L532.84,137.96L532.91,139.46L532.97,140.9L533.04,142.28L533.1,143.59L533.17,144.85L533.23,146.1L533.3,147.36L533.36,148.68L533.43,150.1L533.49,151.67L533.56,153.4L533.62,155.31L533.69,157.41L533.75,159.67L533.82,162.06L533.88,164.52L533.95,166.98L534.01,169.35L534.08,171.53L534.14,173.43L534.21,174.93L534.27,176.1L534.34,177.04L534.4,177.69L534.47,178.03L534.53,178.02L534.6,177.66L534.66,176.94L534.73,175.89L534.79,174.53L534.86,172.92L534.92,171.09L534.99,169.11L535.05,167.04L535.12,164.92L535.18,162.83L535.25,160.8L535.31,158.9L535.38,157.15L535.44,155.58L535.51,154.22L535.57,153.08L535.64,152.15L535.7,151.41L535.77,150.86L535.83,150.44L535.9,150.13L535.96,149.87L536.03,149.61L536.09,149.3L536.16,148.89L536.22,148.32L536.29,147.55L536.35,146.55L536.42,145.31L536.48,143.8L536.55,142.05L536.61,140.08L536.68,137.93L536.74,135.65L536.81,133.32L536.87,130.99L536.94,128.76L537,126.69L537.07,124.85L537.13,123.32L537.2,122.12L537.26,121.31L537.33,120.89L537.39,120.85L537.46,121.19L537.52,121.86L537.59,122.8L537.65,123.97L537.72,125.29L537.78,126.84L537.85,128.57L537.91,130.41L537.98,132.27L538.04,134.09L538.11,135.83L538.17,137.44L538.24,138.92L538.3,140.26L538.37,141.47L538.43,142.57L538.5,143.6L538.56,144.6L538.63,145.61L538.69,146.68L538.76,147.84L538.82,149.14L538.89,150.61L538.95,152.26L539.02,154.11L539.08,156.14L539.15,158.34L539.21,160.67L539.28,163.08L539.34,165.52L539.41,167.91L539.47,170.16L539.54,172.18L539.6,173.89L539.67,175.19L539.73,176.11L539.8,176.66L539.86,176.79L539.93,176.48L539.99,175.71L540.06,174.5L540.12,172.87L540.19,170.88L540.25,168.59L540.32,166.08L540.38,163.44L540.45,160.76L540.51,158.14L540.58,155.66L540.64,153.4L540.71,151.41L540.78,149.75L540.84,148.44L540.91,147.47L540.97,146.82L541.04,146.46L541.1,146.32L541.17,146.35L541.23,146.46L541.3,146.59L541.36,146.65L541.43,146.57L541.49,146.31L541.56,145.82L541.62,145.08L541.69,144.08L541.75,142.83L541.82,141.36L541.88,139.71L541.95,137.94L542.01,136.11L542.08,134.3L542.14,132.57L542.21,131L542.27,129.65L542.34,128.6L542.4,127.89L542.47,127.57L542.53,127.65L542.6,128.13L542.66,129L542.73,130.23L542.79,131.78L542.86,133.61L542.92,135.64L542.99,137.83L543.05,140.08L543.12,142.34L543.18,144.52L543.25,146.55L543.31,148.37L543.38,149.92L543.44,151.17L543.51,152.08L543.57,152.65L543.64,152.96L543.7,153L543.77,152.7L543.83,152.03L543.9,150.98L543.96,149.54L544.03,147.8L544.09,145.85L544.16,143.85L544.22,142.09L544.29,140.76L544.35,140.03L544.42,140.01L544.48,140.77L544.55,142.3L544.61,144.52L544.68,147.29L544.74,150.4L544.81,153.59L544.87,156.64L544.94,159.4L545,161.71L545.07,163.47L545.13,164.59L545.2,165.03L545.26,164.78L545.33,163.86L545.39,162.34L545.46,160.3L545.52,157.85L545.59,155.12L545.65,152.25L545.72,149.39L545.78,146.66L545.85,144.22L545.91,142.18L545.98,140.63L546.04,139.67L546.11,139.33L546.17,139.66L546.24,140.64L546.3,142.24L546.37,144.38L546.43,146.98L546.5,149.91L546.56,153.03L546.63,156.17L546.69,159.18L546.76,161.89L546.82,164.14L546.89,165.79L546.95,166.74L547.02,166.91L547.08,166.28L547.15,164.85L547.21,162.68L547.28,159.87L547.34,156.58L547.41,152.97L547.47,149.24L547.54,145.61L547.6,142.27L547.67,139.42L547.73,137.23L547.8,135.83L547.86,135.3L547.93,135.68L547.99,136.94L548.06,139.02L548.12,141.79L548.19,145.1L548.25,148.77L548.32,152.58L548.38,156.33L548.45,159.81L548.51,162.83L548.58,165.24L548.64,166.92L548.71,167.78L548.77,167.79L548.84,166.97L548.91,165.37L548.97,163.08L549.04,160.24L549.1,157L549.17,153.53L549.23,150.02L549.3,146.63L549.36,143.55L549.43,140.93L549.49,138.89L549.56,137.55L549.62,136.96L549.69,137.16L549.75,138.14L549.82,139.86L549.88,142.22L549.95,145.12L550.01,148.41L550.08,151.92L550.14,155.48L550.21,158.88L550.27,161.97L550.34,164.55L550.4,166.49L550.47,167.68L550.53,168.03L550.6,167.52L550.66,166.18L550.73,164.05L550.79,161.26L550.86,157.95L550.92,154.3L550.99,150.52L551.05,146.81L551.12,143.39L551.18,140.44L551.25,138.14L551.31,136.6L551.38,135.9L551.44,136.08L551.51,137.11L551.57,138.93L551.64,141.43L551.7,144.44L551.77,147.8L551.83,151.31L551.9,154.78L551.96,158.01L552.03,160.85L552.09,163.13L552.16,164.77L552.22,165.69L552.29,165.86L552.35,165.3L552.42,164.06L552.48,162.22L552.55,159.89L552.61,157.21L552.68,154.32L552.74,151.36L552.81,148.49L552.87,145.85L552.94,143.55L553,141.72L553.07,140.43L553.13,139.75L553.2,139.69L553.26,140.28L553.33,141.48L553.39,143.24L553.46,145.47L553.52,148.07L553.59,150.91L553.65,153.86L553.72,156.77L553.78,159.47L553.85,161.84L553.91,163.72L553.98,165.02L554.04,165.64L554.11,165.54L554.17,164.7L554.24,163.16L554.3,160.98L554.37,158.27L554.43,155.17L554.5,151.85L554.56,148.49L554.63,145.28L554.69,142.39L554.76,140L554.82,138.24L554.89,137.22L554.95,137L555.02,137.59L555.08,138.96L555.15,141.03L555.21,143.68L555.28,146.78L555.34,150.13L555.41,153.56L555.47,156.89L555.54,159.92L555.6,162.51L555.67,164.51L555.73,165.83L555.8,166.4L555.86,166.21L555.93,165.27L555.99,163.64L556.06,161.41L556.12,158.71L556.19,155.66L556.25,152.43L556.32,149.18L556.38,146.07L556.45,143.27L556.51,140.91L556.58,139.11L556.64,137.98L556.71,137.57L556.77,137.92L556.84,139.01L556.9,140.81L556.97,143.24L557.04,146.18L557.1,149.49L557.17,153L557.23,156.55L557.3,159.92L557.36,162.95L557.43,165.45L557.49,167.29L557.56,168.33L557.62,168.51L557.69,167.79L557.75,166.2L557.82,163.81L557.88,160.74L557.95,157.15L558.01,153.23L558.08,149.19L558.14,145.28L558.21,141.7L558.27,138.67L558.34,136.35L558.4,134.88L558.47,134.34L558.53,134.76L558.6,136.11L558.66,138.31L558.73,141.22L558.79,144.68L558.86,148.49L558.92,152.43L558.99,156.28L559.05,159.83L559.12,162.89L559.18,165.31L559.25,166.98L559.31,167.81L559.38,167.79L559.44,166.94L559.51,165.32L559.57,163.03L559.64,160.22L559.7,157.03L559.77,153.64L559.83,150.23L559.9,146.97L559.96,144.01L560.03,141.52L560.09,139.6L560.16,138.34L560.22,137.8L560.29,138.01L560.35,138.94L560.42,140.55L560.48,142.77L560.55,145.47L560.61,148.53L560.68,151.78L560.74,155.08L560.81,158.23L560.87,161.08L560.94,163.48L561,165.29L561.07,166.41L561.13,166.76L561.2,166.33L561.26,165.12L561.33,163.19L561.39,160.65L561.46,157.62L561.52,154.27L561.59,150.78L561.65,147.35L561.72,144.17L561.78,141.42L561.85,139.24L561.91,137.76L561.98,137.06L562.04,137.17L562.11,138.07L562.17,139.72L562.24,142L562.3,144.79L562.37,147.92L562.43,151.21L562.5,154.48L562.56,157.56L562.63,160.28L562.69,162.51L562.76,164.14L562.82,165.09L562.89,165.34L562.95,164.88L563.02,163.76L563.08,162.04L563.15,159.83L563.21,157.24L563.28,154.41L563.34,151.49L563.41,148.62L563.47,145.93L563.54,143.57L563.6,141.64L563.67,140.24L563.73,139.44L563.8,139.29L563.86,139.8L563.93,140.96L563.99,142.72L564.06,145L564.12,147.71L564.19,150.71L564.25,153.85L564.32,156.98L564.38,159.93L564.45,162.54L564.51,164.64L564.58,166.13L564.64,166.88L564.71,166.85L564.77,166L564.84,164.37L564.9,162.02L564.97,159.07L565.03,155.67L565.1,152L565.17,148.26L565.23,144.67L565.3,141.42L565.36,138.72L565.43,136.7L565.49,135.51L565.56,135.21L565.62,135.81L565.69,137.3L565.75,139.58L565.82,142.53L565.88,145.98L565.95,149.74L566.01,153.59L566.08,157.33L566.14,160.75L566.21,163.67L566.27,165.94L566.34,167.44L566.4,168.11L566.47,167.91L566.53,166.88L566.6,165.07L566.66,162.59L566.73,159.58L566.79,156.2L566.86,152.63L566.92,149.05L566.99,145.64L567.05,142.58L567.12,140.01L567.18,138.08L567.25,136.88L567.31,136.46L567.38,136.87L567.44,138.07L567.51,140.01L567.57,142.6L567.64,145.72L567.7,149.21L567.77,152.89L567.83,156.56L567.9,160.05L567.96,163.15L568.03,165.69L568.09,167.53L568.16,168.56L568.22,168.71L568.29,167.96L568.35,166.34L568.42,163.93L568.48,160.85L568.55,157.27L568.61,153.38L568.68,149.41L568.74,145.57L568.81,142.08L568.87,139.14L568.94,136.9L569,135.5L569.07,135L569.13,135.42L569.2,136.73L569.26,138.84L569.33,141.63L569.39,144.92L569.46,148.53L569.52,152.24L569.59,155.86L569.65,159.18L569.72,162.03L569.78,164.28L569.85,165.82L569.91,166.59L569.98,166.56L570.04,165.77L570.11,164.28L570.17,162.19L570.24,159.62L570.3,156.71L570.37,153.63L570.43,150.52L570.5,147.55L570.56,144.86L570.63,142.57L570.69,140.8L570.76,139.62L570.82,139.09L570.89,139.23L570.95,140.03L571.02,141.45L571.08,143.43L571.15,145.88L571.21,148.67L571.28,151.67L571.34,154.73L571.41,157.69L571.47,160.4L571.54,162.7L571.6,164.48L571.67,165.63L571.73,166.06L571.8,165.74L571.86,164.67L571.93,162.9L571.99,160.5L572.06,157.68L572.12,154.74L572.19,151.84L572.25,149.14L572.32,146.82L572.38,145.02L572.45,143.9L572.51,143.68L572.58,144.44L572.64,146.17L572.71,148.75L572.77,152.03L572.84,155.77L572.9,159.73L572.97,163.67L573.03,167.35L573.1,170.59L573.16,173.27L573.23,175.3L573.3,176.67L573.36,177.38L573.43,177.5L573.49,177.18L573.56,176.53L573.62,175.59L573.69,174.37L573.75,172.82L573.82,170.99L573.88,168.95L573.95,166.76L574.01,164.51L574.08,162.25L574.14,160.06L574.21,157.99L574.27,156.11L574.34,154.44L574.4,153.03L574.47,151.87L574.53,150.99L574.6,150.35L574.66,149.94L574.73,149.71L574.79,149.6L574.86,149.57L574.92,149.53L574.99,149.43L575.05,149.19L575.12,148.75L575.18,148.07L575.25,147.09L575.31,145.82L575.38,144.23L575.44,142.36L575.51,140.24L575.57,137.93L575.64,135.51L575.7,133.06L575.77,130.68L575.83,128.46L575.9,126.51L575.96,124.9L576.03,123.72L576.09,123.01L576.16,122.82L576.22,123.21L576.29,124.21L576.35,125.77L576.42,127.81L576.48,130.24L576.55,132.98L576.61,135.91L576.68,138.93L576.74,141.95L576.81,144.86L576.87,147.61L576.94,150.12L577,152.36L577.07,154.3L577.13,155.95L577.2,157.33L577.26,158.45L577.33,159.36L577.39,160.12L577.46,160.78L577.52,161.41L577.59,162.05L577.65,162.75L577.72,163.57L577.78,164.53L577.85,165.65L577.91,166.94L577.98,168.39L578.04,169.96L578.11,171.64L578.17,173.36L578.24,175.05L578.3,176.65L578.37,178.08L578.43,179.31L578.5,180.28L578.56,180.96L578.63,181.27L578.69,181.18L578.76,180.66L578.82,179.7L578.89,178.3L578.95,176.48L579.02,174.28L579.08,171.75L579.15,168.97L579.21,166.02L579.28,162.98L579.34,159.94L579.41,156.99L579.47,154.21L579.54,151.66L579.6,149.42L579.67,147.5L579.73,145.93L579.8,144.71L579.86,143.81L579.93,143.2L579.99,142.83L580.06,142.65L580.12,142.58L580.19,142.56L580.25,142.54L580.32,142.46L580.38,142.27L580.45,141.96L580.51,141.5L580.58,140.89L580.64,140.16L580.71,139.33L580.77,138.44L580.84,137.58L580.9,136.83L580.97,136.25L581.03,135.87L581.1,135.72L581.16,135.84L581.23,136.26L581.29,137.01L581.36,138.09L581.43,139.52L581.49,141.28L581.56,143.36L581.62,145.73L581.69,148.35L581.75,151.16L581.82,154.1L581.88,157.1L581.95,160.08L582.01,162.96L582.08,165.64L582.14,168.06L582.21,170.13L582.27,171.79L582.34,172.98L582.4,173.66L582.47,173.81L582.53,173.42L582.6,172.51L582.66,171.1L582.73,169.26L582.79,167.09L582.86,164.69L582.92,162.17L582.99,159.61L583.05,157.11L583.12,154.75L583.18,152.59L583.25,150.67L583.31,149.03L583.38,147.65L583.44,146.53L583.51,145.62L583.57,144.89L583.64,144.28L583.7,143.72L583.77,143.16L583.83,142.53L583.9,141.79L583.96,140.91L584.03,139.86L584.09,138.64L584.16,137.27L584.22,135.78L584.29,134.22L584.35,132.65L584.42,131.16L584.48,129.81L584.55,128.65L584.61,127.73L584.68,127.11L584.74,126.84L584.81,126.97L584.87,127.52L584.94,128.52L585,129.97L585.07,131.87L585.13,134.18L585.2,136.88L585.26,139.91L585.33,143.2L585.39,146.66L585.46,150.22L585.52,153.79L585.59,157.26L585.65,160.56L585.72,163.6L585.78,166.3L585.85,168.63L585.91,170.53L585.98,171.98L586.04,173L586.11,173.6L586.17,173.82L586.24,173.71L586.3,173.34L586.37,172.79L586.43,172.12L586.5,171.41L586.56,170.71L586.63,170.08L586.69,169.55L586.76,169.16L586.82,168.93L586.89,168.85L586.95,168.89L587.02,169.02L587.08,169.17L587.15,169.28L587.21,169.28L587.28,169.09L587.34,168.66L587.41,167.94L587.47,166.87L587.54,165.44L587.6,163.64L587.67,161.48L587.73,158.99L587.8,156.21L587.86,153.19L587.93,150L587.99,146.71L588.06,143.4L588.12,140.15L588.19,137.03L588.25,134.11L588.32,131.45L588.38,129.11L588.45,127.13L588.51,125.53L588.58,124.34L588.64,123.56L588.71,123.18L588.77,123.2L588.84,123.57L588.9,124.26L588.97,125.24L589.03,126.43L589.1,127.72L589.16,129.03L589.23,130.3L589.29,131.46L589.36,132.49L589.42,133.34L589.49,133.99L589.56,134.46L589.62,134.75L589.69,134.89L589.75,134.93L589.82,134.92L589.88,134.93L589.95,135.03L590.01,135.27L590.08,135.73L590.14,136.44L590.21,137.45L590.27,138.79L590.34,140.45L590.4,142.43L590.47,144.69L590.53,147.19L590.6,149.86L590.66,152.64L590.73,155.45L590.79,158.21L590.86,160.84L590.92,163.28L590.99,165.45L591.05,167.31L591.12,168.83L591.18,169.98L591.25,170.76L591.31,171.18L591.38,171.26L591.44,171.03L591.51,170.53L591.57,169.82L591.64,168.95L591.7,167.97L591.77,166.93L591.83,165.91L591.9,164.95L591.96,164.12L592.03,163.44L592.09,162.94L592.16,162.63L592.22,162.5L592.29,162.55L592.35,162.74L592.42,163.02L592.48,163.35L592.55,163.67L592.61,163.91L592.68,164.01L592.74,163.9L592.81,163.54L592.87,162.86L592.94,161.84L593,160.47L593.07,158.75L593.13,156.69L593.2,154.34L593.26,151.76L593.33,149.03L593.39,146.22L593.46,143.43L593.52,140.75L593.59,138.27L593.65,136.08L593.72,134.23L593.78,132.78L593.85,131.76L593.91,131.17L593.98,131.01L594.04,131.22L594.11,131.77L594.17,132.58L594.24,133.58L594.3,134.69L594.37,135.83L594.43,136.92L594.5,137.9L594.56,138.73L594.63,139.32L594.69,139.67L594.76,139.75L594.82,139.58L594.89,139.19L594.95,138.62L595.02,137.92L595.08,137.16L595.15,136.39L595.21,135.69L595.28,135.11L595.34,134.73L595.41,134.58L595.47,134.7L595.54,135.13L595.6,135.87L595.67,136.92L595.73,138.26L595.8,139.86L595.86,141.68L595.93,143.66L595.99,145.73L596.06,147.82L596.12,149.86L596.19,151.77L596.25,153.47L596.32,154.91L596.38,156.03L596.45,156.83L596.51,157.38L596.58,157.63L596.64,157.51L596.71,156.95L596.77,155.89L596.84,154.3L596.9,152.29L596.97,149.93L597.03,147.35L597.1,144.73L597.16,142.27L597.23,140.18L597.29,138.67L597.36,137.9L597.42,138L597.49,138.99L597.55,140.82L597.62,143.36L597.69,146.34L597.75,149.58L597.82,152.96L597.88,156.28L597.95,159.38L598.01,162.08L598.08,164.25L598.14,165.76L598.21,166.55L598.27,166.55L598.34,165.79L598.4,164.29L598.47,162.13L598.53,159.44L598.6,156.35L598.66,153.03L598.73,149.65L598.79,146.4L598.86,143.45L598.92,140.95L598.99,139.04L599.05,137.82L599.12,137.36L599.18,137.67L599.25,138.75L599.31,140.53L599.38,142.92L599.44,145.8L599.51,149L599.57,152.37L599.64,155.71L599.7,158.86L599.77,161.65L599.83,163.91L599.9,165.55L599.96,166.46L600.03,166.61L600.09,165.98L600.16,164.6L600.22,162.55L600.29,159.94L600.35,156.91L600.42,153.62L600.48,150.24L600.55,146.95L600.61,143.94L600.68,141.35L600.74,139.33L600.81,137.98L600.87,137.38L600.94,137.56L601,138.51L601.07,140.17L601.13,142.47L601.2,145.27L601.26,148.43L601.33,151.78L601.39,155.14L601.46,158.34L601.52,161.19L601.59,163.56L601.65,165.32L601.72,166.36L601.78,166.64L601.85,166.14L601.91,164.89L601.98,162.95L602.04,160.43L602.11,157.46L602.17,154.2L602.24,150.82L602.3,147.51L602.37,144.43L602.43,141.76L602.5,139.63L602.56,138.16L602.63,137.43L602.69,137.47L602.76,138.29L602.82,139.83L602.89,142.03L602.95,144.75L603.02,147.86L603.08,151.19L603.15,154.56L603.21,157.8L603.28,160.73L603.34,163.19L603.41,165.06L603.47,166.23L603.54,166.65L603.6,166.28L603.67,165.16L603.73,163.33L603.8,160.9L603.86,158L603.93,154.78L603.99,151.41L604.06,148.07L604.12,144.94L604.19,142.19L604.25,139.96L604.32,138.37L604.38,137.5L604.45,137.41L604.51,138.09L604.58,139.52L604.64,141.6L604.71,144.24L604.77,147.3L604.84,150.6L604.9,153.98L604.97,157.25L605.03,160.25L605.1,162.8L605.16,164.78L605.23,166.08L605.29,166.63L605.36,166.4L605.42,165.41L605.49,163.7L605.55,161.37L605.62,158.53L605.68,155.36L605.75,152L605.82,148.64L605.88,145.47L605.95,142.63L606.01,140.3L606.08,138.59L606.14,137.6L606.21,137.37L606.27,137.92L606.34,139.22L606.4,141.2L606.47,143.75L606.53,146.75L606.6,150.02L606.66,153.4L606.73,156.7L606.79,159.76L606.86,162.4L606.92,164.48L606.99,165.91L607.05,166.59L607.12,166.5L607.18,165.63L607.25,164.04L607.31,161.81L607.38,159.06L607.44,155.93L607.51,152.59L607.57,149.22L607.64,146L607.7,143.1L607.77,140.67L607.83,138.84L607.9,137.72L607.96,137.35L608.03,137.77L608.09,138.94L608.16,140.81L608.22,143.27L608.29,146.2L608.35,149.44L608.42,152.81L608.48,156.14L608.55,159.25L608.61,161.97L608.68,164.17L608.74,165.71L608.81,166.53L608.87,166.57L608.94,165.84L609,164.37L609.07,162.24L609.13,159.57L609.2,156.49L609.26,153.18L609.33,149.8L609.39,146.54L609.46,143.57L609.52,141.05L609.59,139.11L609.65,137.86L609.72,137.36L609.78,137.64L609.85,138.68L609.91,140.44L609.98,142.81L610.04,145.66L610.11,148.86L610.17,152.22L610.24,155.57L610.3,158.73L610.37,161.53L610.43,163.83L610.5,165.49L610.56,166.44L610.63,166.62L610.69,166.02L610.76,164.67L610.82,162.65L610.89,160.06L610.95,157.05L611.02,153.76L611.08,150.38L611.15,147.09L611.21,144.06L611.28,141.45L611.34,139.4L611.41,138.02L611.47,137.39L611.54,137.54L611.6,138.45L611.67,140.09L611.73,142.35L611.8,145.14L611.86,148.29L611.93,151.63L611.99,155L612.06,158.2L612.12,161.08L612.19,163.47L612.25,165.25L612.32,166.33L612.38,166.64L612.45,166.18L612.51,164.96L612.58,163.05L612.64,160.55L612.71,157.6L612.77,154.35L612.84,150.97L612.9,147.65L612.97,144.56L613.03,141.87L613.1,139.71L613.16,138.21L613.23,137.45L613.29,137.45L613.36,138.24L613.42,139.75L613.49,141.92L613.55,144.62L613.62,147.72L613.68,151.04L613.75,154.42L613.81,157.66L613.88,160.61L613.95,163.1L614.01,164.99L614.08,166.2L614.14,166.65L614.21,166.31L614.27,165.22L614.34,163.43L614.4,161.02L614.47,158.14L614.53,154.93L614.6,151.56L614.66,148.21L614.73,145.07L614.79,142.3L614.86,140.04L614.92,138.42L614.99,137.52L615.05,137.4L615.12,138.05L615.18,139.44L615.25,141.5L615.31,144.12L615.38,147.16L615.44,150.46L615.51,153.84L615.57,157.12L615.64,160.13L615.7,162.7L615.77,164.71L615.83,166.04L615.9,166.62L615.96,166.43L616.03,165.46L616.09,163.78L616.16,161.48L616.22,158.67L616.29,155.5L616.35,152.15L616.42,148.79L616.48,145.6L616.55,142.75L616.61,140.39L616.68,138.65L616.74,137.63L616.81,137.36L616.87,137.88L616.94,139.15L617,141.1L617.07,143.63L617.13,146.61L617.2,149.87L617.26,153.25L617.33,156.56L617.39,159.63L617.46,162.29L617.52,164.41L617.59,165.86L617.65,166.58L617.72,166.52L617.78,165.69L617.85,164.12L617.91,161.92L617.98,159.19L618.04,156.07L618.11,152.74L618.17,149.36L618.24,146.13L618.3,143.21L618.37,140.76L618.43,138.91L618.5,137.75L618.56,137.35L618.63,137.73L618.69,138.87L618.76,140.71L618.82,143.15L618.89,146.06L618.95,149.29L619.02,152.66L619.08,156L619.15,159.12L619.21,161.86L619.28,164.08L619.34,165.66L619.41,166.51L619.47,166.58L619.54,165.88L619.6,164.45L619.67,162.34L619.73,159.69L619.8,156.63L619.86,153.32L619.93,149.95L619.99,146.68L620.06,143.69L620.12,141.15L620.19,139.18L620.25,137.9L620.32,137.37L620.38,137.61L620.45,138.62L620.51,140.35L620.58,142.69L620.64,145.53L620.71,148.71L620.77,152.07L620.84,155.43L620.9,158.6L620.97,161.42L621.03,163.74L621.1,165.44L621.16,166.41L621.23,166.63L621.29,166.06L621.36,164.75L621.42,162.75L621.49,160.19L621.55,157.19L621.62,153.91L621.68,150.53L621.75,147.23L621.81,144.18L621.88,141.55L621.94,139.48L622.01,138.07L622.08,137.4L622.14,137.51L622.21,138.39L622.27,140L622.34,142.24L622.4,145.01L622.47,148.14L622.53,151.48L622.6,154.85L622.66,158.07L622.73,160.96L622.79,163.38L622.86,165.19L622.92,166.3L622.99,166.65L623.05,166.21L623.12,165.03L623.18,163.14L623.25,160.67L623.31,157.73L623.38,154.49L623.44,151.12L623.51,147.79L623.57,144.69L623.64,141.97L623.7,139.79L623.77,138.26L623.83,137.46L623.9,137.44L623.96,138.19L624.03,139.67L624.09,141.81L624.16,144.5L624.22,147.58L624.29,150.9L624.35,154.27L624.42,157.53L624.48,160.49L624.55,163L624.61,164.92L624.68,166.16L624.74,166.64L624.81,166.35L624.87,165.28L624.94,163.52L625,161.14L625.07,158.27L625.13,155.07L625.2,151.71L625.26,148.36L625.33,145.2L625.39,142.41L625.46,140.13L625.52,138.48L625.59,137.55L625.65,137.39L625.72,138L625.78,139.36L625.85,141.4L625.91,144L625.98,147.02L626.04,150.31L626.11,153.69L626.17,156.98L626.24,160L626.3,162.6L626.37,164.64L626.43,166L626.5,166.61L626.56,166.45L626.63,165.52L626.69,163.87L626.76,161.59L626.82,158.8L626.89,155.64L626.95,152.29L627.02,148.93L627.08,145.73L627.15,142.86L627.21,140.48L627.28,138.72L627.34,137.65L627.41,137.36L627.47,137.84L627.54,139.08L627.6,141L627.67,143.51L627.73,146.47L627.8,149.73L627.86,153.1L627.93,156.42L627.99,159.5L628.06,162.19L628.12,164.33L628.19,165.81L628.25,166.56L628.32,166.54L628.38,165.74L628.45,164.21L628.51,162.03L628.58,159.31L628.64,156.21L628.71,152.88L628.77,149.51L628.84,146.27L628.9,143.33L628.97,140.86L629.03,138.97L629.1,137.79L629.16,137.35L629.23,137.7L629.29,138.81L629.36,140.62L629.42,143.04L629.49,145.93L629.55,149.15L629.62,152.52L629.68,155.86L629.75,158.99L629.81,161.76L629.88,164L629.94,165.61L630.01,166.49L630.07,166.6L630.14,165.93L630.21,164.52L630.27,162.45L630.34,159.82L630.4,156.77L630.47,153.47L630.53,150.09L630.6,146.81L630.66,143.81L630.73,141.25L630.79,139.25L630.86,137.94L630.92,137.37L630.99,137.59L631.05,138.56L631.12,140.26L631.18,142.58L631.25,145.4L631.31,148.57L631.38,151.93L631.44,155.29L631.51,158.47L631.57,161.31L631.64,163.65L631.7,165.38L631.77,166.39L631.83,166.63L631.9,166.1L631.96,164.82L632.03,162.85L632.09,160.31L632.16,157.32L632.22,154.05L632.29,150.68L632.35,147.37L632.42,144.31L632.48,141.66L632.55,139.55L632.61,138.12L632.68,137.42L632.74,137.49L632.81,138.34L632.87,139.92L632.94,142.14L633,144.88L633.07,148L633.13,151.34L633.2,154.71L633.26,157.94L633.33,160.85L633.39,163.29L633.46,165.13L633.52,166.27L633.59,166.65L633.65,166.25L633.72,165.09L633.78,163.24L633.85,160.79L633.91,157.87L633.98,154.64L634.04,151.26L634.11,147.93L634.17,144.81L634.24,142.08L634.3,139.88L634.37,138.31L634.43,137.48L634.5,137.42L634.56,138.14L634.63,139.59L634.69,141.71L634.76,144.37L634.82,147.44L634.89,150.75L634.95,154.13L635.02,157.39L635.08,160.37L635.15,162.9L635.21,164.85L635.28,166.12L635.34,166.64L635.41,166.37L635.47,165.35L635.54,163.61L635.6,161.25L635.67,158.4L635.73,155.21L635.8,151.85L635.86,148.5L635.93,145.33L635.99,142.52L636.06,140.22L636.12,138.54L636.19,137.57L636.25,137.38L636.32,137.96L636.38,139.29L636.45,141.3L636.51,143.87L636.58,146.88L636.64,150.16L636.71,153.54L636.77,156.84L636.84,159.88L636.9,162.5L636.97,164.56L637.03,165.95L637.1,166.6L637.16,166.48L637.23,165.58L637.29,163.96L637.36,161.7L637.42,158.93L637.49,155.79L637.55,152.44L637.62,149.07L637.68,145.86L637.75,142.98L637.81,140.57L637.88,138.78L637.94,137.69L638.01,137.35L638.07,137.8L638.14,139.01L638.2,140.9L638.27,143.39L638.34,146.34L638.4,149.58L638.47,152.96L638.53,156.28L638.6,159.38L638.66,162.08L638.73,164.25L638.79,165.76L638.86,166.55L638.92,166.55L638.99,165.79L639.05,164.29L639.12,162.13L639.18,159.44L639.25,156.35L639.31,153.03L639.38,149.65L639.44,146.4L639.51,143.45L639.57,140.95L639.64,139.04L639.7,137.82L639.77,137.36L639.83,137.67L639.9,138.75L639.96,140.53L640.03,142.92L640.09,145.8L640.16,149L640.22,152.37L640.29,155.71L640.35,158.86L640.42,161.65L640.48,163.91L640.55,165.55L640.61,166.46L640.68,166.61L640.74,165.98L640.81,164.6L640.87,162.55L640.94,159.94L641,156.91L641.07,153.62L641.13,150.24L641.2,146.95L641.26,143.94L641.33,141.35L641.39,139.33L641.46,137.98L641.52,137.38L641.59,137.56L641.65,138.51L641.72,140.17L641.78,142.47L641.85,145.27L641.91,148.43L641.98,151.78L642.04,155.14L642.11,158.34L642.17,161.19L642.24,163.56L642.3,165.32L642.37,166.36L642.43,166.64L642.5,166.14L642.56,164.89L642.63,162.95L642.69,160.43L642.76,157.46L642.82,154.2L642.89,150.82L642.95,147.51L643.02,144.43L643.08,141.76L643.15,139.63L643.21,138.16L643.28,137.43L643.34,137.47L643.41,138.29L643.47,139.83L643.54,142.03L643.6,144.75L643.67,147.86L643.73,151.19L643.8,154.56L643.86,157.8L643.93,160.73L643.99,163.19L644.06,165.06L644.12,166.23L644.19,166.65L644.25,166.28L644.32,165.16L644.38,163.33L644.45,160.9L644.51,158L644.58,154.78L644.64,151.41L644.71,148.07L644.77,144.94L644.84,142.19L644.9,139.96L644.97,138.37L645.03,137.5L645.1,137.41L645.16,138.09L645.23,139.52L645.29,141.6L645.36,144.24L645.42,147.3L645.49,150.6L645.55,153.98L645.62,157.25L645.68,160.25L645.75,162.8L645.81,164.78L645.88,166.08L645.94,166.63L646.01,166.4L646.07,165.41L646.14,163.7L646.2,161.37L646.27,158.53L646.33,155.36L646.4,152L646.47,148.64L646.53,145.47L646.6,142.63L646.66,140.3L646.73,138.59L646.79,137.6L646.86,137.37L646.92,137.92L646.99,139.22L647.05,141.2L647.12,143.75L647.18,146.75L647.25,150.02L647.31,153.4L647.38,156.7L647.44,159.76L647.51,162.4L647.57,164.48L647.64,165.91L647.7,166.59L647.77,166.5L647.83,165.63L647.9,164.04L647.96,161.81L648.03,159.06L648.09,155.93L648.16,152.59L648.22,149.22L648.29,146L648.35,143.1L648.42,140.67L648.48,138.84L648.55,137.72L648.61,137.35L648.68,137.77L648.74,138.94L648.81,140.81L648.87,143.27L648.94,146.2L649,149.44L649.07,152.81L649.13,156.14L649.2,159.25L649.26,161.97L649.33,164.17L649.39,165.71L649.46,166.53L649.52,166.57L649.59,165.84L649.65,164.37L649.72,162.24L649.78,159.57L649.85,156.49L649.91,153.18L649.98,149.8L650.04,146.54L650.11,143.57L650.17,141.05L650.24,139.11L650.3,137.86L650.37,137.36L650.43,137.64L650.5,138.68L650.56,140.44L650.63,142.81L650.69,145.66L650.76,148.86L650.82,152.22L650.89,155.57L650.95,158.73L651.02,161.53L651.08,163.83L651.15,165.49L651.21,166.44L651.28,166.62L651.34,166.02L651.41,164.67L651.47,162.65L651.54,160.06L651.6,157.05L651.67,153.76L651.73,150.38L651.8,147.09L651.86,144.06L651.93,141.45L651.99,139.4L652.06,138.02L652.12,137.39L652.19,137.54L652.25,138.45L652.32,140.09L652.38,142.35L652.45,145.14L652.51,148.29L652.58,151.63L652.64,155L652.71,158.2L652.77,161.08L652.84,163.47L652.9,165.25L652.97,166.33L653.03,166.64L653.1,166.18L653.16,164.96L653.23,163.05L653.29,160.55L653.36,157.6L653.42,154.35L653.49,150.97L653.55,147.65L653.62,144.56L653.68,141.87L653.75,139.71L653.81,138.21L653.88,137.45L653.94,137.45L654.01,138.24L654.07,139.75L654.14,141.92L654.2,144.62L654.27,147.72L654.33,151.04L654.4,154.42L654.46,157.66L654.53,160.61L654.6,163.1L654.66,164.99L654.73,166.2L654.79,166.65L654.86,166.31L654.92,165.22L654.99,163.43L655.05,161.02L655.12,158.14L655.18,154.93L655.25,151.56L655.31,148.21L655.38,145.07L655.44,142.3L655.51,140.04L655.57,138.42L655.64,137.52L655.7,137.4L655.77,138.05L655.83,139.44L655.9,141.5L655.96,144.12L656.03,147.16L656.09,150.46L656.16,153.84L656.22,157.12L656.29,160.13L656.35,162.7L656.42,164.71L656.48,166.04L656.55,166.62L656.61,166.43L656.68,165.46L656.74,163.78L656.81,161.48L656.87,158.67L656.94,155.5L657,152.15L657.07,148.79L657.13,145.6L657.2,142.75L657.26,140.39L657.33,138.65L657.39,137.63L657.46,137.36L657.52,137.88L657.59,139.15L657.65,141.1L657.72,143.63L657.78,146.61L657.85,149.87L657.91,153.25L657.98,156.56L658.04,159.63L658.11,162.29L658.17,164.41L658.24,165.86L658.3,166.58L658.37,166.52L658.43,165.69L658.5,164.12L658.56,161.92L658.63,159.19L658.69,156.07L658.76,152.74L658.82,149.36L658.89,146.13L658.95,143.21L659.02,140.76L659.08,138.91L659.15,137.75L659.21,137.35L659.28,137.73L659.34,138.87L659.41,140.71L659.47,143.2L659.54,146.13L659.6,149.34L659.67,152.65L659.73,155.88L659.8,158.88L659.86,161.47L659.93,163.53L659.99,164.96L660.06,165.68L660.12,165.67L660.19,164.93L660.25,163.52L660.32,161.52L660.38,159.03L660.45,156.21L660.51,153.19L660.58,150.16L660.64,147.25L660.71,144.64L660.77,142.45L660.84,140.79L660.9,139.75L660.97,139.37L661.03,139.67L661.1,140.61L661.16,142.15L661.23,144.18L661.29,146.6L661.36,149.28L661.42,152.06L661.49,154.8L661.55,157.36L661.62,159.59L661.68,161.39L661.75,162.67L661.81,163.37L661.88,163.45L661.94,162.93L662.01,161.83L662.07,160.23L662.14,158.22L662.2,155.91L662.27,153.43L662.33,150.91L662.4,148.48L662.46,146.28L662.53,144.42L662.59,142.98L662.66,142.05L662.73,141.66L662.79,141.82L662.86,142.52L662.92,143.7L662.99,145.31L663.05,147.25L663.12,149.4L663.18,151.66L663.25,153.89L663.31,155.99L663.38,157.84L663.44,159.35L663.51,160.44L663.57,161.07L663.64,161.21L663.7,160.85L663.77,160.04L663.83,158.81L663.9,157.25L663.96,155.44L664.03,153.48L664.09,151.48L664.16,149.55L664.22,147.78L664.29,146.27L664.35,145.09L664.42,144.31L664.48,143.94L664.55,144.01L664.61,144.5L664.68,145.38L664.74,146.59L664.81,148.06L664.87,149.7L664.94,151.43L665,153.16L665.07,154.78L665.13,156.22L665.2,157.41L665.26,158.28L665.33,158.8L665.39,158.94L665.46,158.72L665.52,158.15L665.59,157.26L665.65,156.12L665.72,154.79L665.78,153.35L665.85,151.87L665.91,150.44L665.98,149.13L666.04,148L666.11,147.12L666.17,146.51L666.24,146.22L666.3,146.24L666.37,146.56L666.43,147.16L666.5,148L666.56,149.03L666.63,150.18L666.69,151.39L666.76,152.6L666.82,153.74L666.89,154.74L666.95,155.57L667.02,156.19L667.08,156.56L667.15,156.68L667.21,156.54L667.28,156.17L667.34,155.6L667.41,154.85L667.47,153.98L667.54,153.04L667.6,152.08L667.67,151.14L667.73,150.26L667.8,149.49L667.86,148.87L667.93,148.43L667.99,148.19L668.06,148.15L668.12,148.32L668.19,148.67L668.25,149.2L668.32,149.86L668.38,150.62L668.45,151.44L668.51,152.27L668.58,153.06L668.64,153.78L668.71,154.39L668.77,154.86L668.84,155.16L668.9,155.3L668.97,155.25L669.03,155.03L669.1,154.66L669.16,154.16L669.23,153.55L669.29,152.88L669.36,152.18L669.42,151.49L669.49,150.85L669.55,150.28L669.62,149.83L669.68,149.49L669.75,149.31L669.81,149.27L669.88,149.37L669.94,149.61L670.01,149.97L670.07,150.43L670.14,150.95L670.2,151.52L670.27,152.09L670.33,152.63L670.4,153.13L670.46,153.54L670.53,153.87L670.59,154.08L670.66,154.17L670.72,154.15L670.79,154.01L670.86,153.77L670.92,153.45L670.99,153.06L671.05,152.63L671.12,152.19L671.18,151.76L671.25,151.35L671.31,151L671.38,150.72L671.44,150.52L671.51,150.41L671.57,150.39L671.64,150.45L671.7,150.59L671.77,150.81L671.83,151.07L671.9,151.37L671.96,151.68L672.03,151.99L672.09,152.29L672.16,152.55L672.22,152.76L672.29,152.92L672.35,153.02L672.42,153.06L672.48,153.03L672.55,152.96L672.61,152.83L672.68,152.67L672.74,152.49L672.81,152.3L672.87,152.11L672.94,151.93L673,151.78L673.07,151.65L673.13,151.56L673.2,151.51L673.26,151.47L673.33,151.45L673.39,151.45L673.46,151.49L673.52,151.55L673.59,151.63L673.65,151.74L673.72,151.85L673.78,151.98L673.85,152.1L673.91,152.22L673.98,152.32L674.04,152.41L674.11,152.48L674.17,152.52L674.24,152.53L674.3,152.51L674.37,152.47L674.43,152.4L674.5,152.31L674.56,152.21L674.63,152.09L674.69,151.97L674.76,151.86L674.82,151.75L674.89,151.66L674.95,151.58L675.02,151.53L675.08,151.5L675.15,151.5L675.21,151.53L675.28,151.58L675.34,151.65L675.41,151.74L675.47,151.85L675.54,151.96L675.6,152.07L675.67,152.18L675.73,152.28L675.8,152.36L675.86,152.42L675.93,152.46L675.99,152.47L676.06,152.46L676.12,152.43L676.19,152.37L676.25,152.29L676.32,152.2L676.38,152.1L676.45,152L676.51,151.89L676.58,151.79L676.64,151.71L676.71,151.64L676.77,151.59L676.84,151.56L676.9,151.56L676.97,151.57L677.03,151.62L677.1,151.68L677.16,151.76L677.23,151.85L677.29,151.95L677.36,152.05L677.42,152.14L677.49,152.23L677.55,152.3L677.62,152.36L677.68,152.4L677.75,152.42L677.81,152.41L677.88,152.39L677.94,152.34L678.01,152.27L678.07,152.19L678.14,152.11L678.2,152.01L678.27,151.92L678.33,151.83L678.4,151.75L678.46,151.69L678.53,151.64L678.59,151.62L678.66,151.61L678.72,151.62L678.79,151.66L678.85,151.71L678.92,151.77L678.99,151.85L679.05,151.94L679.12,152.02L679.18,152.11L679.25,152.19L679.31,152.26L679.38,152.31L679.44,152.35L679.51,152.36L679.57,152.36L679.64,152.34L679.7,152.3L679.77,152.25L679.83,152.18L679.9,152.11L679.96,152.02L680.03,151.94L680.09,151.87L680.16,151.8L680.22,151.74L680.29,151.7L680.35,151.67L680.42,151.66L680.48,151.67L680.55,151.7L680.61,151.74L680.68,151.8L680.74,151.86L680.81,151.93L680.87,152.01L680.94,152.08L681,152.15L681.07,152.21L681.13,152.26L681.2,152.29L681.26,152.31L681.33,152.31L681.39,152.29L681.46,152.26L681.52,152.22L681.59,152.16L681.65,152.1L681.72,152.03L681.78,151.96L681.85,151.9L681.91,151.84L681.98,151.79L682.04,151.75L682.11,151.73L682.17,151.72L682.24,151.72L682.3,151.74L682.37,151.78L682.43,151.82L682.5,151.87L682.56,151.93L682.63,152L682.69,152.06L682.76,152.12L682.82,152.17L682.89,152.21L682.95,152.24L683.02,152.25L683.08,152.26L683.15,152.25L683.21,152.22L683.28,152.19L683.34,152.14L683.41,152.09L683.47,152.04L683.54,151.98L683.6,151.93L683.67,151.88L683.73,151.83L683.8,151.8L683.86,151.78L683.93,151.77L683.99,151.77L684.06,151.79L684.12,151.81L684.19,151.85L684.25,151.89L684.32,151.94L684.38,151.99L684.45,152.04L684.51,152.08L684.58,152.13" fill="none" stroke="#0000ff" stroke-width="1.1" stroke-linejoin="round" stroke-linecap="butt"/>
<rect x="388.75" y="109.5" width="310.0" height="85.5" fill="none" stroke="#4a4a4a" stroke-width="0.7"/>
<line x1="402.50" x2="402.50" y1="195" y2="198.0" stroke="#2a2a2a" stroke-width="0.8"/>
<text x="402.50" y="206.90" text-anchor="middle" font-size="7.9" font-family="DejaVu Sans, Liberation Sans, sans-serif" fill="#1c1c1c">0</text>
<line x1="443.15" x2="443.15" y1="195" y2="198.0" stroke="#2a2a2a" stroke-width="0.8"/>
<text x="443.15" y="206.90" text-anchor="middle" font-size="7.9" font-family="DejaVu Sans, Liberation Sans, sans-serif" fill="#1c1c1c">5</text>
<line x1="483.80" x2="483.80" y1="195" y2="198.0" stroke="#2a2a2a" stroke-width="0.8"/>
<text x="483.80" y="206.90" text-anchor="middle" font-size="7.9" font-family="DejaVu Sans, Liberation Sans, sans-serif" fill="#1c1c1c">10</text>
<line x1="524.45" x2="524.45" y1="195" y2="198.0" stroke="#2a2a2a" stroke-width="0.8"/>
<text x="524.45" y="206.90" text-anchor="middle" font-size="7.9" font-family="DejaVu Sans, Liberation Sans, sans-serif" fill="#1c1c1c">15</text>
<line x1="565.10" x2="565.10" y1="195" y2="198.0" stroke="#2a2a2a" stroke-width="0.8"/>
<text x="565.10" y="206.90" text-anchor="middle" font-size="7.9" font-family="DejaVu Sans, Liberation Sans, sans-serif" fill="#1c1c1c">20</text>
<line x1="605.75" x2="605.75" y1="195" y2="198.0" stroke="#2a2a2a" stroke-width="0.8"/>
<text x="605.75" y="206.90" text-anchor="middle" font-size="7.9" font-family="DejaVu Sans, Liberation Sans, sans-serif" fill="#1c1c1c">25</text>
<line x1="646.40" x2="646.40" y1="195" y2="198.0" stroke="#2a2a2a" stroke-width="0.8"/>
<text x="646.40" y="206.90" text-anchor="middle" font-size="7.9" font-family="DejaVu Sans, Liberation Sans, sans-serif" fill="#1c1c1c">30</text>
<line x1="687.05" x2="687.05" y1="195" y2="198.0" stroke="#2a2a2a" stroke-width="0.8"/>
<text x="687.05" y="206.90" text-anchor="middle" font-size="7.9" font-family="DejaVu Sans, Liberation Sans, sans-serif" fill="#1c1c1c">35</text>
<line x1="385.75" x2="388.75" y1="124.10" y2="124.10" stroke="#2a2a2a" stroke-width="0.8"/>
<text x="382.75" y="127.24" text-anchor="end" font-size="7.9" font-family="DejaVu Sans, Liberation Sans, sans-serif" fill="#1c1c1c">20</text>
<line x1="385.75" x2="388.75" y1="152.00" y2="152.00" stroke="#2a2a2a" stroke-width="0.8"/>
<text x="382.75" y="155.14" text-anchor="end" font-size="7.9" font-family="DejaVu Sans, Liberation Sans, sans-serif" fill="#1c1c1c">0</text>
<line x1="385.75" x2="388.75" y1="179.90" y2="179.90" stroke="#2a2a2a" stroke-width="0.8"/>
<text x="382.75" y="183.04" text-anchor="end" font-size="7.9" font-family="DejaVu Sans, Liberation Sans, sans-serif" fill="#1c1c1c">−20</text>
<text transform="translate(360.7,152.25) rotate(-90)" text-anchor="middle" font-size="9.5" font-family="Liberation Sans, sans-serif" fill="#1c1c1c">Angular velocity (rad/s)</text>
<rect x="592.5" y="113.25" width="101.5" height="14.25" rx="1.6" fill="#fff" fill-opacity="0.8" stroke="#ccc" stroke-opacity="0.8" stroke-width="0.6"/>
<line x1="595.40" x2="612.40" y1="120.38" y2="120.38" stroke="#0000ff" stroke-width="1.35"/>
<text x="690.4" y="123.25" text-anchor="end" font-size="8.0" font-family="DejaVu Sans, Liberation Sans, sans-serif" fill="#1c1c1c">Experimental data</text>
<rect x="498.1" y="112.3" width="13.6" height="78.9" fill="none" stroke="#111" stroke-width="1.15" stroke-dasharray="4.2 1.8"/>
<text x="543" y="219.5" text-anchor="middle" font-size="10.5" font-family="Liberation Sans, sans-serif" fill="#1c1c1c">Time (s)</text>
<text x="541" y="240" text-anchor="middle" font-size="15.8" font-family="Liberation Serif, serif" fill="#000" stroke="#000" stroke-width="0.25">(b)</text>
<path clip-path="url(#cp4)" d="M37.5,282.49L38.06,283.3L38.62,284.46L39.18,285.86L39.74,287.37L40.3,288.87L40.86,290.24L41.42,291.36L41.98,292.11L42.54,292.36L43.1,291.99L43.66,290.93L44.22,289.26L44.78,287.1L45.34,284.59L45.9,281.84L46.46,279L47.02,276.18L47.58,273.51L48.14,271.12L48.7,269.14L49.26,267.7L49.82,266.91L50.38,266.92L50.94,267.83L51.5,269.69L52.06,272.3L52.62,275.45L53.18,278.94L53.74,282.56L54.3,286.11L54.86,289.38L55.42,292.15L55.98,294.23L56.54,295.4L57.1,295.47L57.66,294.29L58.22,292.04L58.78,288.99L59.34,285.38L59.9,281.47L60.46,277.51L61.02,273.76L61.58,270.47L62.14,267.89L62.7,266.28L63.26,265.89L63.82,266.97L64.38,269.52L64.94,273.3L65.5,278.08L66.06,283.61L66.62,289.64L67.18,295.93L67.74,302.24L68.3,308.33L68.86,313.94L69.42,318.84L69.98,322.77L70.54,325.51L71.1,326.83L71.66,326.83L72.22,325.75L72.78,323.84L73.34,321.34L73.9,318.51L74.46,315.58L75.02,312.8L75.58,310.41L76.14,308.51L76.7,307.02L77.26,305.88L77.82,305.03L78.38,304.4L78.94,303.91L79.5,303.5L80.06,303.12L80.62,302.74L81.18,302.36L81.74,301.96L82.3,301.55L82.86,301.1L83.42,300.62L83.98,300.09L84.54,299.51L85.1,298.86L85.66,298.15L86.22,297.36L86.78,296.48L87.34,295.52L87.9,294.5L88.46,293.44L89.02,292.37L89.58,291.3L90.14,290.26L90.7,289.28L91.26,288.36L91.82,287.53L92.38,286.82L92.94,286.24L93.5,285.82L94.06,285.58L94.62,285.54L95.18,285.72L95.74,286.08L96.3,286.52L96.86,286.96L97.42,287.3L97.98,287.43L98.54,287.26L99.1,286.7L99.66,285.67L100.22,284.24L100.78,282.51L101.34,280.55L101.9,278.46L102.46,276.33L103.02,274.26L103.58,272.32L104.14,270.62L104.7,269.25L105.26,268.28L105.82,267.83L106.38,267.97L106.94,268.79L107.5,270.35L108.06,272.52L108.62,275.15L109.18,278.06L109.74,281.1L110.3,284.1L110.86,286.9L111.42,289.33L111.98,291.23L112.54,292.45L113.1,292.81L113.66,292.15L114.22,290.35L114.78,287.53L115.34,283.95L115.9,279.9L116.46,275.64L117.02,271.45L117.58,267.58L118.14,264.31L118.7,261.91L119.26,260.65L119.82,260.8L120.38,262.61L120.94,266.07L121.5,270.88L122.06,276.73L122.62,283.31L123.18,290.3L123.74,297.4L124.3,304.3L124.86,310.68L125.42,316.25L125.98,320.68L126.54,323.66L127.1,324.94L127.66,324.63L128.22,323.04L128.78,320.48L129.34,317.28L129.9,313.75L130.46,310.21L131.02,306.98L131.58,304.3L132.14,302.18L132.7,300.57L133.26,299.41L133.82,298.66L134.38,298.24L134.94,298.11L135.5,298.21L136.06,298.48L136.62,298.87L137.18,299.31L137.74,299.76L138.3,300.14L138.86,300.41L139.42,300.49L139.98,300.34L140.54,299.89L141.1,299.12L141.66,298.08L142.22,296.8L142.78,295.35L143.34,293.78L143.9,292.12L144.46,290.44L145.02,288.79L145.58,287.21L146.14,285.76L146.7,284.48L147.26,283.43L147.82,282.66L148.38,282.21L148.94,282.14L149.5,282.49L150.06,283.3L150.62,284.46L151.18,285.86L151.74,287.37L152.3,288.87L152.86,290.24L153.42,291.36L153.98,292.11L154.54,292.36L155.1,291.99L155.66,290.93L156.22,289.26L156.78,287.1L157.34,284.59L157.9,281.84L158.46,279L159.02,276.18L159.58,273.51L160.14,271.12L160.7,269.14L161.26,267.7L161.82,266.91L162.38,266.92L162.94,267.83L163.5,269.69L164.06,272.3L164.62,275.45L165.18,278.94L165.74,282.56L166.3,286.11L166.86,289.38L167.42,292.15L167.98,294.23L168.54,295.4L169.1,295.47L169.66,294.29L170.22,292.04L170.78,288.99L171.34,285.38L171.9,281.47L172.46,277.51L173.02,273.76L173.58,270.47L174.14,267.89L174.7,266.28L175.26,265.89L175.82,266.97L176.38,269.52L176.94,273.3L177.5,278.08L178.06,283.61L178.62,289.64L179.18,295.93L179.74,302.24L180.3,308.33L180.86,313.94L181.42,318.84L181.98,322.77L182.54,325.51L183.1,326.83L183.66,326.83L184.22,325.75L184.78,323.84L185.34,321.34L185.9,318.51L186.46,315.58L187.02,312.8L187.58,310.41L188.14,308.51L188.7,307.02L189.26,305.88L189.82,305.03L190.38,304.4L190.94,303.91L191.5,303.5L192.06,303.12L192.62,302.74L193.18,302.36L193.74,301.96L194.3,301.55L194.86,301.1L195.42,300.62L195.98,300.09L196.54,299.51L197.1,298.86L197.66,298.15L198.22,297.36L198.78,296.48L199.34,295.52L199.9,294.5L200.46,293.44L201.02,292.37L201.58,291.3L202.14,290.26L202.7,289.28L203.26,288.36L203.82,287.53L204.38,286.82L204.94,286.24L205.5,285.82L206.06,285.58L206.62,285.54L207.18,285.72L207.74,286.08L208.3,286.52L208.86,286.96L209.42,287.3L209.98,287.43L210.54,287.26L211.1,286.7L211.66,285.67L212.22,284.24L212.78,282.51L213.34,280.55L213.9,278.46L214.46,276.33L215.02,274.26L215.58,272.32L216.14,270.62L216.7,269.25L217.26,268.28L217.82,267.83L218.38,267.97L218.94,268.79L219.5,270.35L220.06,272.52L220.62,275.15L221.18,278.06L221.74,281.1L222.3,284.1L222.86,286.9L223.42,289.33L223.98,291.23L224.54,292.45L225.1,292.81L225.66,292.15L226.22,290.35L226.78,287.53L227.34,283.95L227.9,279.9L228.46,275.64L229.02,271.45L229.58,267.58L230.14,264.31L230.7,261.91L231.26,260.65L231.82,260.8L232.38,262.61L232.94,266.07L233.5,270.88L234.06,276.73L234.62,283.31L235.18,290.3L235.74,297.4L236.3,304.3L236.86,310.68L237.42,316.25L237.98,320.68L238.54,323.66L239.1,324.94L239.66,324.63L240.22,323.04L240.78,320.48L241.34,317.28L241.9,313.75L242.46,310.21L243.02,306.98L243.58,304.3L244.14,302.18L244.7,300.57L245.26,299.41L245.82,298.66L246.38,298.24L246.94,298.11L247.5,298.21L248.06,298.48L248.62,298.87L249.18,299.31L249.74,299.76L250.3,300.14L250.86,300.41L251.42,300.49L251.98,300.34L252.54,299.89L253.1,299.12L253.66,298.08L254.22,296.8L254.78,295.35L255.34,293.78L255.9,292.12L256.46,290.44L257.02,288.79L257.58,287.21L258.14,285.76L258.7,284.48L259.26,283.43L259.82,282.66L260.38,282.21L260.94,282.14L261.5,282.49L262.06,283.3L262.62,284.46L263.18,285.86L263.74,287.37L264.3,288.87L264.86,290.24L265.42,291.36L265.98,292.11L266.54,292.36L267.1,291.99L267.66,290.93L268.22,289.26L268.78,287.1L269.34,284.59L269.9,281.84L270.46,279L271.02,276.18L271.58,273.51L272.14,271.12L272.7,269.14L273.26,267.7L273.82,266.91L274.38,266.92L274.94,267.83L275.5,269.69L276.06,272.3L276.62,275.45L277.18,278.94L277.74,282.56L278.3,286.11L278.86,289.38L279.42,292.15L279.98,294.23L280.54,295.4L281.1,295.47L281.66,294.29L282.22,292.04L282.78,288.99L283.34,285.38L283.9,281.47L284.46,277.51L285.02,273.76L285.58,270.47L286.14,267.89L286.7,266.28L287.26,265.89L287.82,266.97L288.38,269.52L288.94,273.3L289.5,278.08L290.06,283.61L290.62,289.64L291.18,295.93L291.74,302.24L292.3,308.33L292.86,313.94L293.42,318.84L293.98,322.77L294.54,325.51L295.1,326.83L295.66,326.83L296.22,325.75L296.78,323.84L297.34,321.34L297.9,318.51L298.46,315.58L299.02,312.8L299.58,310.41L300.14,308.51L300.7,307.02L301.26,305.88L301.82,305.03L302.38,304.4L302.94,303.91L303.5,303.5L304.06,303.12L304.62,302.74L305.18,302.36L305.74,301.96L306.3,301.55L306.86,301.1L307.42,300.62L307.98,300.09L308.54,299.51L309.1,298.86L309.66,298.15L310.22,297.36L310.78,296.48L311.34,295.52L311.9,294.5L312.46,293.44L313.02,292.37L313.58,291.3L314.14,290.26L314.7,289.28L315.26,288.36L315.82,287.53L316.38,286.82L316.94,286.24L317.5,285.82L318.06,285.58L318.62,285.54L319.18,285.72L319.74,286.08L320.3,286.52L320.86,286.96L321.42,287.3L321.98,287.43L322.54,287.26L323.1,286.7L323.66,285.67L324.22,284.24L324.78,282.51L325.34,280.55L325.9,278.46L326.46,276.33L327.02,274.26L327.58,272.32L328.14,270.62L328.7,269.25L329.26,268.28L329.82,267.83L330.38,267.97L330.94,268.79L331.5,270.35L332.06,272.52L332.62,275.15L333.18,278.06L333.74,281.1L334.3,284.1L334.86,286.9L335.42,289.33L335.98,291.23L336.54,292.45L337.1,292.81L337.66,292.15L338.22,290.35L338.78,287.53L339.34,283.95L339.9,279.9L340.46,275.64L341.02,271.45L341.58,267.58L342.14,264.31L342.7,261.91L343.26,260.65L343.82,260.8L344.38,262.61L344.94,266.07L345.5,270.88L346.06,276.73L346.62,283.31L347.18,290.3L347.74,297.4L348.3,304.3L348.86,310.68L349.42,316.25L349.98,320.68L350.54,323.66L351.1,324.94L351.66,324.63L352.22,323.04L352.78,320.48L353.34,317.28" fill="none" stroke="#ff0000" stroke-width="1.3" stroke-linejoin="round" stroke-linecap="butt"/>
<rect x="37.6" y="251.4" width="313.9" height="87.6" fill="none" stroke="#222" stroke-width="0.85"/>
<line x1="37.50" x2="37.50" y1="339.0" y2="342.0" stroke="#2a2a2a" stroke-width="0.8"/>
<text x="37.50" y="351.20" text-anchor="middle" font-size="8.0" font-family="DejaVu Sans, Liberation Sans, sans-serif" fill="#1c1c1c">8.00</text>
<line x1="72.50" x2="72.50" y1="339.0" y2="342.0" stroke="#2a2a2a" stroke-width="0.8"/>
<text x="72.50" y="351.20" text-anchor="middle" font-size="8.0" font-family="DejaVu Sans, Liberation Sans, sans-serif" fill="#1c1c1c">8.25</text>
<line x1="107.50" x2="107.50" y1="339.0" y2="342.0" stroke="#2a2a2a" stroke-width="0.8"/>
<text x="107.50" y="351.20" text-anchor="middle" font-size="8.0" font-family="DejaVu Sans, Liberation Sans, sans-serif" fill="#1c1c1c">8.50</text>
<line x1="142.50" x2="142.50" y1="339.0" y2="342.0" stroke="#2a2a2a" stroke-width="0.8"/>
<text x="142.50" y="351.20" text-anchor="middle" font-size="8.0" font-family="DejaVu Sans, Liberation Sans, sans-serif" fill="#1c1c1c">8.75</text>
<line x1="177.50" x2="177.50" y1="339.0" y2="342.0" stroke="#2a2a2a" stroke-width="0.8"/>
<text x="177.50" y="351.20" text-anchor="middle" font-size="8.0" font-family="DejaVu Sans, Liberation Sans, sans-serif" fill="#1c1c1c">9.00</text>
<line x1="212.50" x2="212.50" y1="339.0" y2="342.0" stroke="#2a2a2a" stroke-width="0.8"/>
<text x="212.50" y="351.20" text-anchor="middle" font-size="8.0" font-family="DejaVu Sans, Liberation Sans, sans-serif" fill="#1c1c1c">9.25</text>
<line x1="247.50" x2="247.50" y1="339.0" y2="342.0" stroke="#2a2a2a" stroke-width="0.8"/>
<text x="247.50" y="351.20" text-anchor="middle" font-size="8.0" font-family="DejaVu Sans, Liberation Sans, sans-serif" fill="#1c1c1c">9.50</text>
<line x1="282.50" x2="282.50" y1="339.0" y2="342.0" stroke="#2a2a2a" stroke-width="0.8"/>
<text x="282.50" y="351.20" text-anchor="middle" font-size="8.0" font-family="DejaVu Sans, Liberation Sans, sans-serif" fill="#1c1c1c">9.75</text>
<line x1="317.50" x2="317.50" y1="339.0" y2="342.0" stroke="#2a2a2a" stroke-width="0.8"/>
<text x="317.50" y="351.20" text-anchor="middle" font-size="8.0" font-family="DejaVu Sans, Liberation Sans, sans-serif" fill="#1c1c1c">10.00</text>
<line x1="34.6" x2="37.6" y1="258.56" y2="258.56" stroke="#2a2a2a" stroke-width="0.8"/>
<text x="32.00" y="261.84" text-anchor="end" font-size="8.0" font-family="DejaVu Sans, Liberation Sans, sans-serif" fill="#1c1c1c">20</text>
<line x1="34.6" x2="37.6" y1="276.83" y2="276.83" stroke="#2a2a2a" stroke-width="0.8"/>
<text x="32.00" y="280.11" text-anchor="end" font-size="8.0" font-family="DejaVu Sans, Liberation Sans, sans-serif" fill="#1c1c1c">10</text>
<line x1="34.6" x2="37.6" y1="295.10" y2="295.10" stroke="#2a2a2a" stroke-width="0.8"/>
<text x="32.00" y="298.38" text-anchor="end" font-size="8.0" font-family="DejaVu Sans, Liberation Sans, sans-serif" fill="#1c1c1c">0</text>
<line x1="34.6" x2="37.6" y1="313.37" y2="313.37" stroke="#2a2a2a" stroke-width="0.8"/>
<text x="32.00" y="316.65" text-anchor="end" font-size="8.0" font-family="DejaVu Sans, Liberation Sans, sans-serif" fill="#1c1c1c">−10</text>
<line x1="34.6" x2="37.6" y1="331.64" y2="331.64" stroke="#2a2a2a" stroke-width="0.8"/>
<text x="32.00" y="334.92" text-anchor="end" font-size="8.0" font-family="DejaVu Sans, Liberation Sans, sans-serif" fill="#1c1c1c">−20</text>
<text transform="translate(8.6,295.50) rotate(-90)" text-anchor="middle" font-size="9.75" font-family="Liberation Sans, sans-serif" fill="#1c1c1c">Angular velocity (rad/s)</text>
<rect x="254.3" y="255.4" width="93.19999999999999" height="14.599999999999994" rx="1.6" fill="#fff" fill-opacity="0.8" stroke="#ccc" stroke-opacity="0.8" stroke-width="0.6"/>
<line x1="257.20" x2="274.20" y1="262.70" y2="262.70" stroke="#ff0000" stroke-width="1.25"/>
<text x="343.9" y="265.58" text-anchor="end" font-size="8.0" font-family="DejaVu Sans, Liberation Sans, sans-serif" fill="#1c1c1c">Simulation data</text>
<path clip-path="url(#cp5)" d="M37.97,405.99L41.58,405.99L42.68,392.14L45.41,392.14L46.51,381.83L48.95,381.83L50.05,395.68L53.07,395.68L54.17,416.6L57.2,416.6L58.3,418.95L61.03,418.95L62.13,405.99L64.86,405.99L65.96,393.03L68.69,393.03L69.79,395.68L72.52,395.68L73.62,405.4L76.65,405.4L77.75,404.52L80.48,404.52L81.58,391.26L84.31,391.26L85.41,379.47L88.14,379.47L89.24,384.78L92.26,384.78L93.36,400.98L96.09,400.98L97.19,405.99L100.22,405.99L101.32,393.62L104.05,393.62L105.15,384.78L107.88,384.78L108.98,403.04L112,403.04L113.1,423.67L119.66,423.67L120.76,411.29L123.79,411.29L124.89,398.92L131.45,398.92L132.55,403.93L135.57,403.93L136.67,400.98L139.4,400.98L140.5,389.2L141.85,389.2L142.95,378.6L145.75,378.6L146.85,381.6L149.65,381.6L150.75,390.6L153.55,390.6L154.65,394.5L157.45,394.5L158.55,384L161.35,384L162.45,383.1L166.45,383.1L167.55,399.9L170.35,399.9L171.45,423.6L173.05,423.6L174.15,430.5L178.45,430.5L179.55,417L182.35,417L183.45,404.4L190.45,404.4L191.55,408.9L194.35,408.9L195.45,406.5L199.45,406.5L200.55,394.5L203.35,394.5L204.45,384L207.25,384L208.35,385.5L211.45,385.5L212.55,392.1L218.95,392.1L220.05,377.4L222.85,377.4L223.95,369.6L226.75,369.6L227.85,390L230.65,390L231.75,408.9L234.55,408.9L235.65,424.5L238.45,424.5L239.55,413.4L242.35,413.4L243.45,400.5L246.25,400.5L247.35,403.5L250.15,403.5L251.25,412.5L257.95,412.5L259.05,399L261.85,399L262.95,387.9L265.75,387.9L266.85,390L269.65,390L270.75,397.5L277.45,397.5L278.55,384L281.35,384L282.45,373.5L285.25,373.5L286.35,390L289.15,390L290.25,417L293.05,417L294.15,423L296.95,423L298.05,409.5L300.85,409.5L301.95,396.6L304.75,396.6L305.85,399L308.65,399L309.75,408L312.55,408L313.65,406.5L317.95,406.5L319.05,393L321.85,393L322.95,381.6L325.75,381.6L326.85,385.5L329.65,385.5L330.75,396L333.55,396L334.65,398.4L337.45,398.4L338.55,385.5L341.35,385.5L342.45,381L345.25,381L346.35,402L348.55,402L349.65,426L353.05,426L354.15,426L357.05,426" fill="none" stroke="#0000ff" stroke-width="1.3" stroke-linejoin="round"/>
<rect x="37.6" y="356.5" width="313.9" height="86.89999999999998" fill="none" stroke="#222" stroke-width="0.85"/>
<line x1="37.40" x2="37.40" y1="443.4" y2="446.4" stroke="#2a2a2a" stroke-width="0.8"/>
<text x="37.40" y="455.80" text-anchor="middle" font-size="8.0" font-family="DejaVu Sans, Liberation Sans, sans-serif" fill="#1c1c1c">11.8</text>
<line x1="76.40" x2="76.40" y1="443.4" y2="446.4" stroke="#2a2a2a" stroke-width="0.8"/>
<text x="76.40" y="455.80" text-anchor="middle" font-size="8.0" font-family="DejaVu Sans, Liberation Sans, sans-serif" fill="#1c1c1c">12.0</text>
<line x1="115.40" x2="115.40" y1="443.4" y2="446.4" stroke="#2a2a2a" stroke-width="0.8"/>
<text x="115.40" y="455.80" text-anchor="middle" font-size="8.0" font-family="DejaVu Sans, Liberation Sans, sans-serif" fill="#1c1c1c">12.2</text>
<line x1="154.40" x2="154.40" y1="443.4" y2="446.4" stroke="#2a2a2a" stroke-width="0.8"/>
<text x="154.40" y="455.80" text-anchor="middle" font-size="8.0" font-family="DejaVu Sans, Liberation Sans, sans-serif" fill="#1c1c1c">12.4</text>
<line x1="193.40" x2="193.40" y1="443.4" y2="446.4" stroke="#2a2a2a" stroke-width="0.8"/>
<text x="193.40" y="455.80" text-anchor="middle" font-size="8.0" font-family="DejaVu Sans, Liberation Sans, sans-serif" fill="#1c1c1c">12.6</text>
<line x1="232.40" x2="232.40" y1="443.4" y2="446.4" stroke="#2a2a2a" stroke-width="0.8"/>
<text x="232.40" y="455.80" text-anchor="middle" font-size="8.0" font-family="DejaVu Sans, Liberation Sans, sans-serif" fill="#1c1c1c">12.8</text>
<line x1="271.40" x2="271.40" y1="443.4" y2="446.4" stroke="#2a2a2a" stroke-width="0.8"/>
<text x="271.40" y="455.80" text-anchor="middle" font-size="8.0" font-family="DejaVu Sans, Liberation Sans, sans-serif" fill="#1c1c1c">13.0</text>
<line x1="310.40" x2="310.40" y1="443.4" y2="446.4" stroke="#2a2a2a" stroke-width="0.8"/>
<text x="310.40" y="455.80" text-anchor="middle" font-size="8.0" font-family="DejaVu Sans, Liberation Sans, sans-serif" fill="#1c1c1c">13.2</text>
<line x1="349.40" x2="349.40" y1="443.4" y2="446.4" stroke="#2a2a2a" stroke-width="0.8"/>
<text x="349.40" y="455.80" text-anchor="middle" font-size="8.0" font-family="DejaVu Sans, Liberation Sans, sans-serif" fill="#1c1c1c">13.4</text>
<line x1="34.6" x2="37.6" y1="365.60" y2="365.60" stroke="#2a2a2a" stroke-width="0.8"/>
<text x="32.00" y="368.88" text-anchor="end" font-size="8.0" font-family="DejaVu Sans, Liberation Sans, sans-serif" fill="#1c1c1c">20</text>
<line x1="34.6" x2="37.6" y1="399.20" y2="399.20" stroke="#2a2a2a" stroke-width="0.8"/>
<text x="32.00" y="402.48" text-anchor="end" font-size="8.0" font-family="DejaVu Sans, Liberation Sans, sans-serif" fill="#1c1c1c">0</text>
<line x1="34.6" x2="37.6" y1="432.80" y2="432.80" stroke="#2a2a2a" stroke-width="0.8"/>
<text x="32.00" y="436.08" text-anchor="end" font-size="8.0" font-family="DejaVu Sans, Liberation Sans, sans-serif" fill="#1c1c1c">−20</text>
<text transform="translate(8.6,399.65) rotate(-90)" text-anchor="middle" font-size="9.75" font-family="Liberation Sans, sans-serif" fill="#1c1c1c">Angular velocity (rad/s)</text>
<rect x="243.5" y="360" width="104.0" height="14.399999999999977" rx="1.6" fill="#fff" fill-opacity="0.8" stroke="#ccc" stroke-opacity="0.8" stroke-width="0.6"/>
<line x1="246.40" x2="263.40" y1="367.20" y2="367.20" stroke="#0000ff" stroke-width="1.25"/>
<text x="343.9" y="370.12" text-anchor="end" font-size="8.1" font-family="DejaVu Sans, Liberation Sans, sans-serif" fill="#1c1c1c">Experimental data</text>
<text x="194.5" y="468" text-anchor="middle" font-size="10.5" font-family="Liberation Sans, sans-serif" fill="#1c1c1c">Time (s)</text>
<text x="170.3" y="486" text-anchor="middle" font-size="15.8" font-family="Liberation Serif, serif" fill="#000" stroke="#000" stroke-width="0.25">(c)</text>
</svg>
</body></html>
